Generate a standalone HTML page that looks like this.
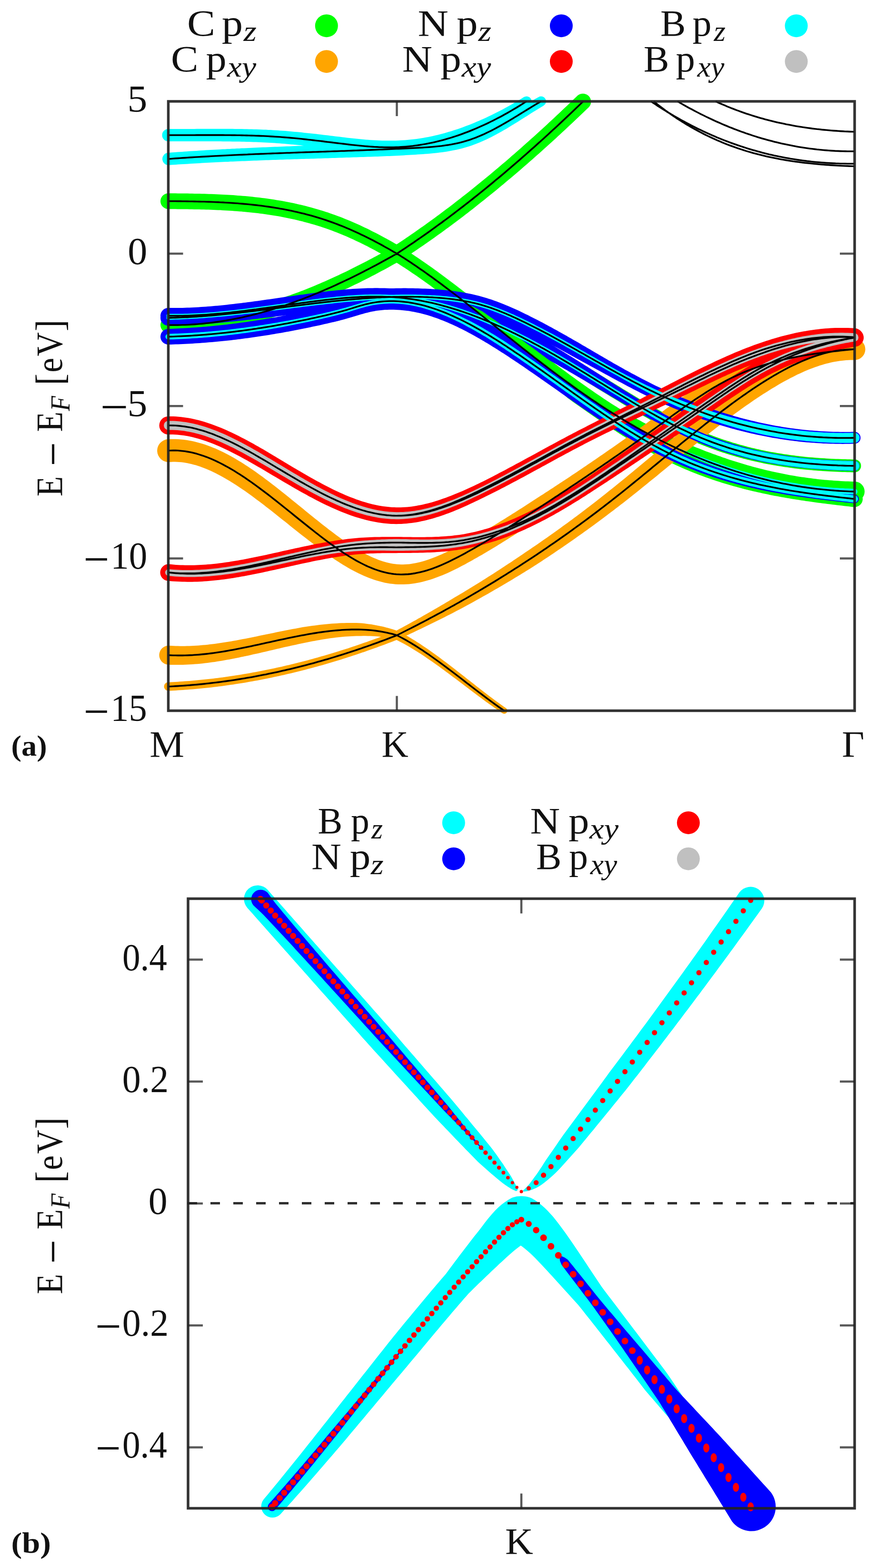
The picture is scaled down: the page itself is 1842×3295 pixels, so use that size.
<!DOCTYPE html>
<html lang="en"><head><meta charset="utf-8"><title>Projected band structure</title>
<style>html,body{margin:0;padding:0;background:#fff}svg{display:block}</style>
</head><body>
<svg width="1842" height="3295" viewBox="0 0 1842 3295" font-family="'Liberation Serif', serif" role="img" aria-label="Orbital-projected band structure">
<rect width="1842" height="3295" fill="#fff"/>
<circle cx="685.8" cy="54.2" r="24" fill="#00ff00"/>
<circle cx="1178.9" cy="54.2" r="24" fill="#0000ff"/>
<circle cx="1672.5" cy="54.2" r="24" fill="#00ffff"/>
<circle cx="685.8" cy="129.2" r="24" fill="#ffa500"/>
<circle cx="1178.9" cy="129.2" r="24" fill="#ff0000"/>
<circle cx="1672.5" cy="129.2" r="24" fill="#c0c0c0"/>
<circle cx="952.8" cy="1728.9" r="24" fill="#00ffff"/>
<circle cx="1445.8" cy="1728.9" r="24" fill="#ff0000"/>
<circle cx="952.8" cy="1804.7" r="24" fill="#0000ff"/>
<circle cx="1445.8" cy="1804.7" r="24" fill="#c0c0c0"/>
<path fill="#00ff00" d="M353.4 439.2L358.4 439.2L363.4 439.3L368.4 439.3L373.3 439.4L378.3 439.4L383.3 439.5L388.3 439.5L393.3 439.6L398.2 439.7L403.2 439.8L408.2 439.9L413.1 440L418.1 440.1L423.1 440.2L428 440.3L433 440.5L438 440.6L442.9 440.8L447.9 441L452.8 441.2L457.8 441.4L462.7 441.6L467.6 441.9L472.6 442.2L477.5 442.4L482.5 442.7L487.4 443.1L492.3 443.4L497.3 443.8L502.2 444.2L507.1 444.6L512 445L516.9 445.5L521.9 445.9L526.8 446.4L531.7 447L536.6 447.5L541.5 448.1L546.4 448.7L551.3 449.3L556.2 450L561.1 450.7L566 451.4L570.9 452.2L575.8 453L580.7 453.8L585.6 454.6L590.5 455.5L595.4 456.4L600.3 457.4L605.2 458.4L610 459.4L614.9 460.5L619.8 461.6L624.7 462.7L629.6 463.9L634.4 465.1L639.3 466.4L644.2 467.7L649.1 469L653.9 470.4L658.8 471.8L663.7 473.3L668.5 474.8L673.4 476.3L678.3 477.9L683.1 479.6L688 481.3L692.9 483L697.7 484.8L702.6 486.7L707.5 488.5L712.3 490.5L717.2 492.5L722.1 494.5L727 496.6L731.9 498.7L736.7 500.9L741.6 503.1L746.5 505.4L751.4 507.7L756.3 510L761.2 512.4L766.1 514.9L771 517.3L775.9 519.9L780.8 522.4L785.7 525L790.6 527.7L795.5 530.4L800.5 533.1L805.4 535.8L810.3 538.6L815.2 541.5L820.2 544.4L825.1 547.2L829.8 550.1L834.6 553.1L839.6 556.2L844.5 559.4L849.4 562.6L854.3 565.8L859.2 569.1L864.1 572.4L869 575.7L874 579.1L878.9 582.5L883.8 586L888.8 589.5L893.7 593L898.6 596.6L903.6 600.1L908.5 603.8L913.5 607.4L918.4 611.1L923.4 614.7L928.3 618.5L933.3 622.2L938.2 626L943.2 629.7L948.1 633.5L953.1 637.4L958.1 641.2L963 645.1L968 648.9L973 652.8L977.9 656.7L982.9 660.6L987.9 664.6L992.8 668.5L997.8 672.5L1002.8 676.4L1007.8 680.4L1012.8 684.4L1017.7 688.3L1022.7 692.3L1027.7 696.3L1032.7 700.3L1037.7 704.3L1042.7 708.3L1047.7 712.3L1052.7 716.3L1057.6 720.2L1062.6 724.2L1067.6 728.2L1072.6 732.2L1077.6 736.2L1082.6 740.1L1087.7 744.1L1092.7 748L1097.7 751.9L1102.7 755.9L1107.7 759.8L1112.7 763.7L1117.7 767.5L1122.7 771.4L1127.7 775.2L1132.7 779.1L1137.8 782.9L1142.8 786.7L1147.8 790.5L1152.8 794.2L1157.8 798L1162.9 801.7L1167.9 805.4L1172.9 809.1L1177.9 812.8L1182.9 816.5L1188 820.1L1193 823.7L1198 827.3L1203 830.9L1208.1 834.4L1213.1 837.9L1218.1 841.4L1223.2 844.9L1228.2 848.3L1233.2 851.8L1238.3 855.2L1243.3 858.5L1248.3 861.9L1253.4 865.2L1258.4 868.5L1263.4 871.8L1268.5 875L1273.5 878.2L1278.6 881.4L1283.6 884.6L1288.7 887.7L1293.7 890.8L1298.7 894L1303.7 897.1L1308.7 900.2L1313.7 903.2L1318.7 906.2L1323.7 909.2L1328.7 912.2L1333.7 915.1L1338.7 918L1343.7 920.9L1348.7 923.8L1353.7 926.6L1358.7 929.3L1363.7 932.1L1368.8 934.8L1373.8 937.5L1378.8 940.2L1383.8 942.8L1388.8 945.4L1393.8 948L1398.9 950.5L1403.9 953L1408.9 955.5L1413.9 957.9L1419 960.4L1424 962.8L1429 965.1L1434 967.4L1439.1 969.7L1444.1 972L1449.1 974.3L1454.2 976.5L1459.2 978.6L1464.2 980.8L1469.3 982.9L1474.3 985L1479.4 987.1L1484.4 989.1L1489.4 991.1L1494.5 993L1499.6 994.9L1504.6 996.8L1509.7 998.6L1514.7 1000.4L1519.8 1002.2L1524.9 1003.9L1530 1005.6L1535 1007.3L1540.1 1009L1545.2 1010.6L1550.2 1012.2L1555.3 1013.8L1560.4 1015.3L1565.5 1016.8L1570.5 1018.3L1575.6 1019.7L1580.7 1021.1L1585.8 1022.5L1590.8 1023.9L1595.9 1025.2L1601 1026.5L1606.1 1027.7L1611.2 1029L1616.2 1030.2L1621.3 1031.4L1626.4 1032.5L1631.5 1033.6L1636.6 1034.7L1641.6 1035.8L1646.7 1036.8L1651.8 1037.8L1656.9 1038.8L1662 1039.7L1667.1 1040.6L1672.2 1041.5L1677.3 1042.4L1682.3 1043.2L1687.4 1044L1692.5 1044.8L1697.6 1045.5L1702.7 1046.2L1707.8 1046.9L1712.9 1047.5L1718 1048.1L1723.1 1048.7L1728.2 1049.3L1733.3 1049.8L1738.4 1050.3L1743.4 1050.8L1748.5 1051.3L1753.6 1051.7L1758.7 1052.1L1763.8 1052.4L1768.9 1052.8L1774 1053.1L1779.1 1053.4L1784.2 1053.6L1789.3 1053.8L1794.4 1054A21 21 0 0 0 1795.6 1012L1790.7 1011.9L1785.9 1011.8L1781 1011.6L1776.1 1011.4L1771.3 1011.2L1766.4 1010.9L1761.5 1010.6L1756.6 1010.3L1751.8 1010L1746.9 1009.6L1742 1009.3L1737.2 1008.8L1732.3 1008.4L1727.4 1007.9L1722.6 1007.4L1717.7 1006.9L1712.8 1006.3L1707.9 1005.8L1703.1 1005.1L1698.2 1004.5L1693.3 1003.8L1688.5 1003.1L1683.6 1002.4L1678.7 1001.7L1673.8 1000.9L1669 1000.1L1664.1 999.2L1659.2 998.4L1654.3 997.5L1649.4 996.6L1644.6 995.6L1639.7 994.6L1634.8 993.6L1629.9 992.6L1625 991.5L1620.2 990.4L1615.3 989.3L1610.4 988.2L1605.5 987L1600.6 985.8L1595.7 984.6L1590.8 983.3L1586 982L1581.1 980.7L1576.2 979.3L1571.3 977.9L1566.4 976.5L1561.5 975.1L1556.6 973.6L1551.7 972.1L1546.8 970.6L1541.9 969.1L1537 967.5L1532.1 965.9L1527.2 964.2L1522.3 962.6L1517.4 960.9L1512.6 959.1L1507.7 957.4L1502.7 955.6L1497.8 953.9L1492.9 952.1L1488 950.2L1483 948.4L1478.1 946.5L1473.2 944.6L1468.3 942.6L1463.3 940.7L1458.4 938.7L1453.5 936.6L1448.5 934.6L1443.6 932.5L1438.7 930.3L1433.7 928.2L1428.8 926L1423.9 923.8L1418.9 921.5L1414 919.2L1409 916.9L1404.1 914.6L1399.1 912.2L1394.2 909.8L1389.2 907.4L1384.3 904.9L1379.3 902.5L1374.4 899.9L1369.4 897.4L1364.5 894.8L1359.5 892.2L1354.6 889.5L1349.6 886.9L1344.7 884.1L1339.7 881.4L1334.7 878.6L1329.8 875.8L1324.8 873L1319.8 870.1L1314.9 867.3L1309.9 864.3L1305 861.3L1300.1 858.3L1295.1 855.1L1290.2 852L1285.3 848.9L1280.4 845.7L1275.4 842.4L1270.5 839.2L1265.6 835.9L1260.7 832.6L1255.7 829.3L1250.8 825.9L1245.9 822.6L1240.9 819.1L1236 815.7L1231.1 812.3L1226.1 808.8L1221.2 805.3L1216.3 801.7L1211.3 798.2L1206.4 794.6L1201.4 791L1196.5 787.4L1191.6 783.8L1186.6 780.1L1181.7 776.4L1176.7 772.7L1171.8 769L1166.8 765.3L1161.9 761.5L1157 757.7L1152 753.9L1147.1 750.1L1142.1 746.3L1137.2 742.4L1132.2 738.6L1127.2 734.7L1122.3 730.8L1117.3 726.9L1112.4 723L1107.4 719.1L1102.5 715.1L1097.5 711.2L1092.5 707.2L1087.6 703.2L1082.6 699.3L1077.6 695.3L1072.7 691.3L1067.7 687.3L1062.7 683.3L1057.8 679.3L1052.8 675.3L1047.8 671.3L1042.8 667.2L1037.9 663.2L1032.9 659.2L1027.9 655.2L1022.9 651.2L1017.9 647.2L1012.9 643.3L1007.9 639.3L1002.9 635.3L998 631.3L993 627.4L988 623.5L983 619.5L978 615.6L973 611.7L968 607.8L963 604L957.9 600.1L952.9 596.3L947.9 592.5L942.9 588.7L937.9 584.9L932.9 581.2L927.9 577.5L922.8 573.8L917.8 570.1L912.8 566.5L907.8 562.8L902.7 559.3L897.7 555.7L892.7 552.2L887.6 548.7L882.6 545.2L877.5 541.8L872.5 538.4L867.4 535.1L862.4 531.8L857.3 528.5L852.3 525.2L847.2 522L841.9 518.8L836.8 515.8L831.8 512.9L826.7 510L821.6 507.1L816.5 504.3L811.5 501.4L806.4 498.7L801.3 495.9L796.2 493.2L791.1 490.6L786 487.9L780.9 485.4L775.8 482.8L770.7 480.3L765.6 477.9L760.5 475.5L755.4 473.1L750.3 470.8L745.1 468.5L740 466.3L734.9 464.1L729.8 462L724.7 459.9L719.5 457.8L714.4 455.8L709.3 453.9L704.1 452L699 450.2L693.9 448.4L688.7 446.6L683.6 445L678.5 443.3L673.3 441.7L668.2 440.2L663.1 438.7L657.9 437.2L652.8 435.8L647.7 434.4L642.6 433.1L637.4 431.8L632.3 430.6L627.2 429.4L622.1 428.3L617 427.1L611.8 426.1L606.7 425L601.6 424L596.5 423.1L591.4 422.1L586.3 421.3L581.2 420.4L576.1 419.6L571 418.8L565.9 418L560.8 417.3L555.7 416.6L550.6 416L545.5 415.3L540.4 414.7L535.3 414.2L530.2 413.6L525.1 413.1L520.1 412.6L515 412.1L509.9 411.7L504.8 411.3L499.7 410.9L494.7 410.5L489.6 410.1L484.5 409.8L479.5 409.5L474.4 409.2L469.4 408.9L464.3 408.7L459.2 408.4L454.2 408.2L449.1 408L444.1 407.8L439 407.7L434 407.5L429 407.3L423.9 407.2L418.9 407.1L413.9 407L408.8 406.9L403.8 406.8L398.8 406.7L393.7 406.6L388.7 406.6L383.7 406.5L378.7 406.4L373.7 406.4L368.6 406.3L363.6 406.3L358.6 406.3L353.6 406.2A16.5 16.5 0 0 0 353.4 439.2ZM353.2 699.5L358.3 699.6L363.4 699.6L368.6 699.6L373.7 699.6L378.9 699.5L384 699.3L389.1 699.2L394.3 699L399.4 698.7L404.5 698.4L409.7 698.1L414.8 697.7L419.9 697.2L425 696.8L430.2 696.3L435.3 695.7L440.4 695.2L445.5 694.5L450.7 693.9L455.8 693.2L460.9 692.4L466 691.7L471.2 690.8L476.3 690L481.4 689.1L486.5 688.2L491.6 687.2L496.7 686.2L501.8 685.2L506.9 684.1L512 683L517.2 681.9L522.3 680.7L527.4 679.5L532.5 678.2L537.6 676.9L542.7 675.6L547.8 674.3L552.9 672.9L558 671.5L563.1 670L568.2 668.5L573.2 667L578.3 665.5L583.4 663.9L588.5 662.3L593.6 660.7L598.7 659L603.8 657.3L608.9 655.5L614 653.8L619 652L624.1 650.2L629.2 648.3L634.3 646.4L639.4 644.5L644.4 642.6L649.5 640.6L654.6 638.6L659.7 636.6L664.7 634.5L669.8 632.4L674.9 630.3L679.9 628.2L685 626L690.1 623.9L695.1 621.6L700.2 619.4L705.3 617.1L710.3 614.9L715.4 612.5L720.5 610.2L725.5 607.8L730.6 605.5L735.6 603L740.7 600.6L745.7 598.1L750.8 595.7L755.9 593.2L760.9 590.6L766 588.1L771 585.5L776.1 582.9L781.1 580.3L786.2 577.7L791.2 575L796.3 572.3L801.3 569.6L806.4 566.9L811.4 564.2L816.4 561.4L821.5 558.6L826.5 555.8L831.6 553L836.6 550.2L842.1 547.1L847.5 543.6L852.5 540.3L857.5 537L862.5 533.7L867.5 530.3L872.5 526.9L877.5 523.5L882.5 520.1L887.5 516.7L892.5 513.2L897.5 509.7L902.5 506.2L907.5 502.7L912.5 499.2L917.5 495.6L922.5 492L927.5 488.4L932.5 484.7L937.5 481.1L942.5 477.4L947.5 473.7L952.5 470L957.5 466.2L962.5 462.5L967.5 458.7L972.5 454.9L977.5 451L982.5 447.2L987.5 443.3L992.5 439.4L997.5 435.5L1002.4 431.6L1007.4 427.6L1012.4 423.6L1017.4 419.7L1022.4 415.6L1027.4 411.6L1032.4 407.5L1037.4 403.5L1042.4 399.4L1047.4 395.3L1052.4 391.1L1057.4 387L1062.3 382.8L1067.3 378.6L1072.3 374.4L1077.3 370.2L1082.3 365.9L1087.3 361.7L1092.3 357.4L1097.3 353.1L1102.2 348.7L1107.2 344.4L1112.2 340L1117.2 335.7L1122.2 331.3L1127.2 326.8L1132.2 322.4L1137.2 318L1142.1 313.5L1147.1 309L1152.1 304.5L1157.1 300L1162.1 295.4L1167.1 290.9L1172 286.3L1177 281.7L1182 277.1L1187 272.4L1192 267.8L1197 263.1L1201.9 258.5L1206.9 253.8L1211.9 249L1216.9 244.3L1221.9 239.6L1226.9 234.8L1231.8 230L1236.8 225.2A17 17 0 0 0 1213.2 200.8L1208.3 205.5L1203.3 210.3L1198.4 215L1193.5 219.7L1188.5 224.4L1183.6 229.1L1178.7 233.8L1173.7 238.4L1168.8 243.1L1163.9 247.7L1159 252.3L1154 256.8L1149.1 261.4L1144.2 266L1139.3 270.5L1134.3 275L1129.4 279.5L1124.5 283.9L1119.5 288.4L1114.6 292.8L1109.7 297.3L1104.8 301.6L1099.8 306L1094.9 310.4L1090 314.7L1085.1 319.1L1080.1 323.4L1075.2 327.6L1070.3 331.9L1065.4 336.2L1060.5 340.4L1055.5 344.6L1050.6 348.8L1045.7 353L1040.8 357.1L1035.8 361.2L1030.9 365.4L1026 369.4L1021.1 373.5L1016.2 377.6L1011.2 381.6L1006.3 385.6L1001.4 389.6L996.5 393.6L991.6 397.5L986.6 401.5L981.7 405.4L976.8 409.3L971.9 413.1L967 417L962 420.8L957.1 424.6L952.2 428.4L947.3 432.2L942.4 435.9L937.5 439.6L932.5 443.3L927.6 447L922.7 450.7L917.8 454.3L912.9 457.9L908 461.5L903.1 465.1L898.2 468.6L893.2 472.2L888.3 475.7L883.4 479.1L878.5 482.6L873.6 486L868.7 489.5L863.8 492.8L858.9 496.2L854 499.6L849 502.9L844.1 506.2L839.2 509.5L834.3 512.7L829.4 516L824.9 518.9L820.4 521.4L815.4 524.2L810.5 527L805.5 529.7L800.6 532.5L795.6 535.2L790.6 537.9L785.7 540.5L780.7 543.2L775.8 545.8L770.8 548.4L765.9 551L760.9 553.6L756 556.1L751 558.6L746.1 561.1L741.1 563.6L736.2 566.1L731.3 568.5L726.3 570.9L721.4 573.3L716.4 575.6L711.5 578L706.5 580.3L701.6 582.6L696.7 584.8L691.7 587L686.8 589.3L681.9 591.4L676.9 593.6L672 595.7L667.1 597.8L662.1 599.9L657.2 601.9L652.3 604L647.3 606L642.4 607.9L637.5 609.9L632.6 611.8L627.6 613.7L622.7 615.5L617.8 617.3L612.9 619.1L608 620.9L603 622.6L598.1 624.3L593.2 626L588.3 627.7L583.4 629.3L578.5 630.9L573.6 632.4L568.7 633.9L563.8 635.4L558.8 636.9L553.9 638.3L549 639.7L544.1 641.1L539.2 642.4L534.3 643.7L529.4 645L524.5 646.2L519.6 647.4L514.7 648.6L509.8 649.7L505 650.8L500.1 651.8L495.2 652.9L490.3 653.9L485.4 654.8L480.5 655.7L475.6 656.6L470.7 657.5L465.8 658.3L461 659.1L456.1 659.8L451.2 660.5L446.3 661.2L441.5 661.8L436.6 662.4L431.7 662.9L426.8 663.5L422 663.9L417.1 664.4L412.2 664.8L407.3 665.1L402.5 665.5L397.6 665.7L392.7 666L387.9 666.2L383 666.4L378.1 666.5L373.3 666.6L368.4 666.6L363.6 666.6L358.7 666.6L353.8 666.5A16.5 16.5 0 0 0 353.2 699.5ZM1101.5 711.6L1106.1 715.1L1110.6 718.6L1115.1 722.1L1119.6 725.6L1124.1 729.2L1128.6 732.8L1133.1 736.4L1137.5 740L1142 743.6L1146.5 747.3L1150.9 751L1155.4 754.7L1159.9 758.4L1164.5 761.9L1169.4 764.8L1174.4 767.7L1179.4 770.6L1184.3 773.6L1189.3 776.5L1194.3 779.5L1199.2 782.5L1204.2 785.5L1209.2 788.5L1214.2 791.5L1219.2 794.5L1224.2 797.6L1229.1 800.6L1234.1 803.7L1239.1 806.7L1244.1 809.8L1249.1 812.8L1254.1 815.9L1259.1 819L1264.1 822L1269.1 825.1L1274.1 828.1L1279.1 831.2L1284.1 834.2L1289.2 837.3L1294.2 840.3L1299.2 843.3L1304.2 846.4L1309.2 849.4L1314.2 852.4L1319.3 855.3L1324.3 858.3L1329.3 861.3L1334.3 864.2L1339.4 867.1L1344.4 870L1349.4 872.9L1354.5 875.8L1359.5 878.6L1364.5 881.4L1369.6 884.2L1374.6 887L1379.7 889.7L1384.7 892.4L1389.8 895.1L1394.8 897.8L1399.9 900.4L1404.9 903L1410 905.6L1415 908.1L1420.1 910.6L1425.2 913L1430.3 915.5L1435.3 917.8L1440.4 920.2L1445.5 922.5L1450.5 924.8L1455.6 927L1460.7 929.2L1465.8 931.4L1470.8 933.5L1475.9 935.5L1481 937.5L1486.1 939.5L1491.2 941.4L1496.2 943.3L1501.3 945.1L1506.4 946.9L1511.5 948.7L1516.6 950.4L1521.6 952L1526.7 953.7L1531.8 955.3L1536.9 956.8L1541.9 958.3L1547 959.8L1552.1 961.2L1557.2 962.6L1562.2 963.9L1567.3 965.2L1572.4 966.5L1577.5 967.7L1582.5 968.9L1587.6 970.1L1592.7 971.2L1597.8 972.3L1602.8 973.4L1607.9 974.4L1613 975.4L1618 976.3L1623.1 977.2L1628.2 978.1L1633.2 979L1638.3 979.8L1643.4 980.6L1648.4 981.4L1653.5 982.1L1658.5 982.8L1663.6 983.5L1668.7 984.2L1673.7 984.8L1678.8 985.4L1683.8 985.9L1688.9 986.5L1693.9 987L1699 987.5L1704.1 987.9L1709.1 988.4L1714.2 988.8L1719.2 989.2L1724.2 989.5L1729.3 989.9L1734.3 990.2L1739.4 990.5L1744.4 990.8L1749.5 991L1754.5 991.3L1759.6 991.5L1764.6 991.7L1769.6 991.9L1774.7 992L1779.7 992.2L1784.7 992.3L1789.8 992.4L1794.8 992.5A13.5 13.5 0 0 0 1795.2 965.5L1790.2 965.4L1785.3 965.3L1780.4 965.2L1775.4 965.1L1770.5 965L1765.6 964.8L1760.6 964.6L1755.7 964.4L1750.7 964.2L1745.8 964L1740.9 963.7L1735.9 963.4L1731 963.1L1726.1 962.8L1721.2 962.5L1716.2 962.1L1711.3 961.7L1706.4 961.3L1701.5 960.9L1696.5 960.4L1691.6 959.9L1686.7 959.4L1681.8 958.9L1676.9 958.3L1671.9 957.7L1667 957.1L1662.1 956.5L1657.2 955.8L1652.3 955.1L1647.4 954.4L1642.5 953.6L1637.5 952.8L1632.6 952L1627.7 951.1L1622.8 950.3L1617.9 949.4L1613 948.4L1608.1 947.4L1603.2 946.4L1598.3 945.4L1593.4 944.3L1588.5 943.2L1583.6 942.1L1578.7 940.9L1573.8 939.7L1568.9 938.4L1564 937.1L1559.1 935.8L1554.2 934.5L1549.3 933.1L1544.4 931.6L1539.5 930.2L1534.6 928.6L1529.7 927.1L1524.8 925.5L1519.9 923.9L1515 922.2L1510.1 920.5L1505.2 918.7L1500.3 916.9L1495.4 915.1L1490.5 913.2L1485.6 911.3L1480.7 909.3L1475.8 907.3L1470.9 905.2L1466 903.1L1461.1 901L1456.2 898.8L1451.3 896.5L1446.4 894.2L1441.5 891.9L1436.6 889.5L1431.7 887.1L1426.8 884.6L1421.9 882.2L1416.9 879.6L1412 877.1L1407.1 874.5L1402.2 871.8L1397.2 869.2L1392.3 866.5L1387.4 863.8L1382.5 861L1377.5 858.2L1372.6 855.4L1367.6 852.6L1362.7 849.8L1357.8 846.9L1352.8 844L1347.9 841.1L1342.9 838.2L1338 835.2L1333 832.2L1328.1 829.3L1323.1 826.3L1318.2 823.3L1313.2 820.2L1308.2 817.2L1303.3 814.1L1298.3 811.1L1293.3 808L1288.4 805L1283.4 801.9L1278.4 798.8L1273.5 795.7L1268.5 792.6L1263.5 789.5L1258.5 786.4L1253.5 783.3L1248.6 780.2L1243.6 777.2L1238.6 774.1L1233.6 771L1228.6 767.9L1223.6 764.9L1218.6 761.8L1213.6 758.7L1208.6 755.7L1203.6 752.7L1198.6 749.7L1193.6 746.7L1188.6 743.7L1183.6 740.7L1178.6 737.7L1173.2 735.4L1167.7 733.4L1162.2 731.4L1156.6 729.4L1151.1 727.4L1145.6 725.5L1140.1 723.6L1134.6 721.7L1129.2 719.8L1123.7 718L1118.2 716.2L1112.7 714.4L1107.3 712.7L1101.8 711A0.3 0.3 0 0 0 1101.5 711.6ZM1121.5 767.6L1125.9 771.8L1130.3 776.1L1134.7 780.4L1139.2 784.8L1143.6 789.1L1148 793.4L1152.4 797.7L1156.9 802.1L1161.3 806.4L1165.7 810.7L1170.1 815.1L1174.6 819.4L1179 823.8L1183.4 828.1L1187.9 832.4L1192.5 836.6L1197.5 840.1L1202.4 843.7L1207.4 847.2L1212.4 850.8L1217.4 854.3L1222.4 857.8L1227.4 861.3L1232.4 864.8L1237.4 868.3L1242.4 871.8L1247.5 875.3L1252.5 878.7L1257.5 882.2L1262.5 885.6L1267.5 889L1272.5 892.3L1277.5 895.7L1282.6 899L1287.6 902.4L1292.6 905.6L1297.7 908.9L1302.7 912.2L1307.7 915.4L1312.8 918.6L1317.8 921.7L1322.8 924.8L1327.9 927.9L1332.9 931L1338 934L1343 937L1348.1 940L1353.2 942.9L1358.2 945.8L1363.3 948.6L1368.4 951.5L1373.4 954.2L1378.5 957L1383.6 959.6L1388.7 962.3L1393.8 964.9L1398.9 967.4L1403.9 969.9L1409 972.4L1414.1 974.8L1419.2 977.2L1424.3 979.5L1429.4 981.7L1434.5 984L1439.6 986.2L1444.7 988.3L1449.7 990.4L1454.8 992.5L1459.9 994.5L1465 996.5L1470.1 998.4L1475.2 1000.3L1480.3 1002.2L1485.3 1004L1490.4 1005.8L1495.5 1007.5L1500.6 1009.3L1505.7 1010.9L1510.8 1012.6L1515.8 1014.2L1520.9 1015.8L1526 1017.3L1531.1 1018.8L1536.1 1020.3L1541.2 1021.7L1546.3 1023.1L1551.4 1024.5L1556.4 1025.8L1561.5 1027.2L1566.6 1028.5L1571.6 1029.7L1576.7 1030.9L1581.8 1032.2L1586.8 1033.3L1591.9 1034.5L1597 1035.6L1602 1036.7L1607.1 1037.8L1612.1 1038.8L1617.2 1039.9L1622.3 1040.9L1627.3 1041.9L1632.4 1042.8L1637.4 1043.8L1642.5 1044.7L1647.5 1045.6L1652.6 1046.5L1657.6 1047.3L1662.6 1048.2L1667.7 1049L1672.7 1049.8L1677.8 1050.6L1682.8 1051.4L1687.8 1052.1L1692.9 1052.9L1697.9 1053.6L1702.9 1054.3L1707.9 1055L1713 1055.7L1718 1056.4L1723 1057L1728 1057.7L1733.1 1058.3L1738.1 1059L1743.1 1059.6L1748.1 1060.2L1753.1 1060.8L1758.1 1061.4L1763.1 1062L1768.1 1062.6L1773.1 1063.2L1778.2 1063.7L1783.2 1064.3L1788.2 1064.9L1793.1 1065.4A17 17 0 0 0 1796.9 1031.6L1791.9 1031.1L1786.9 1030.6L1781.9 1030L1776.9 1029.5L1772 1028.9L1767 1028.4L1762 1027.8L1757.1 1027.2L1752.1 1026.7L1747.1 1026.1L1742.2 1025.5L1737.2 1024.9L1732.3 1024.3L1727.3 1023.7L1722.4 1023L1717.4 1022.4L1712.5 1021.7L1707.5 1021.1L1702.6 1020.4L1697.6 1019.7L1692.7 1019L1687.7 1018.3L1682.8 1017.5L1677.9 1016.8L1672.9 1016L1668 1015.2L1663.1 1014.4L1658.1 1013.6L1653.2 1012.8L1648.3 1011.9L1643.3 1011.1L1638.4 1010.2L1633.5 1009.3L1628.6 1008.3L1623.6 1007.4L1618.7 1006.4L1613.8 1005.4L1608.9 1004.4L1604 1003.3L1599.1 1002.3L1594.2 1001.2L1589.2 1000.1L1584.3 998.9L1579.4 997.8L1574.5 996.6L1569.6 995.3L1564.7 994.1L1559.8 992.8L1554.9 991.5L1550 990.2L1545.1 988.8L1540.2 987.4L1535.3 986L1530.4 984.5L1525.5 983L1520.6 981.5L1515.7 980L1510.8 978.4L1505.9 976.7L1501 975.1L1496.1 973.4L1491.2 971.7L1486.4 969.9L1481.5 968.1L1476.6 966.3L1471.7 964.4L1466.8 962.5L1461.9 960.5L1457 958.5L1452.1 956.5L1447.2 954.4L1442.4 952.3L1437.5 950.1L1432.6 947.9L1427.7 945.7L1422.8 943.4L1417.9 941.1L1413 938.7L1408.1 936.3L1403.3 933.8L1398.4 931.3L1393.5 928.7L1388.6 926.1L1383.7 923.5L1378.8 920.8L1373.9 918.1L1368.9 915.3L1364 912.5L1359.1 909.6L1354.2 906.7L1349.3 903.8L1344.3 900.8L1339.4 897.9L1334.5 894.8L1329.5 891.8L1324.6 888.7L1319.7 885.5L1314.7 882.4L1309.8 879.2L1304.8 876L1299.9 872.8L1294.9 869.5L1290 866.2L1285 862.9L1280.1 859.6L1275.1 856.2L1270.1 852.9L1265.2 849.5L1260.2 846.1L1255.2 842.7L1250.3 839.2L1245.3 835.8L1240.3 832.3L1235.3 828.8L1230.4 825.3L1225.4 821.8L1220.4 818.3L1215.4 814.8L1210.4 811.3L1205 808.3L1199.5 805.5L1194 802.8L1188.4 800L1182.9 797.2L1177.3 794.5L1171.8 791.7L1166.2 788.9L1160.7 786.2L1155.1 783.4L1149.6 780.7L1144 777.9L1138.5 775.2L1132.9 772.5L1127.4 769.7L1121.8 767A0.3 0.3 0 0 0 1121.5 767.6Z"/>
<path fill="#ffa500" d="M354.9 971L359.5 970.7L363.7 970.5L367.9 970.5L372.2 970.7L376.4 970.9L380.7 971.3L385 971.8L389.4 972.5L393.7 973.3L398.1 974.2L402.5 975.2L407 976.4L411.4 977.6L415.9 979L420.5 980.6L425 982.2L429.6 983.9L434.1 985.8L438.7 987.8L443.4 989.8L448 992L452.7 994.3L457.4 996.7L462.1 999.2L466.8 1001.8L471.6 1004.4L476.3 1007.2L481.1 1010L485.9 1013L490.7 1016L495.5 1019.1L500.3 1022.2L505.1 1025.5L510 1028.8L514.9 1032.1L519.7 1035.6L524.6 1039.1L529.5 1042.6L534.4 1046.2L539.3 1049.9L544.2 1053.6L549.1 1057.3L554.1 1061.1L559 1064.9L564 1068.7L568.9 1072.6L573.9 1076.5L578.9 1080.4L583.8 1084.4L588.8 1088.4L593.8 1092.4L598.8 1096.3L603.8 1100.3L608.8 1104.4L613.8 1108.4L618.9 1112.4L623.9 1116.4L628.9 1120.4L634 1124.4L639 1128.3L644.1 1132.3L649.2 1136.2L654.2 1140.1L659.3 1144L664.4 1147.9L669.5 1151.7L674.6 1155.5L679.7 1159.2L684.9 1162.9L690 1166.6L695.2 1170.2L700.3 1173.7L705.5 1177.2L710.7 1180.6L716 1183.9L721.2 1187.2L726.4 1190.3L731.7 1193.4L737 1196.4L742.3 1199.3L747.6 1202.1L753 1204.8L758.4 1207.3L763.8 1209.8L769.2 1212.1L774.6 1214.3L780.1 1216.3L785.6 1218.3L791.1 1220L796.7 1221.6L802.3 1223.1L807.9 1224.4L813.5 1225.5L819.2 1226.4L824.9 1227.1L830.6 1227.7L836.4 1228L842.1 1228.1L847.8 1228.1L853.5 1227.8L859.1 1227.4L864.7 1226.7L870.3 1226L875.9 1225L881.4 1223.9L886.9 1222.7L892.4 1221.3L897.8 1219.8L903.2 1218.2L908.6 1216.5L914 1214.6L919.3 1212.6L924.6 1210.6L929.9 1208.4L935.2 1206.2L940.4 1203.9L945.6 1201.5L950.8 1199L956 1196.5L961.2 1193.9L966.3 1191.3L971.4 1188.6L976.5 1185.9L981.6 1183.1L986.7 1180.3L991.8 1177.5L996.8 1174.6L1001.9 1171.7L1006.9 1168.8L1012 1165.9L1017 1163L1022 1160L1027.1 1157L1032.1 1154L1037.1 1150.9L1042.2 1147.9L1047.2 1144.8L1052.2 1141.7L1057.2 1138.6L1062.2 1135.4L1067.3 1132.3L1072.3 1129.1L1077.3 1125.9L1082.3 1122.8L1087.3 1119.6L1092.3 1116.3L1097.3 1113.1L1102.3 1109.9L1107.3 1106.6L1112.3 1103.4L1117.3 1100.1L1122.3 1096.9L1127.2 1093.6L1132.2 1090.3L1137.2 1087L1142.2 1083.7L1147.2 1080.5L1152.2 1077.2L1157.1 1073.9L1162.1 1070.6L1167.1 1067.3L1172.1 1064L1177.1 1060.7L1182.1 1057.3L1187 1054L1192 1050.7L1197 1047.4L1202 1044L1207 1040.7L1212 1037.3L1217 1034L1222 1030.7L1227 1027.3L1232 1024L1237 1020.6L1242 1017.3L1247 1013.9L1252 1010.5L1257 1007.2L1262.1 1003.8L1267.1 1000.4L1272.1 996.9L1277.1 993.5L1282.1 990.1L1287.1 986.7L1292.1 983.2L1297.1 979.8L1302.1 976.3L1307.2 972.8L1312.2 969.3L1317.2 965.8L1322.2 962.3L1327.2 958.8L1332.2 955.3L1337.3 951.7L1342.3 948.2L1347.3 944.6L1352.3 941L1357.3 937.4L1362.3 933.8L1367.4 930.2L1372.4 926.6L1377.4 923L1382.4 919.3L1387.4 915.6L1392.4 912L1397.4 908.3L1402.4 904.7L1407.4 901L1412.4 897.3L1417.4 893.7L1422.3 890.1L1427.3 886.5L1432.3 882.9L1437.2 879.3L1442.2 875.8L1447.1 872.3L1452 868.8L1457 865.3L1461.9 861.9L1466.8 858.5L1471.7 855.2L1476.6 851.9L1481.5 848.7L1486.4 845.5L1491.3 842.3L1496.1 839.3L1501 836.2L1505.8 833.3L1510.7 830.4L1515.5 827.5L1520.3 824.8L1525.1 822.1L1529.9 819.5L1534.7 816.9L1539.5 814.5L1544.3 812.1L1549.1 809.8L1553.9 807.5L1558.6 805.3L1563.4 803.2L1568.2 801.2L1573 799.2L1577.8 797.3L1582.6 795.4L1587.4 793.6L1592.2 791.8L1597 790.2L1601.8 788.5L1606.6 787L1611.4 785.4L1616.2 784L1621 782.5L1625.8 781.2L1630.6 779.8L1635.4 778.5L1640.2 777.3L1645.1 776.1L1649.9 775L1654.7 773.9L1659.6 772.8L1664.4 771.8L1669.3 770.8L1674.1 769.8L1679 768.9L1683.8 768L1688.7 767.1L1693.6 766.3L1698.4 765.5L1703.3 764.7L1708.2 764L1713.1 763.3L1718 762.6L1722.9 761.9L1727.8 761.3L1732.7 760.6L1737.6 760L1742.5 759.4L1747.5 758.8L1752.4 758.3L1757.3 757.7L1762.3 757.2L1767.2 756.6L1772.2 756.1L1777.1 755.6L1782.1 755.1L1787.1 754.6L1792 754.1L1797 753.6A20 20 0 0 0 1793 713.8L1788 714.3L1783 714.8L1778 715.4L1773 715.9L1768 716.4L1762.9 717L1757.9 717.5L1752.9 718.1L1747.8 718.7L1742.8 719.3L1737.7 719.9L1732.7 720.5L1727.6 721.2L1722.6 721.8L1717.5 722.5L1712.4 723.2L1707.3 724L1702.2 724.7L1697.2 725.5L1692.1 726.4L1687 727.2L1681.8 728.1L1676.7 729L1671.6 730L1666.5 731L1661.4 732L1656.2 733.1L1651.1 734.2L1646 735.3L1640.8 736.5L1635.7 737.8L1630.5 739.1L1625.4 740.4L1620.2 741.8L1615.1 743.2L1609.9 744.7L1604.7 746.3L1599.6 747.9L1594.4 749.5L1589.2 751.3L1584 753L1578.9 754.9L1573.7 756.8L1568.5 758.7L1563.3 760.8L1558.1 762.9L1552.9 765.1L1547.7 767.3L1542.5 769.6L1537.3 772L1532.2 774.5L1527 777L1521.8 779.6L1516.6 782.3L1511.4 785.1L1506.2 787.9L1501 790.8L1495.9 793.8L1490.7 796.8L1485.6 799.9L1480.5 803.1L1475.4 806.3L1470.3 809.5L1465.2 812.8L1460.1 816.2L1455 819.6L1449.9 823L1444.8 826.5L1439.8 830L1434.7 833.5L1429.7 837.1L1424.6 840.6L1419.6 844.2L1414.6 847.9L1409.5 851.5L1404.5 855.2L1399.5 858.8L1394.5 862.5L1389.5 866.2L1384.5 869.8L1379.5 873.5L1374.6 877.2L1369.6 880.9L1364.6 884.5L1359.6 888.2L1354.7 891.8L1349.7 895.4L1344.8 899L1339.8 902.6L1334.9 906.2L1329.9 909.8L1324.9 913.3L1320 916.9L1315 920.4L1310.1 923.9L1305.1 927.4L1300.1 930.9L1295.2 934.4L1290.2 937.9L1285.3 941.4L1280.3 944.8L1275.3 948.3L1270.4 951.7L1265.4 955.2L1260.4 958.6L1255.5 962L1250.5 965.4L1245.6 968.8L1240.6 972.2L1235.6 975.6L1230.7 979L1225.7 982.3L1220.7 985.7L1215.8 989L1210.8 992.4L1205.8 995.7L1200.8 999.1L1195.9 1002.4L1190.9 1005.7L1185.9 1009L1180.9 1012.3L1175.9 1015.6L1171 1018.8L1166 1022.1L1161 1025.4L1156 1028.6L1151 1031.9L1146 1035.1L1141 1038.4L1136 1041.6L1131 1044.8L1126 1048.1L1121 1051.3L1116 1054.5L1111 1057.8L1106 1061L1101.1 1064.2L1096.1 1067.4L1091.1 1070.6L1086.1 1073.7L1081.1 1076.9L1076.1 1080.1L1071.2 1083.2L1066.2 1086.3L1061.2 1089.5L1056.3 1092.6L1051.3 1095.6L1046.3 1098.7L1041.4 1101.8L1036.4 1104.8L1031.5 1107.8L1026.5 1110.8L1021.5 1113.8L1016.6 1116.7L1011.6 1119.7L1006.7 1122.6L1001.8 1125.4L996.8 1128.3L991.9 1131.1L987 1133.9L982 1136.7L977.1 1139.5L972.2 1142.2L967.3 1144.9L962.4 1147.5L957.5 1150.1L952.6 1152.6L947.8 1155.1L942.9 1157.5L938.1 1159.9L933.3 1162.2L928.5 1164.4L923.8 1166.5L919 1168.5L914.3 1170.5L909.6 1172.3L905 1174.1L900.3 1175.7L895.7 1177.3L891.1 1178.7L886.6 1180L882 1181.2L877.5 1182.3L873 1183.3L868.6 1184.1L864.2 1184.8L859.8 1185.4L855.4 1185.8L851.1 1186.1L846.8 1186.2L842.5 1186.2L838.3 1186.1L834 1185.8L829.8 1185.3L825.5 1184.7L821.2 1184L816.9 1183.1L812.5 1182L808.1 1180.8L803.7 1179.5L799.3 1178L794.8 1176.4L790.3 1174.6L785.8 1172.8L781.2 1170.7L776.6 1168.6L772 1166.3L767.4 1164L762.8 1161.5L758.1 1158.8L753.4 1156.1L748.7 1153.3L744 1150.4L739.2 1147.4L734.5 1144.3L729.7 1141.1L724.9 1137.8L720.1 1134.4L715.3 1131L710.5 1127.5L705.6 1123.9L700.8 1120.3L695.9 1116.6L691 1112.9L686.1 1109.1L681.2 1105.3L676.3 1101.4L671.4 1097.6L666.5 1093.6L661.6 1089.7L656.7 1085.7L651.7 1081.7L646.8 1077.7L641.8 1073.7L636.9 1069.6L631.9 1065.6L626.9 1061.5L622 1057.5L617 1053.4L612 1049.4L607 1045.3L602 1041.3L597 1037.2L591.9 1033.2L586.9 1029.2L581.9 1025.3L576.8 1021.3L571.8 1017.4L566.7 1013.5L561.7 1009.7L556.6 1005.9L551.5 1002.1L546.4 998.4L541.3 994.7L536.2 991.1L531.1 987.5L525.9 984L520.8 980.6L515.6 977.2L510.4 973.8L505.2 970.6L500 967.4L494.8 964.3L489.6 961.3L484.3 958.3L479.1 955.5L473.8 952.7L468.5 950L463.1 947.5L457.8 945L452.4 942.6L447 940.4L441.6 938.2L436.2 936.2L430.7 934.3L425.2 932.5L419.7 930.9L414.2 929.4L408.6 928L403 926.8L397.4 925.7L391.8 924.8L386.1 924L380.4 923.4L374.7 923L369 922.7L363.2 922.7L357.5 922.8L352.1 923.1A24 24 0 0 0 354.9 971ZM837.5 1343L842.6 1340.7L847.6 1338.4L852.7 1336L857.8 1333.7L862.9 1331.3L868 1328.9L873 1326.5L878.1 1324.1L883.2 1321.7L888.3 1319.2L893.4 1316.8L898.5 1314.3L903.5 1311.8L908.6 1309.3L913.7 1306.8L918.8 1304.3L923.9 1301.8L929 1299.2L934.1 1296.7L939.2 1294.1L944.3 1291.5L949.3 1288.9L954.4 1286.3L959.5 1283.6L964.6 1281L969.7 1278.3L974.8 1275.5L979.8 1272.8L984.9 1270L990 1267.2L995 1264.5L1000.1 1261.6L1005.2 1258.8L1010.2 1256L1015.3 1253.1L1020.4 1250.3L1025.4 1247.4L1030.5 1244.5L1035.6 1241.6L1040.7 1238.6L1045.7 1235.7L1050.8 1232.7L1055.9 1229.7L1060.9 1226.7L1066 1223.7L1071.1 1220.7L1076.2 1217.7L1081.2 1214.6L1086.3 1211.5L1091.4 1208.4L1096.5 1205.3L1101.5 1202.2L1106.6 1199.1L1111.7 1195.9L1116.8 1192.7L1121.8 1189.5L1126.9 1186.2L1131.9 1183L1137 1179.7L1142 1176.3L1147.1 1173L1152.1 1169.7L1157.2 1166.3L1162.2 1162.9L1167.2 1159.5L1172.3 1156.1L1177.3 1152.7L1182.4 1149.2L1187.4 1145.7L1192.5 1142.2L1197.5 1138.7L1202.6 1135.2L1207.6 1131.7L1212.7 1128.1L1217.7 1124.5L1222.8 1120.9L1227.8 1117.3L1232.9 1113.7L1237.9 1110L1242.9 1106.4L1248 1102.7L1253 1099L1258.1 1095.2L1263.1 1091.5L1268.2 1087.7L1273.2 1083.9L1278.3 1080.1L1283.3 1076.3L1288.4 1072.5L1293.4 1068.6L1298.5 1064.7L1303.5 1060.8L1308.6 1056.9L1313.6 1053L1318.7 1049L1323.7 1045L1328.7 1041L1333.8 1037L1338.8 1032.9L1343.8 1028.9L1348.9 1024.8L1353.9 1020.8L1358.9 1016.7L1363.9 1012.6L1368.9 1008.5L1374 1004.4L1379 1000.4L1384 996.2L1389 992.1L1394 988L1399 983.9L1404 979.8L1409 975.7L1414 971.6L1419 967.5L1424 963.4L1429 959.3L1434 955.3L1439 951.2L1444 947.1L1449 943.1L1454 939.1L1458.9 935L1463.9 931L1468.9 927L1473.9 923L1478.8 919.1L1483.8 915.1L1488.8 911.2L1493.8 907.3L1498.7 903.4L1503.7 899.5L1508.6 895.7L1513.6 891.9L1518.5 888.1L1523.5 884.3L1528.4 880.6L1533.4 876.9L1538.3 873.2L1543.3 869.6L1548.2 865.9L1553.1 862.4L1558.1 858.8L1563 855.3L1567.9 851.8L1572.9 848.4L1577.8 845L1582.7 841.6L1587.6 838.3L1592.5 835L1597.4 831.8L1602.3 828.6L1607.2 825.5L1612.1 822.4L1617 819.3L1621.8 816.3L1626.7 813.4L1631.6 810.5L1636.4 807.6L1641.3 804.8L1646.1 802.1L1650.9 799.5L1655.7 796.9L1660.6 794.3L1665.4 791.9L1670.1 789.5L1674.9 787.1L1679.7 784.9L1684.5 782.7L1689.2 780.6L1693.9 778.6L1698.7 776.6L1703.4 774.8L1708.1 773L1712.8 771.3L1717.5 769.7L1722.1 768.1L1726.8 766.7L1731.4 765.3L1736 764.1L1740.6 762.9L1745.2 761.8L1749.8 760.8L1754.3 759.9L1758.9 759.2L1763.4 758.5L1767.9 757.9L1772.5 757.4L1776.9 757L1781.4 756.7L1785.9 756.5L1790.3 756.4L1795.1 756.4A22.5 22.5 0 0 0 1794.9 711.4L1789.7 711.5L1784.2 711.7L1778.7 712L1773.2 712.4L1767.7 713L1762.3 713.7L1756.8 714.4L1751.4 715.4L1746 716.4L1740.6 717.5L1735.2 718.7L1729.8 720.1L1724.5 721.5L1719.1 723.1L1713.8 724.7L1708.5 726.4L1703.2 728.2L1697.9 730.2L1692.6 732.2L1687.3 734.2L1682.1 736.4L1676.8 738.6L1671.6 740.9L1666.4 743.3L1661.2 745.8L1656 748.3L1650.8 750.9L1645.7 753.6L1640.5 756.3L1635.3 759.1L1630.2 762L1625.1 764.9L1619.9 767.9L1614.8 770.9L1609.7 774L1604.6 777.1L1599.5 780.3L1594.4 783.5L1589.3 786.7L1584.3 790L1579.2 793.4L1574.1 796.8L1569.1 800.2L1564 803.7L1559 807.2L1553.9 810.7L1548.9 814.3L1543.8 817.9L1538.8 821.6L1533.7 825.2L1528.7 828.9L1523.7 832.7L1518.6 836.4L1513.6 840.2L1508.6 844.1L1503.6 847.9L1498.6 851.8L1493.6 855.7L1488.5 859.6L1483.5 863.6L1478.5 867.5L1473.5 871.5L1468.5 875.5L1463.5 879.5L1458.5 883.6L1453.5 887.6L1448.6 891.7L1443.6 895.8L1438.6 899.9L1433.6 904L1428.6 908.1L1423.6 912.2L1418.7 916.4L1413.7 920.5L1408.7 924.6L1403.7 928.8L1398.8 932.9L1393.8 937.1L1388.8 941.3L1383.9 945.4L1378.9 949.6L1374 953.7L1369 957.9L1364.1 962.1L1359.1 966.2L1354.2 970.3L1349.2 974.5L1344.3 978.6L1339.3 982.7L1334.4 986.8L1329.4 990.9L1324.5 995L1319.5 999.1L1314.6 1003.2L1309.7 1007.2L1304.7 1011.2L1299.8 1015.2L1294.9 1019.2L1290 1023.2L1285 1027.2L1280.1 1031.1L1275.2 1035L1270.3 1038.9L1265.4 1042.8L1260.5 1046.7L1255.6 1050.5L1250.6 1054.4L1245.7 1058.2L1240.8 1062L1235.9 1065.8L1231 1069.5L1226.1 1073.3L1221.2 1077L1216.2 1080.7L1211.3 1084.4L1206.4 1088.1L1201.5 1091.7L1196.6 1095.3L1191.7 1098.9L1186.7 1102.5L1181.8 1106.1L1176.9 1109.7L1172 1113.2L1167.1 1116.8L1162.2 1120.3L1157.2 1123.8L1152.3 1127.2L1147.4 1130.7L1142.5 1134.1L1137.6 1137.6L1132.6 1141L1127.7 1144.4L1122.8 1147.7L1117.9 1151.1L1113 1154.4L1108 1157.7L1103.1 1161.1L1098.2 1164.4L1093.3 1167.7L1088.5 1171L1083.6 1174.3L1078.7 1177.6L1073.8 1180.9L1068.9 1184.1L1064 1187.3L1059.1 1190.5L1054.2 1193.8L1049.3 1196.9L1044.5 1200.1L1039.6 1203.3L1034.7 1206.4L1029.8 1209.5L1024.9 1212.6L1020 1215.7L1015.1 1218.8L1010.2 1221.9L1005.3 1224.9L1000.4 1228L995.5 1231L990.6 1234L985.7 1237L980.8 1240L975.9 1242.9L971.1 1245.9L966.2 1248.8L961.3 1251.7L956.4 1254.6L951.5 1257.6L946.6 1260.5L941.7 1263.4L936.9 1266.3L932 1269.2L927.1 1272.1L922.2 1274.9L917.4 1277.8L912.5 1280.6L907.6 1283.5L902.7 1286.3L897.9 1289.1L893 1291.8L888.1 1294.6L883.2 1297.4L878.3 1300.1L873.5 1302.9L868.6 1305.6L863.7 1308.3L858.8 1311L853.9 1313.7L849.1 1316.3L844.2 1319L839.3 1321.6L834.4 1324.3L829.5 1326.9A9 9 0 0 0 837.5 1343ZM352.4 1396.6L357.5 1396.9L362.8 1397L368.1 1397.1L373.3 1397.1L378.5 1397.1L383.8 1397L389 1396.8L394.2 1396.6L399.4 1396.3L404.6 1396L409.8 1395.6L415 1395.2L420.2 1394.7L425.3 1394.2L430.5 1393.6L435.6 1393L440.8 1392.3L445.9 1391.6L451 1390.9L456.2 1390.1L461.3 1389.3L466.4 1388.4L471.5 1387.5L476.6 1386.6L481.7 1385.7L486.8 1384.7L491.8 1383.7L496.9 1382.7L502 1381.7L507 1380.6L512.1 1379.6L517.1 1378.5L522.2 1377.4L527.2 1376.3L532.2 1375.1L537.2 1374L542.3 1372.9L547.3 1371.7L552.3 1370.5L557.3 1369.4L562.3 1368.2L567.3 1367L572.2 1365.9L577.2 1364.7L582.2 1363.6L587.2 1362.4L592.1 1361.3L597.1 1360.1L602 1359L607 1357.9L611.9 1356.8L616.9 1355.7L621.8 1354.7L626.7 1353.6L631.7 1352.6L636.6 1351.6L641.5 1350.6L646.4 1349.6L651.3 1348.6L656.2 1347.6L661.1 1346.7L666 1345.8L670.8 1344.9L675.7 1344.1L680.6 1343.3L685.5 1342.5L690.3 1341.8L695.2 1341.1L700 1340.4L704.9 1339.8L709.8 1339.2L714.6 1338.7L719.4 1338.3L724.3 1337.8L729.1 1337.5L734 1337.2L738.8 1336.9L743.6 1336.7L748.4 1336.6L753.2 1336.5L758.1 1336.4L762.9 1336.3L767.7 1336.3L772.5 1336.4L777.4 1336.5L782.2 1336.7L787 1337L791.9 1337.3L796.7 1337.8L801.6 1338.3L806.4 1338.9L811.3 1339.7L816.2 1340.5L821.1 1341.4L825.9 1342.4L830.1 1343.3L834.3 1345.4L839.1 1347.9L844 1350.4L848.8 1353.1L853.6 1355.8L858.5 1358.6L863.3 1361.4L868.2 1364.4L873.1 1367.4L877.9 1370.5L882.8 1373.6L887.7 1376.8L892.6 1380.1L897.5 1383.4L902.3 1386.7L907.2 1390.1L912.1 1393.6L917 1397.1L922 1400.6L926.9 1404.2L931.8 1407.7L936.7 1411.4L941.6 1415L946.5 1418.7L951.5 1422.4L956.4 1426.1L961.3 1429.8L966.2 1433.5L971.2 1437.3L976.1 1441L981 1444.8L986 1448.5L990.9 1452.3L995.9 1456L1000.8 1459.7L1005.8 1463.4L1010.7 1467.1L1015.6 1470.7L1020.6 1474.4L1025.6 1478L1030.5 1481.6L1035.5 1485.1L1040.4 1488.6L1045.4 1492.1L1050.4 1495.5L1055.3 1498.8A6.5 6.5 0 0 0 1062.7 1488.1L1057.8 1484.7L1053 1481.3L1048.2 1477.8L1043.3 1474.2L1038.5 1470.7L1033.6 1467L1028.8 1463.4L1023.9 1459.7L1019.1 1456L1014.2 1452.3L1009.3 1448.5L1004.5 1444.7L999.6 1440.9L994.8 1437.1L989.9 1433.3L985 1429.5L980.1 1425.7L975.3 1421.8L970.4 1418L965.5 1414.2L960.6 1410.4L955.8 1406.6L950.9 1402.8L946 1399L941.1 1395.3L936.2 1391.6L931.3 1387.9L926.4 1384.2L921.5 1380.6L916.6 1377L911.7 1373.4L906.8 1369.9L901.9 1366.5L897 1363L892 1359.7L887.1 1356.4L882.2 1353.1L877.2 1349.9L872.3 1346.8L867.3 1343.7L862.4 1340.7L857.4 1337.8L852.5 1335L847.5 1332.2L842.5 1329.5L836.9 1326.7L831.1 1324.5L825.9 1322.8L820.8 1321.3L815.7 1319.8L810.6 1318.4L805.4 1317.1L800.3 1315.9L795.1 1314.9L790 1313.9L784.8 1312.9L779.6 1312.1L774.5 1311.4L769.3 1310.7L764.1 1310.1L758.9 1309.6L753.8 1309.3L748.6 1309.1L743.4 1309L738.2 1309L733 1309L727.9 1309L722.7 1309.2L717.6 1309.3L712.4 1309.6L707.2 1309.9L702.1 1310.2L697 1310.6L691.8 1311L686.7 1311.5L681.5 1312L676.4 1312.5L671.3 1313.1L666.2 1313.7L661 1314.4L655.9 1315.1L650.8 1315.8L645.7 1316.5L640.6 1317.3L635.5 1318.1L630.4 1319L625.3 1319.9L620.3 1320.9L615.2 1321.8L610.1 1322.8L605.1 1323.7L600 1324.7L595 1325.8L589.9 1326.8L584.9 1327.8L579.8 1328.8L574.8 1329.9L569.8 1330.9L564.8 1332L559.7 1333L554.7 1334L549.7 1335.1L544.7 1336.1L539.7 1337.2L534.7 1338.2L529.8 1339.2L524.8 1340.2L519.8 1341.2L514.8 1342.2L509.9 1343.1L504.9 1344.1L500 1345L495 1345.9L490.1 1346.8L485.2 1347.7L480.2 1348.5L475.3 1349.3L470.4 1350.1L465.5 1350.8L460.6 1351.6L455.7 1352.3L450.8 1352.9L446 1353.5L441.1 1354.1L436.2 1354.7L431.4 1355.2L426.5 1355.6L421.7 1356.1L416.8 1356.4L412 1356.8L407.2 1357.1L402.4 1357.3L397.6 1357.5L392.8 1357.6L388 1357.7L383.2 1357.7L378.5 1357.7L373.7 1357.6L368.9 1357.5L364.2 1357.3L359.5 1357L354.6 1356.7A20 20 0 0 0 352.4 1396.6ZM353.9 1451.7L358.9 1451.5L364 1451.2L369 1450.9L374.1 1450.6L379.1 1450.3L384.1 1450L389.2 1449.6L394.2 1449.2L399.2 1448.8L404.3 1448.4L409.3 1448L414.3 1447.5L419.4 1447L424.4 1446.5L429.4 1446L434.5 1445.5L439.5 1444.9L444.5 1444.4L449.6 1443.8L454.6 1443.2L459.6 1442.5L464.7 1441.9L469.7 1441.2L474.7 1440.5L479.8 1439.8L484.8 1439.1L489.8 1438.4L494.9 1437.6L499.9 1436.8L504.9 1436L510 1435.2L515 1434.4L520 1433.5L525.1 1432.6L530.1 1431.7L535.1 1430.8L540.2 1429.9L545.2 1428.9L550.2 1428L555.2 1427L560.3 1426L565.3 1424.9L570.3 1423.9L575.4 1422.8L580.4 1421.8L585.4 1420.7L590.5 1419.6L595.5 1418.4L600.5 1417.3L605.6 1416.1L610.6 1414.9L615.6 1413.7L620.6 1412.5L625.7 1411.2L630.7 1410L635.7 1408.7L640.8 1407.4L645.8 1406.1L650.8 1404.8L655.8 1403.4L660.9 1402.1L665.9 1400.7L670.9 1399.3L676 1397.9L681 1396.4L686 1395L691 1393.5L696.1 1392L701.1 1390.5L706.1 1389L711.2 1387.4L716.2 1385.9L721.2 1384.3L726.2 1382.7L731.3 1381.1L736.3 1379.5L741.3 1377.8L746.3 1376.2L751.4 1374.5L756.4 1372.8L761.4 1371.1L766.4 1369.4L771.5 1367.6L776.5 1365.8L781.5 1364.1L786.5 1362.3L791.6 1360.5L796.6 1358.6L801.6 1356.8L806.6 1354.9L811.7 1353L816.7 1351.1L821.7 1349.2L826.7 1347.3L831.8 1345.3L836.8 1343.4A9 9 0 0 0 830.2 1326.6L825.2 1328.6L820.3 1330.5L815.3 1332.4L810.3 1334.3L805.3 1336.2L800.4 1338L795.4 1339.9L790.4 1341.7L785.4 1343.5L780.5 1345.3L775.5 1347.1L770.5 1348.9L765.5 1350.6L760.6 1352.3L755.6 1354.1L750.6 1355.7L745.6 1357.4L740.7 1359.1L735.7 1360.7L730.7 1362.4L725.7 1364L720.8 1365.6L715.8 1367.1L710.8 1368.7L705.8 1370.2L700.9 1371.8L695.9 1373.3L690.9 1374.8L686 1376.2L681 1377.7L676 1379.1L671 1380.5L666.1 1381.9L661.1 1383.3L656.1 1384.7L651.2 1386L646.2 1387.4L641.2 1388.7L636.2 1390L631.3 1391.3L626.3 1392.5L621.3 1393.8L616.4 1395L611.4 1396.2L606.4 1397.4L601.4 1398.6L596.5 1399.7L591.5 1400.9L586.5 1402L581.6 1403.1L576.6 1404.2L571.6 1405.2L566.7 1406.3L561.7 1407.3L556.7 1408.3L551.8 1409.3L546.8 1410.3L541.8 1411.3L536.8 1412.2L531.9 1413.1L526.9 1414L521.9 1414.9L517 1415.8L512 1416.6L507 1417.4L502.1 1418.2L497.1 1419L492.1 1419.8L487.2 1420.6L482.2 1421.3L477.2 1422L472.3 1422.7L467.3 1423.4L462.3 1424L457.4 1424.7L452.4 1425.3L447.4 1425.9L442.5 1426.5L437.5 1427.1L432.5 1427.6L427.6 1428.1L422.6 1428.6L417.6 1429.1L412.7 1429.6L407.7 1430L402.7 1430.5L397.8 1430.9L392.8 1431.3L387.8 1431.6L382.9 1432L377.9 1432.3L372.9 1432.7L368 1432.9L363 1433.2L358.1 1433.5L353.1 1433.7A9 9 0 0 0 353.9 1451.7Z"/>
<path fill="#0000ff" d="M353.8 684.5L358.9 684.4L363.9 684.3L369 684.1L374.1 684L379.1 683.8L384.2 683.6L389.2 683.4L394.3 683.2L399.3 682.9L404.4 682.6L409.4 682.3L414.5 682L419.5 681.7L424.5 681.3L429.6 681L434.6 680.6L439.7 680.2L444.7 679.8L449.7 679.4L454.8 679L459.8 678.5L464.8 678.1L469.9 677.6L474.9 677.1L479.9 676.6L484.9 676.1L490 675.6L495 675.1L500 674.5L505 674L510.1 673.4L515.1 672.9L520.1 672.3L525.1 671.7L530.1 671.1L535.1 670.5L540.1 669.9L545.1 669.3L550.1 668.7L555.1 668.1L560.1 667.5L565.1 666.9L570.1 666.3L575.1 665.7L580.1 665.1L585.1 664.4L590.1 663.8L595.1 663.2L600.1 662.6L605.1 661.9L610.1 661.3L615.1 660.7L620 660.1L625 659.5L630 658.8L635 658.2L640 657.6L644.9 657L649.9 656.4L654.9 655.8L659.9 655.2L664.8 654.7L669.8 654.1L674.8 653.5L679.7 653L684.7 652.4L689.6 651.9L694.6 651.3L699.6 650.8L704.5 650.3L709.5 649.8L714.4 649.3L719.4 648.8L724.3 648.3L729.3 647.9L734.2 647.4L739.2 647L744.1 646.6L749 646.2L754 645.8L758.9 645.4L763.8 645L768.8 644.7L773.7 644.3L778.6 644L783.6 643.7L788.5 643.4L793.4 643.2L798.3 642.9L803.3 642.7L808.2 642.5L813.1 642.3L818 642.2L822.9 642L827.8 641.9L832.7 641.8L837.6 641.7L842.5 641.6L847.4 641.5L852.3 641.4L857.2 641.4L862.1 641.4L867 641.4L871.9 641.5L876.8 641.5L881.7 641.6L886.6 641.7L891.5 641.9L896.4 642.1L901.3 642.3L906.2 642.5L911.1 642.7L915.9 643L920.8 643.4L925.6 643.7L930.5 644.1L935.3 644.6L940.2 645L945 645.6L949.8 646.1L954.6 646.8L959.4 647.4L964.2 648.1L969 648.9L973.8 649.8L978.6 650.7L983.4 651.6L988.2 652.6L993 653.7L997.7 654.9L1002.5 656.1L1007.2 657.4L1012 658.7L1016.8 660.2L1021.5 661.7L1026.3 663.3L1031.1 665L1035.9 666.7L1040.7 668.5L1045.6 670.4L1050.4 672.3L1055.3 674.3L1060.1 676.4L1065 678.5L1069.9 680.6L1074.8 682.8L1079.7 685.1L1084.6 687.3L1089.6 689.7L1094.5 692L1099.4 694.4L1104.4 696.7L1109.3 699.2L1114.3 701.6L1119.2 704.1L1124.2 706.6L1129.1 709.1L1134.1 711.7L1139 714.2L1144 716.8L1149 719.4L1154 722.1L1158.9 724.7L1163.9 727.4L1168.9 730.1L1173.9 732.8L1178.9 735.5L1183.9 738.2L1188.9 741L1193.9 743.7L1198.9 746.4L1203.9 749.2L1208.9 751.9L1213.9 754.7L1218.9 757.5L1223.9 760.2L1229 763L1234 765.8L1239 768.5L1244.1 771.3L1249.1 774.1L1254.1 776.8L1259.2 779.6L1264.2 782.3L1269.2 785.1L1274.3 787.8L1279.3 790.5L1284.4 793.3L1289.4 796L1294.5 798.7L1299.5 801.4L1304.5 804.1L1309.5 806.8L1314.6 809.5L1319.6 812.2L1324.7 814.8L1329.7 817.4L1334.7 820L1339.8 822.6L1344.8 825.2L1349.9 827.7L1354.9 830.2L1360 832.7L1365 835.1L1370.1 837.5L1375.1 839.9L1380.2 842.3L1385.2 844.6L1390.3 846.9L1395.4 849.2L1400.4 851.4L1405.5 853.6L1410.5 855.8L1415.6 857.9L1420.6 860.1L1425.7 862.1L1430.8 864.2L1435.8 866.2L1440.9 868.2L1445.9 870.2L1451 872.1L1456.1 874L1461.1 875.9L1466.2 877.8L1471.2 879.6L1476.3 881.4L1481.4 883.1L1486.4 884.8L1491.5 886.5L1496.5 888.2L1501.6 889.8L1506.7 891.4L1511.7 893L1516.8 894.5L1521.9 896.1L1526.9 897.5L1532 899L1537 900.4L1542.1 901.8L1547.2 903.2L1552.2 904.5L1557.3 905.8L1562.4 907.1L1567.4 908.3L1572.5 909.5L1577.5 910.7L1582.6 911.8L1587.7 913L1592.7 914L1597.8 915.1L1602.9 916.1L1607.9 917.1L1613 918.1L1618.1 919L1623.1 919.9L1628.2 920.8L1633.3 921.6L1638.3 922.5L1643.4 923.2L1648.5 924L1653.5 924.7L1658.6 925.4L1663.7 926.1L1668.7 926.7L1673.8 927.3L1678.8 927.9L1683.9 928.4L1689 928.9L1694 929.4L1699.1 929.8L1704.2 930.2L1709.2 930.6L1714.3 931L1719.4 931.3L1724.4 931.6L1729.5 931.9L1734.6 932.1L1739.6 932.3L1744.7 932.5L1749.8 932.6L1754.8 932.7L1759.9 932.8L1765 932.8L1770 932.9L1775.1 932.8L1780.1 932.8L1785.2 932.7L1790.3 932.6L1795.3 932.5A12.5 12.5 0 0 0 1794.7 907.5L1789.7 907.6L1784.8 907.7L1779.9 907.7L1775 907.7L1770.1 907.7L1765.2 907.7L1760.3 907.6L1755.4 907.5L1750.5 907.4L1745.5 907.2L1740.6 907L1735.7 906.8L1730.8 906.5L1725.9 906.2L1721 905.9L1716.1 905.6L1711.2 905.2L1706.3 904.8L1701.3 904.4L1696.4 903.9L1691.5 903.4L1686.6 902.9L1681.7 902.4L1676.8 901.8L1671.9 901.2L1667 900.5L1662.1 899.9L1657.2 899.2L1652.2 898.4L1647.3 897.7L1642.4 896.9L1637.5 896.1L1632.6 895.2L1627.7 894.4L1622.8 893.4L1617.9 892.5L1613 891.5L1608.1 890.6L1603.1 889.5L1598.2 888.5L1593.3 887.4L1588.4 886.3L1583.5 885.1L1578.6 884L1573.7 882.8L1568.8 881.5L1563.8 880.3L1558.9 879L1554 877.7L1549.1 876.3L1544.2 874.9L1539.3 873.5L1534.4 872.1L1529.5 870.6L1524.5 869.1L1519.6 867.6L1514.7 866L1509.8 864.4L1504.9 862.8L1500 861.2L1495.1 859.5L1490.1 857.8L1485.2 856.1L1480.3 854.3L1475.4 852.5L1470.5 850.7L1465.6 848.8L1460.6 846.9L1455.7 845L1450.8 843.1L1445.9 841.1L1441 839.1L1436.1 837.1L1431.1 835L1426.2 832.9L1421.3 830.8L1416.4 828.6L1411.5 826.5L1406.6 824.2L1401.6 822L1396.7 819.7L1391.8 817.4L1386.9 815.1L1382 812.7L1377 810.4L1372.1 807.9L1367.2 805.5L1362.3 803L1357.3 800.5L1352.4 798L1347.5 795.4L1342.5 792.8L1337.6 790.2L1332.7 787.6L1327.7 784.9L1322.8 782.3L1317.8 779.6L1312.9 776.9L1307.9 774.1L1303 771.3L1298.1 768.5L1293.1 765.7L1288.2 762.9L1283.3 760L1278.3 757.2L1273.4 754.3L1268.5 751.4L1263.5 748.6L1258.6 745.7L1253.6 742.8L1248.7 739.9L1243.7 737L1238.8 734.1L1233.8 731.2L1228.9 728.3L1223.9 725.4L1219 722.5L1214 719.6L1209 716.7L1204.1 713.9L1199.1 711L1194.1 708.2L1189.1 705.3L1184.1 702.5L1179.1 699.7L1174.1 696.9L1169.1 694.1L1164.1 691.4L1159.1 688.6L1154.1 685.9L1149.1 683.2L1144.1 680.5L1139.1 677.8L1134 675.2L1129 672.6L1124 670L1119 667.4L1113.9 664.9L1108.9 662.3L1103.8 659.9L1098.8 657.4L1093.7 655L1088.7 652.6L1083.6 650.3L1078.5 648L1073.4 645.7L1068.3 643.5L1063.2 641.4L1058 639.2L1052.9 637.2L1047.7 635.2L1042.6 633.3L1037.4 631.4L1032.2 629.6L1027 627.9L1021.8 626.2L1016.6 624.7L1011.3 623.2L1006.1 621.8L1000.9 620.5L995.7 619.2L990.5 618.1L985.3 617L980.1 616L975 615L969.8 614.1L964.6 613.3L959.4 612.5L954.3 611.8L949.1 611.1L944 610.5L938.8 609.9L933.7 609.4L928.6 608.9L923.5 608.5L918.3 608.1L913.2 607.7L908.1 607.4L903 607.1L898 606.8L892.9 606.6L887.8 606.4L882.7 606.2L877.6 606L872.5 605.9L867.5 605.8L862.4 605.7L857.3 605.7L852.2 605.6L847.2 605.6L842.1 605.7L837 605.7L831.9 605.8L826.9 605.9L821.8 606.1L816.7 606.3L811.7 606.5L806.6 606.7L801.6 606.9L796.5 607.2L791.5 607.5L786.4 607.8L781.4 608.1L776.3 608.5L771.3 608.8L766.2 609.2L761.2 609.6L756.1 610L751.1 610.4L746.1 610.8L741 611.3L736 611.7L731 612.2L725.9 612.7L720.9 613.2L715.9 613.7L710.8 614.2L705.8 614.8L700.8 615.3L695.8 615.9L690.8 616.4L685.7 617L680.7 617.6L675.7 618.2L670.7 618.8L665.7 619.4L660.7 620L655.7 620.6L650.7 621.2L645.7 621.8L640.7 622.5L635.7 623.1L630.7 623.8L625.7 624.4L620.7 625L615.7 625.7L610.7 626.3L605.7 627L600.7 627.7L595.7 628.3L590.7 629L585.7 629.6L580.8 630.3L575.8 630.9L570.8 631.6L565.8 632.2L560.8 632.9L555.9 633.5L550.9 634.2L545.9 634.8L540.9 635.4L536 636L531 636.7L526 637.3L521.1 637.9L516.1 638.5L511.2 639.1L506.2 639.7L501.2 640.2L496.3 640.8L491.3 641.4L486.4 641.9L481.4 642.5L476.5 643L471.5 643.5L466.6 644L461.6 644.5L456.7 645L451.7 645.5L446.8 645.9L441.9 646.4L436.9 646.8L432 647.2L427 647.6L422.1 648L417.2 648.4L412.2 648.7L407.3 649.1L402.4 649.4L397.5 649.7L392.5 650L387.6 650.2L382.7 650.5L377.8 650.7L372.9 650.9L367.9 651.1L363 651.2L358.1 651.4L353.2 651.5A16.5 16.5 0 0 0 353.8 684.5ZM353.2 680L358.3 680.1L363.4 680.1L368.5 680.2L373.6 680.2L378.7 680.1L383.7 680.1L388.8 680L393.9 679.8L399 679.7L404.1 679.5L409.1 679.3L414.2 679.1L419.3 678.8L424.4 678.5L429.4 678.2L434.5 677.9L439.5 677.5L444.6 677.2L449.7 676.8L454.7 676.3L459.8 675.9L464.8 675.4L469.9 675L474.9 674.5L480 674L485 673.5L490 672.9L495.1 672.4L500.1 671.8L505.1 671.2L510.2 670.6L515.2 670L520.2 669.4L525.2 668.8L530.3 668.2L535.3 667.5L540.3 666.9L545.3 666.2L550.3 665.6L555.3 664.9L560.3 664.2L565.3 663.6L570.4 662.9L575.4 662.2L580.3 661.5L585.3 660.8L590.3 660.1L595.3 659.4L600.3 658.8L605.3 658.1L610.3 657.4L615.3 656.7L620.2 656L625.2 655.3L630.2 654.7L635.2 654L640.1 653.4L645.1 652.7L650.1 652.1L655 651.4L660 650.8L664.9 650.2L669.9 649.6L674.8 649L679.8 648.4L684.7 647.8L689.7 647.3L694.6 646.7L699.5 646.2L704.5 645.7L709.4 645.2L714.3 644.7L719.2 644.3L724.1 643.9L729 643.5L733.9 643.1L738.8 642.8L743.7 642.5L748.6 642.2L753.5 641.9L758.3 641.7L763.2 641.5L768.1 641.3L772.9 641.2L777.8 641.1L782.6 641.1L787.5 641L792.3 641.1L797.2 641.1L802 641.2L806.8 641.4L811.6 641.6L816.5 641.8L821.3 642.1L826.1 642.4L830.9 642.8L835.7 643.2L840.5 643.7L845.3 644.1L850.1 644.7L854.9 645.3L859.7 645.9L864.6 646.6L869.4 647.3L874.2 648.1L879 648.9L883.9 649.8L888.7 650.7L893.5 651.7L898.4 652.7L903.2 653.8L908.1 654.9L912.9 656L917.8 657.2L922.6 658.4L927.5 659.7L932.4 661L937.2 662.4L942.1 663.8L947 665.2L951.8 666.7L956.7 668.3L961.6 669.8L966.5 671.4L971.3 673.1L976.2 674.8L981.1 676.5L986 678.3L990.9 680.1L995.8 681.9L1000.7 683.8L1005.6 685.7L1010.5 687.7L1015.4 689.6L1020.3 691.7L1025.2 693.7L1030.1 695.8L1035 697.9L1039.9 700.1L1044.9 702.3L1049.8 704.5L1054.7 706.8L1059.6 709.1L1064.5 711.4L1069.5 713.7L1074.4 716.1L1079.3 718.5L1084.3 721L1089.2 723.5L1094.1 725.9L1099.1 728.4L1104.1 730.9L1109.1 733.4L1114 736L1119 738.5L1124 741.1L1129 743.8L1134 746.4L1138.9 749.1L1143.9 751.8L1148.9 754.5L1153.9 757.3L1158.9 760L1163.9 762.8L1168.9 765.6L1173.9 768.5L1178.9 771.3L1183.9 774.2L1189 777.1L1194 780L1199 782.9L1204 785.8L1209 788.8L1214.1 791.7L1219.1 794.7L1224.1 797.6L1229.1 800.6L1234.2 803.6L1239.2 806.6L1244.2 809.6L1249.3 812.6L1254.3 815.6L1259.4 818.5L1264.4 821.5L1269.5 824.5L1274.5 827.5L1279.6 830.5L1284.6 833.5L1289.7 836.4L1294.7 839.4L1299.7 842.4L1304.8 845.4L1309.8 848.3L1314.9 851.3L1319.9 854.2L1325 857.2L1330 860.1L1335.1 863L1340.1 865.8L1345.2 868.7L1350.2 871.5L1355.3 874.3L1360.3 877.1L1365.4 879.9L1370.4 882.7L1375.5 885.4L1380.6 888.1L1385.6 890.7L1390.7 893.4L1395.8 896L1400.8 898.6L1405.9 901.1L1411 903.6L1416 906.1L1421.1 908.6L1426.2 911L1431.3 913.3L1436.3 915.7L1441.4 918L1446.5 920.2L1451.6 922.5L1456.6 924.7L1461.7 926.9L1466.7 929L1471.8 931.1L1476.9 933.2L1481.9 935.2L1487 937.1L1492.1 939L1497.1 940.9L1502.2 942.7L1507.2 944.5L1512.3 946.2L1517.4 947.9L1522.4 949.6L1527.5 951.2L1532.6 952.7L1537.6 954.3L1542.7 955.8L1547.7 957.2L1552.8 958.6L1557.9 960L1562.9 961.3L1568 962.6L1573 963.9L1578.1 965.1L1583.1 966.3L1588.2 967.4L1593.3 968.6L1598.3 969.6L1603.4 970.7L1608.4 971.7L1613.5 972.7L1618.5 973.6L1623.6 974.5L1628.6 975.4L1633.7 976.3L1638.7 977.1L1643.8 977.9L1648.8 978.6L1653.9 979.3L1658.9 980L1664 980.7L1669 981.4L1674.1 982L1679.1 982.6L1684.1 983.1L1689.2 983.6L1694.2 984.1L1699.3 984.6L1704.3 985.1L1709.3 985.5L1714.4 985.9L1719.4 986.3L1724.4 986.7L1729.5 987L1734.5 987.3L1739.5 987.6L1744.6 987.9L1749.6 988.1L1754.6 988.3L1759.7 988.5L1764.7 988.7L1769.7 988.9L1774.8 989.1L1779.8 989.2L1784.8 989.3L1789.8 989.4L1794.8 989.5A10.5 10.5 0 0 0 1795.2 968.5L1790.2 968.4L1785.2 968.3L1780.3 968.2L1775.3 968.1L1770.4 967.9L1765.4 967.7L1760.5 967.6L1755.6 967.4L1750.6 967.1L1745.7 966.9L1740.7 966.6L1735.8 966.3L1730.8 966L1725.9 965.7L1721 965.4L1716 965L1711.1 964.6L1706.1 964.2L1701.2 963.7L1696.3 963.2L1691.3 962.7L1686.4 962.2L1681.5 961.7L1676.5 961.1L1671.6 960.5L1666.7 959.9L1661.7 959.2L1656.8 958.6L1651.9 957.8L1647 957.1L1642 956.3L1637.1 955.5L1632.2 954.7L1627.2 953.9L1622.3 953L1617.4 952L1612.5 951.1L1607.6 950.1L1602.6 949.1L1597.7 948L1592.8 946.9L1587.9 945.8L1583 944.7L1578 943.5L1573.1 942.3L1568.2 941L1563.3 939.7L1558.4 938.4L1553.4 937L1548.5 935.6L1543.6 934.1L1538.7 932.7L1533.8 931.1L1528.9 929.6L1524 928L1519 926.3L1514.1 924.6L1509.2 922.9L1504.3 921.1L1499.4 919.3L1494.5 917.5L1489.6 915.6L1484.7 913.7L1479.7 911.7L1474.8 909.6L1469.9 907.6L1465 905.5L1460.1 903.3L1455.2 901.1L1450.3 898.8L1445.4 896.4L1440.5 894L1435.6 891.6L1430.7 889.1L1425.8 886.6L1420.9 884.1L1416 881.5L1411.1 878.9L1406.2 876.3L1401.2 873.6L1396.3 870.9L1391.4 868.1L1386.5 865.4L1381.6 862.6L1376.7 859.8L1371.8 856.9L1366.8 854L1361.9 851.1L1357 848.2L1352.1 845.3L1347.1 842.3L1342.2 839.4L1337.3 836.4L1332.4 833.4L1327.4 830.3L1322.5 827.3L1317.6 824.2L1312.6 821.2L1307.7 818.1L1302.8 815L1297.8 811.9L1292.9 808.7L1288 805.6L1283.1 802.4L1278.1 799.3L1273.2 796.1L1268.3 793L1263.3 789.8L1258.4 786.6L1253.5 783.5L1248.5 780.3L1243.6 777.2L1238.6 774L1233.7 770.8L1228.7 767.7L1223.8 764.6L1218.8 761.4L1213.9 758.3L1208.9 755.2L1204 752.1L1199 749L1194 745.9L1189.1 742.9L1184.1 739.8L1179.1 736.8L1174.1 733.8L1169.2 730.8L1164.2 727.8L1159.2 724.9L1154.2 721.9L1149.2 719L1144.2 716.2L1139.2 713.3L1134.2 710.5L1129.2 707.6L1124.2 704.9L1119.2 702.1L1114.2 699.4L1109.2 696.7L1104.2 694L1099.2 691.4L1094.1 688.9L1089.1 686.3L1084 683.8L1079 681.4L1073.9 678.9L1068.9 676.5L1063.8 674.1L1058.8 671.8L1053.7 669.5L1048.6 667.2L1043.6 664.9L1038.5 662.7L1033.4 660.5L1028.4 658.4L1023.3 656.2L1018.2 654.2L1013.1 652.1L1008.1 650.1L1003 648.1L997.9 646.2L992.8 644.3L987.7 642.4L982.6 640.6L977.5 638.8L972.4 637.1L967.3 635.4L962.2 633.7L957.1 632.1L952 630.5L946.9 629L941.8 627.5L936.7 626.1L931.6 624.6L926.5 623.3L921.3 622L916.2 620.7L911.1 619.5L905.9 618.3L900.8 617.2L895.7 616.1L890.5 615L885.4 614L880.2 613.1L875.1 612.2L869.9 611.4L864.8 610.6L859.6 609.8L854.5 609.2L849.3 608.5L844.1 607.9L839 607.4L833.8 606.9L828.6 606.6L823.5 606.2L818.3 606L813.1 605.7L808 605.6L802.8 605.4L797.7 605.4L792.5 605.3L787.4 605.3L782.3 605.4L777.2 605.5L772 605.6L766.9 605.8L761.8 606L756.7 606.2L751.6 606.5L746.5 606.8L741.4 607.1L736.3 607.5L731.2 607.8L726.2 608.3L721.1 608.7L716 609.2L710.9 609.7L705.9 610.2L700.8 610.7L695.8 611.3L690.7 611.8L685.7 612.4L680.7 613L675.6 613.6L670.6 614.2L665.6 614.9L660.6 615.5L655.5 616.2L650.5 616.8L645.5 617.5L640.5 618.2L635.5 618.9L630.5 619.6L625.5 620.3L620.5 621L615.5 621.7L610.5 622.4L605.5 623.1L600.5 623.8L595.5 624.6L590.5 625.3L585.5 626L580.5 626.7L575.6 627.4L570.6 628.2L565.6 628.9L560.6 629.6L555.7 630.3L550.7 631L545.7 631.7L540.8 632.4L535.8 633L530.8 633.7L525.9 634.4L520.9 635L516 635.7L511 636.3L506.1 636.9L501.1 637.5L496.2 638.1L491.2 638.7L486.3 639.3L481.4 639.8L476.4 640.4L471.5 640.9L466.6 641.4L461.6 641.9L456.7 642.4L451.8 642.8L446.9 643.3L442 643.7L437 644.1L432.1 644.5L427.2 644.8L422.3 645.1L417.4 645.4L412.5 645.7L407.6 646L402.7 646.2L397.8 646.4L392.9 646.6L388 646.8L383.1 646.9L378.2 647L373.3 647L368.4 647.1L363.6 647.1L358.7 647L353.8 647A16.5 16.5 0 0 0 353.2 680ZM354 724L359 723.9L364 723.7L369.1 723.6L374.1 723.4L379.2 723.2L384.2 722.9L389.3 722.7L394.3 722.5L399.4 722.2L404.4 721.9L409.5 721.6L414.5 721.2L419.6 720.9L424.6 720.5L429.7 720.2L434.7 719.8L439.7 719.3L444.8 718.9L449.8 718.5L454.9 718L459.9 717.5L465 717L470 716.5L475.1 716L480.1 715.4L485.1 714.9L490.2 714.3L495.2 713.7L500.3 713.1L505.3 712.4L510.4 711.8L515.4 711.1L520.4 710.4L525.5 709.8L530.5 709L535.6 708.3L540.6 707.6L545.6 706.8L550.7 706.1L555.7 705.3L560.8 704.5L565.8 703.7L570.8 702.8L575.9 702L580.9 701.1L586 700.3L591 699.4L596 698.5L601.1 697.6L606.1 696.7L611.1 695.7L616.2 694.8L621.2 693.8L626.2 692.8L631.3 691.8L636.3 690.8L641.3 689.8L646.4 688.7L651.4 687.7L656.4 686.6L661.5 685.6L666.5 684.5L671.5 683.4L676.6 682.3L681.6 681.1L686.7 680L691.7 678.8L696.8 677.6L701.9 676.4L706.9 675.2L712 673.9L717.2 672.6L722.3 671.2L727.4 669.8L732.5 668.3L737.7 666.8L742.7 665.3L747.8 663.8L752.7 662.3L757.6 660.8L762.4 659.4L767.2 658.1L771.9 656.9L776.5 655.7L781.1 654.8L785.7 653.9L790.3 653.1L794.8 652.4L799.4 651.9L804 651.5L808.6 651.1L813.2 650.9L817.8 650.7L822.3 650.7L826.9 650.8L831.6 651L836.2 651.2L840.8 651.5L845.4 651.9L850.1 652.4L854.7 652.9L859.4 653.6L864.1 654.4L868.8 655.2L873.5 656.2L878.2 657.2L882.9 658.3L887.6 659.5L892.4 660.8L897.1 662.1L901.9 663.6L906.6 665.1L911.4 666.7L916.2 668.3L921 670.1L925.8 671.9L930.6 673.8L935.4 675.8L940.3 677.8L945.1 679.9L950 682.1L954.8 684.3L959.7 686.6L964.5 688.9L969.4 691.3L974.3 693.8L979.2 696.3L984.1 698.9L989 701.5L993.9 704.2L998.8 707L1003.7 709.8L1008.6 712.6L1013.5 715.5L1018.5 718.4L1023.4 721.3L1028.3 724.3L1033.3 727.4L1038.2 730.4L1043.2 733.6L1048.1 736.7L1053.1 739.9L1058.1 743.1L1063 746.3L1068 749.6L1073 752.9L1078 756.2L1082.9 759.5L1087.9 762.8L1092.9 766.2L1097.9 769.6L1102.9 773L1107.9 776.4L1112.8 779.9L1117.8 783.3L1122.8 786.8L1127.8 790.3L1132.8 793.7L1137.8 797.2L1142.8 800.7L1147.8 804.2L1152.8 807.8L1157.8 811.3L1162.8 814.8L1167.8 818.3L1172.8 821.8L1177.9 825.4L1182.9 828.9L1187.9 832.4L1192.9 835.9L1197.9 839.5L1202.9 843L1208 846.5L1213 850L1218 853.5L1223 856.9L1228.1 860.4L1233.1 863.9L1238.1 867.3L1243.2 870.8L1248.2 874.2L1253.2 877.6L1258.3 881L1263.3 884.4L1268.4 887.7L1273.4 891L1278.4 894.4L1283.5 897.7L1288.5 900.9L1293.6 904.2L1298.7 907.3L1303.8 910.5L1308.9 913.6L1313.9 916.7L1319 919.7L1324.1 922.7L1329.2 925.7L1334.3 928.7L1339.4 931.6L1344.5 934.5L1349.6 937.4L1354.7 940.2L1359.8 943L1364.9 945.7L1370 948.4L1375.1 951.1L1380.2 953.7L1385.4 956.3L1390.5 958.8L1395.6 961.3L1400.7 963.7L1405.8 966.1L1410.9 968.4L1416 970.7L1421.1 973L1426.2 975.2L1431.3 977.3L1436.4 979.5L1441.5 981.5L1446.6 983.6L1451.7 985.6L1456.8 987.6L1461.8 989.6L1466.9 991.5L1472 993.4L1477 995.3L1482.1 997.1L1487.2 998.8L1492.2 1000.6L1497.3 1002.3L1502.3 1003.9L1507.4 1005.6L1512.5 1007.2L1517.5 1008.7L1522.6 1010.2L1527.6 1011.7L1532.7 1013.2L1537.8 1014.6L1542.8 1016L1547.9 1017.4L1552.9 1018.7L1558 1020L1563 1021.3L1568.1 1022.5L1573.1 1023.7L1578.1 1024.9L1583.2 1026.1L1588.2 1027.2L1593.3 1028.3L1598.3 1029.4L1603.4 1030.4L1608.4 1031.5L1613.4 1032.5L1618.5 1033.4L1623.5 1034.4L1628.5 1035.3L1633.6 1036.3L1638.6 1037.1L1643.6 1038L1648.7 1038.9L1653.7 1039.7L1658.7 1040.5L1663.7 1041.3L1668.8 1042.1L1673.8 1042.9L1678.8 1043.6L1683.8 1044.3L1688.9 1045.1L1693.9 1045.8L1698.9 1046.4L1703.9 1047.1L1708.9 1047.8L1713.9 1048.4L1719 1049.1L1724 1049.7L1729 1050.3L1734 1050.9L1739 1051.5L1744 1052.1L1749 1052.6L1754 1053.2L1759 1053.8L1764 1054.3L1769 1054.8L1774 1055.4L1779 1055.9L1784 1056.4L1789 1057L1794 1057.5A9 9 0 0 0 1796 1039.6L1791 1039L1786 1038.4L1781 1037.9L1776.1 1037.3L1771.1 1036.7L1766.1 1036.1L1761.1 1035.5L1756.2 1034.9L1751.2 1034.2L1746.2 1033.6L1741.3 1033L1736.3 1032.3L1731.3 1031.7L1726.4 1031L1721.4 1030.3L1716.4 1029.7L1711.5 1029L1706.5 1028.3L1701.6 1027.5L1696.6 1026.8L1691.6 1026L1686.7 1025.3L1681.7 1024.5L1676.8 1023.7L1671.8 1022.9L1666.9 1022.1L1661.9 1021.2L1657 1020.4L1652 1019.5L1647.1 1018.6L1642.1 1017.7L1637.2 1016.7L1632.3 1015.8L1627.3 1014.8L1622.4 1013.8L1617.4 1012.8L1612.5 1011.7L1607.6 1010.7L1602.6 1009.6L1597.7 1008.5L1592.8 1007.3L1587.8 1006.2L1582.9 1005L1578 1003.8L1573 1002.5L1568.1 1001.2L1563.2 999.9L1558.3 998.6L1553.3 997.3L1548.4 995.9L1543.5 994.5L1538.6 993L1533.6 991.5L1528.7 990L1523.8 988.5L1518.9 986.9L1514 985.3L1509.1 983.7L1504.1 982L1499.2 980.3L1494.3 978.5L1489.4 976.8L1484.5 974.9L1479.6 973.1L1474.7 971.2L1469.8 969.3L1464.9 967.3L1460 965.3L1455 963.3L1450.2 961.1L1445.3 958.9L1440.4 956.7L1435.5 954.4L1430.7 952.1L1425.8 949.7L1420.9 947.3L1416.1 944.9L1411.2 942.4L1406.3 939.9L1401.5 937.3L1396.6 934.7L1391.7 932L1386.9 929.3L1382 926.5L1377.1 923.7L1372.3 920.9L1367.4 918L1362.5 915.1L1357.6 912.1L1352.8 909.1L1347.9 906.1L1343 903L1338.1 899.9L1333.2 896.8L1328.4 893.7L1323.5 890.5L1318.6 887.2L1313.7 884L1308.8 880.7L1303.9 877.4L1299 874.2L1294 870.9L1289.1 867.5L1284.2 864.2L1279.2 860.8L1274.3 857.4L1269.4 854L1264.4 850.6L1259.5 847.1L1254.5 843.7L1249.6 840.2L1244.6 836.7L1239.7 833.2L1234.8 829.7L1229.8 826.1L1224.8 822.6L1219.9 819L1214.9 815.5L1210 811.9L1205 808.3L1200.1 804.8L1195.1 801.2L1190.1 797.6L1185.2 794L1180.2 790.4L1175.2 786.8L1170.3 783.2L1165.3 779.7L1160.3 776.1L1155.3 772.5L1150.4 768.9L1145.4 765.4L1140.4 761.8L1135.4 758.3L1130.4 754.7L1125.4 751.2L1120.4 747.7L1115.5 744.2L1110.5 740.7L1105.5 737.2L1100.5 733.7L1095.5 730.3L1090.5 726.9L1085.5 723.4L1080.5 720.1L1075.5 716.7L1070.5 713.3L1065.4 710L1060.4 706.7L1055.4 703.4L1050.4 700.2L1045.3 697L1040.3 693.8L1035.3 690.7L1030.2 687.6L1025.2 684.5L1020.1 681.5L1015.1 678.6L1010 675.6L1004.9 672.7L999.8 669.9L994.8 667.1L989.7 664.4L984.6 661.7L979.5 659L974.4 656.5L969.2 654L964.1 651.5L959 649.1L953.8 646.8L948.7 644.5L943.5 642.3L938.4 640.2L933.2 638.1L928 636.1L922.8 634.2L917.6 632.4L912.4 630.6L907.2 628.9L902 627.3L896.8 625.8L891.5 624.4L886.3 623L881 621.8L875.7 620.6L870.4 619.6L865.1 618.6L859.8 617.7L854.5 617L849.2 616.3L843.8 615.8L838.5 615.3L833.1 615L827.8 614.8L822.4 614.8L817 614.9L811.6 615L806.2 615.4L800.8 615.8L795.4 616.3L790 617L784.6 617.8L779.2 618.8L773.8 619.8L768.5 621L763.1 622.4L757.8 623.8L752.6 625.3L747.5 626.8L742.4 628.4L737.4 629.9L732.4 631.4L727.5 632.9L722.7 634.4L717.8 635.8L713 637.2L708.1 638.5L703.2 639.8L698.4 641L693.5 642.3L688.6 643.5L683.7 644.7L678.7 645.8L673.8 647L668.9 648.1L663.9 649.2L659 650.4L654 651.5L649.1 652.5L644.2 653.6L639.2 654.7L634.3 655.7L629.3 656.8L624.4 657.8L619.5 658.8L614.5 659.8L609.6 660.8L604.6 661.7L599.7 662.7L594.8 663.6L589.8 664.6L584.9 665.5L579.9 666.4L575 667.3L570.1 668.1L565.1 669L560.2 669.8L555.2 670.7L550.3 671.5L545.4 672.3L540.4 673L535.5 673.8L530.6 674.6L525.6 675.3L520.7 676L515.8 676.7L510.8 677.4L505.9 678.1L501 678.8L496 679.4L491.1 680.1L486.2 680.7L481.2 681.3L476.3 681.9L471.4 682.4L466.4 683L461.5 683.5L456.6 684L451.6 684.5L446.7 685L441.8 685.5L436.8 685.9L431.9 686.4L427 686.8L422.1 687.2L417.1 687.6L412.2 688L407.3 688.3L402.3 688.6L397.4 689L392.5 689.3L387.5 689.5L382.6 689.8L377.7 690L372.8 690.3L367.8 690.5L362.9 690.7L358 690.9L353 691A16.5 16.5 0 0 0 354 724Z"/>
<path fill="#00ff00" d="M989.4 644.5L993.8 648.9L998.2 653.4L1002.6 657.8L1007 662.3L1011.9 666.1L1016.9 669.9L1021.8 673.7L1026.7 677.6L1031.6 681.4L1036.5 685.2L1041.4 689L1046.3 692.9L1051.2 696.7L1056.1 700.5L1061.1 704.2L1066.1 708L1071.1 711.7L1076.1 715.4L1081.1 719.2L1086.1 722.9L1091.1 726.6L1096.1 730.3L1101.1 734.1L1106.1 737.8L1111.1 741.5L1116.1 745.3L1121.1 749L1126.1 752.7L1131.1 756.5L1136.1 760.2L1141.1 763.9L1146.1 767.6L1151.1 771.3L1156.1 775L1161.1 778.7L1166.1 782.5L1171.1 786.2L1176.1 789.8L1181.1 793.5L1186.1 797.2L1191.2 800.9L1196.2 804.6L1201.2 808.2L1206.2 811.9L1211.2 815.5L1216.2 819.2L1221.2 822.8L1226.2 826.4L1231.2 830.1L1236.2 833.7L1241.2 837.3L1246.2 840.9L1251.3 844.4L1256.3 847.9L1261.3 851.4L1266.4 854.9L1271.4 858.4L1276.4 861.9L1281.5 865.4L1286.5 868.9L1291.5 872.3L1296.6 875.7L1302 878.6L1307.5 881.4L1312.9 884.2L1318.3 887L1323.7 889.8L1329.2 892.5L1334.6 895.3A0.8 0.8 0 0 0 1335.4 894L1330.8 890.1L1326.3 886.1L1321.7 882L1317.1 878L1312.5 874L1308 869.9L1303.4 865.9L1298.5 862.4L1293.5 858.8L1288.5 855.3L1283.6 851.8L1278.6 848.2L1273.6 844.7L1268.7 841.1L1263.7 837.5L1258.7 833.9L1253.8 830.3L1248.8 826.7L1243.8 823.1L1238.8 819.5L1233.8 815.9L1228.8 812.3L1223.8 808.7L1218.8 805L1213.8 801.4L1208.8 797.7L1203.8 794.1L1198.8 790.4L1193.9 786.7L1188.9 783.1L1183.9 779.4L1178.9 775.7L1173.9 772L1168.9 768.3L1163.9 764.6L1158.9 760.9L1153.9 757.2L1148.9 753.5L1143.9 749.7L1138.9 746L1133.9 742.3L1128.9 738.6L1123.9 734.8L1118.9 731.1L1113.9 727.4L1108.9 723.7L1103.9 719.9L1098.9 716.2L1093.9 712.5L1088.9 708.7L1083.9 705L1078.9 701.3L1073.9 697.5L1068.9 693.8L1063.9 690.1L1058.8 686.5L1053.7 682.9L1048.6 679.3L1043.5 675.7L1038.4 672.1L1033.3 668.5L1028.2 665L1023.1 661.4L1018.1 657.8L1013 654.3L1007.4 651.4L1001.8 648.5L996.2 645.7L990.6 642.8A1 1 0 0 0 989.4 644.5Z"/>
<path fill="#ff0000" d="M353.7 913L358.4 912.9L362.9 913L367.4 913.2L371.9 913.5L376.5 913.9L381 914.4L385.6 915L390.2 915.8L394.8 916.6L399.4 917.6L404 918.6L408.6 919.7L413.3 921L418 922.3L422.7 923.7L427.4 925.2L432.1 926.8L436.8 928.5L441.6 930.3L446.3 932.1L451.1 934L455.9 936L460.7 938.1L465.5 940.3L470.3 942.5L475.1 944.7L480 947.1L484.8 949.5L489.7 951.9L494.6 954.4L499.4 957L504.3 959.6L509.2 962.2L514.1 964.9L519 967.6L524 970.4L528.9 973.2L533.8 976L538.8 978.9L543.7 981.7L548.7 984.6L553.6 987.6L558.6 990.5L563.6 993.4L568.6 996.4L573.6 999.4L578.6 1002.3L583.6 1005.3L588.6 1008.3L593.6 1011.2L598.6 1014.2L603.6 1017.1L608.7 1020.1L613.7 1023L618.8 1025.9L623.8 1028.8L628.9 1031.7L633.9 1034.5L639 1037.3L644.1 1040.1L649.1 1042.9L654.2 1045.6L659.3 1048.3L664.4 1051L669.5 1053.6L674.6 1056.2L679.7 1058.7L684.9 1061.2L690 1063.6L695.2 1066L700.3 1068.3L705.5 1070.6L710.6 1072.8L715.8 1075L721 1077L726.2 1079.1L731.4 1081L736.6 1082.9L741.8 1084.7L747 1086.4L752.3 1088.1L757.5 1089.6L762.8 1091.1L768.1 1092.5L773.4 1093.8L778.7 1095L784 1096.1L789.3 1097.1L794.6 1098L799.9 1098.8L805.3 1099.5L810.6 1100.1L816 1100.5L821.4 1100.9L826.8 1101.1L832.2 1101.2L837.6 1101.1L842.9 1100.9L848.3 1100.6L853.7 1100.2L859 1099.6L864.3 1099L869.7 1098.2L875 1097.4L880.3 1096.4L885.5 1095.3L890.8 1094.2L896 1092.9L901.3 1091.6L906.5 1090.2L911.7 1088.7L916.9 1087.1L922.1 1085.4L927.2 1083.7L932.4 1081.9L937.5 1080.1L942.7 1078.2L947.8 1076.2L952.9 1074.2L958 1072.1L963.1 1069.9L968.2 1067.8L973.3 1065.5L978.4 1063.3L983.4 1061L988.5 1058.6L993.5 1056.3L998.6 1053.8L1003.6 1051.4L1008.6 1049L1013.7 1046.5L1018.7 1044.1L1023.7 1041.6L1028.8 1039.1L1033.8 1036.6L1038.9 1034.1L1043.9 1031.5L1048.9 1028.9L1053.9 1026.3L1059 1023.7L1064 1021.1L1069 1018.5L1074 1015.8L1079 1013.1L1084.1 1010.5L1089.1 1007.8L1094.1 1005.1L1099.1 1002.4L1104.1 999.7L1109.1 997L1114.1 994.3L1119.1 991.5L1124.1 988.8L1129.1 986.1L1134.1 983.4L1139 980.6L1144 977.9L1149 975.2L1154 972.5L1159 969.7L1164 967L1168.9 964.3L1173.9 961.6L1178.9 958.9L1183.9 956.2L1188.8 953.6L1193.8 950.9L1198.8 948.3L1203.7 945.6L1208.7 943L1213.6 940.4L1218.6 937.8L1223.6 935.2L1228.5 932.6L1233.5 930.1L1238.4 927.5L1243.4 925L1248.4 922.5L1253.3 919.9L1258.3 917.4L1263.3 915L1268.3 912.5L1273.3 910.1L1278.3 907.7L1283.3 905.2L1288.3 902.8L1293.3 900.4L1298.3 898L1303.3 895.6L1308.3 893.2L1313.3 890.8L1318.4 888.4L1323.4 886L1328.4 883.6L1333.4 881.2L1338.4 878.8L1343.4 876.4L1348.4 874L1353.5 871.6L1358.5 869.2L1363.5 866.9L1368.5 864.5L1373.5 862.1L1378.6 859.6L1383.6 857.2L1388.6 854.8L1393.6 852.4L1398.7 850L1403.7 847.5L1408.7 845.1L1413.7 842.7L1418.8 840.2L1423.8 837.8L1428.8 835.3L1433.8 832.9L1438.8 830.4L1443.9 828L1448.9 825.5L1453.9 823.1L1458.9 820.7L1463.8 818.2L1468.8 815.8L1473.8 813.3L1478.7 810.9L1483.7 808.5L1488.7 806.1L1493.6 803.7L1498.6 801.4L1503.5 799L1508.4 796.7L1513.4 794.4L1518.3 792.1L1523.3 789.9L1528.2 787.6L1533.1 785.4L1538 783.3L1542.9 781.1L1547.8 779L1552.8 776.9L1557.7 774.9L1562.5 772.8L1567.4 770.9L1572.3 768.9L1577.2 767L1582.1 765.1L1587 763.3L1591.9 761.5L1596.7 759.7L1601.6 758L1606.5 756.3L1611.4 754.7L1616.2 753.1L1621.1 751.5L1625.9 750L1630.8 748.5L1635.6 747L1640.5 745.7L1645.3 744.3L1650.2 743L1655 741.7L1659.8 740.5L1664.7 739.4L1669.5 738.2L1674.3 737.2L1679.1 736.1L1683.9 735.2L1688.8 734.2L1693.6 733.4L1698.4 732.6L1703.2 731.8L1708 731.1L1712.7 730.4L1717.5 729.8L1722.3 729.2L1727.1 728.7L1731.9 728.3L1736.6 727.9L1741.4 727.5L1746.2 727.3L1750.9 727L1755.7 726.9L1760.5 726.8L1765.2 726.7L1770 726.7L1774.7 726.8L1779.4 726.9L1784.2 727.1L1788.9 727.4L1793.8 727.7A19 19 0 0 0 1796.2 689.8L1791.1 689.5L1785.9 689.2L1780.6 689L1775.4 688.9L1770.2 688.9L1764.9 688.9L1759.7 689L1754.5 689.1L1749.3 689.3L1744.1 689.6L1738.9 689.9L1733.6 690.3L1728.4 690.8L1723.2 691.3L1718 691.9L1712.9 692.5L1707.7 693.2L1702.5 694L1697.3 694.8L1692.1 695.7L1686.9 696.6L1681.8 697.5L1676.6 698.6L1671.5 699.6L1666.3 700.8L1661.1 701.9L1656 703.2L1650.8 704.4L1645.7 705.8L1640.6 707.1L1635.4 708.6L1630.3 710L1625.2 711.5L1620 713.1L1614.9 714.7L1609.8 716.3L1604.7 718L1599.6 719.7L1594.5 721.5L1589.3 723.3L1584.2 725.1L1579.1 727L1574 728.9L1569 730.8L1563.9 732.8L1558.8 734.8L1553.7 736.9L1548.6 739L1543.5 741.1L1538.5 743.3L1533.4 745.5L1528.3 747.7L1523.3 749.9L1518.2 752.2L1513.2 754.5L1508.1 756.8L1503.1 759.1L1498 761.5L1493 763.9L1487.9 766.3L1482.9 768.7L1477.9 771.1L1472.9 773.6L1467.8 776L1462.8 778.5L1457.8 781L1452.8 783.5L1447.8 786L1442.8 788.5L1437.8 791L1432.9 793.6L1427.9 796.1L1422.9 798.7L1418 801.2L1413 803.8L1408 806.3L1403.1 808.9L1398.1 811.4L1393.2 814L1388.2 816.5L1383.3 819.1L1378.4 821.6L1373.4 824.1L1368.5 826.6L1363.5 829.1L1358.6 831.6L1353.6 834.1L1348.6 836.7L1343.7 839.2L1338.7 841.7L1333.8 844.2L1328.8 846.7L1323.8 849.2L1318.9 851.7L1313.9 854.2L1309 856.7L1304 859.2L1299 861.7L1294.1 864.2L1289.1 866.8L1284.1 869.3L1279.1 871.8L1274.2 874.4L1269.2 876.9L1264.2 879.5L1259.3 882L1254.3 884.6L1249.3 887.2L1244.3 889.7L1239.3 892.3L1234.3 894.8L1229.3 897.4L1224.3 899.9L1219.3 902.5L1214.3 905.1L1209.3 907.7L1204.2 910.3L1199.2 912.9L1194.2 915.6L1189.2 918.2L1184.2 920.9L1179.2 923.6L1174.2 926.3L1169.1 929L1164.1 931.7L1159.1 934.4L1154.1 937.1L1149.1 939.8L1144.1 942.5L1139.1 945.2L1134.2 948L1129.2 950.7L1124.2 953.4L1119.2 956.2L1114.2 958.9L1109.2 961.6L1104.2 964.3L1099.3 967L1094.3 969.7L1089.3 972.4L1084.3 975.1L1079.4 977.8L1074.4 980.5L1069.4 983.1L1064.5 985.8L1059.5 988.4L1054.6 991L1049.6 993.6L1044.6 996.2L1039.7 998.8L1034.7 1001.4L1029.8 1003.9L1024.8 1006.4L1019.9 1008.9L1015 1011.4L1010 1013.8L1005.1 1016.2L1000.2 1018.6L995.2 1021L990.3 1023.3L985.3 1025.6L980.4 1027.8L975.5 1030L970.6 1032.2L965.6 1034.3L960.7 1036.3L955.8 1038.3L950.9 1040.3L946.1 1042.2L941.2 1044.1L936.3 1045.9L931.5 1047.6L926.7 1049.3L921.8 1050.9L917 1052.5L912.2 1054L907.4 1055.4L902.6 1056.7L897.9 1057.9L893.1 1059.1L888.4 1060.2L883.6 1061.2L878.9 1062.1L874.2 1063L869.5 1063.7L864.8 1064.4L860.2 1064.9L855.5 1065.4L850.9 1065.8L846.3 1066L841.7 1066.2L837.1 1066.2L832.5 1066.2L827.9 1066.1L823.3 1065.9L818.7 1065.5L814.1 1065.1L809.5 1064.6L804.9 1064L800.2 1063.2L795.6 1062.4L790.9 1061.5L786.3 1060.5L781.6 1059.4L776.9 1058.2L772.2 1057L767.5 1055.6L762.8 1054.2L758 1052.7L753.3 1051.1L748.5 1049.4L743.8 1047.6L739 1045.8L734.2 1043.9L729.4 1042L724.6 1039.9L719.8 1037.8L715 1035.7L710.2 1033.5L705.3 1031.2L700.5 1028.9L695.6 1026.5L690.8 1024.1L685.9 1021.6L681 1019L676.2 1016.5L671.3 1013.8L666.4 1011.2L661.5 1008.5L656.6 1005.7L651.7 1003L646.8 1000.2L641.8 997.3L636.9 994.5L632 991.6L627 988.7L622.1 985.8L617.2 982.9L612.2 979.9L607.2 976.9L602.3 974L597.3 971L592.3 968L587.3 965L582.3 962L577.4 959L572.3 956L567.3 953L562.3 950L557.3 947.1L552.3 944.1L547.2 941.2L542.2 938.3L537.1 935.4L532.1 932.6L527 929.8L521.9 927L516.8 924.3L511.7 921.6L506.6 918.9L501.5 916.3L496.4 913.7L491.2 911.2L486.1 908.8L480.9 906.4L475.8 904L470.6 901.7L465.4 899.5L460.2 897.4L455 895.4L449.7 893.4L444.5 891.5L439.2 889.7L434 887.9L428.7 886.3L423.4 884.7L418.1 883.3L412.7 882L407.4 880.7L402 879.6L396.6 878.6L391.3 877.7L385.8 876.9L380.4 876.3L375 875.7L369.5 875.3L364.1 875.1L358.6 875L353.3 875A19 19 0 0 0 353.7 913ZM351.7 1220.4L356.8 1220.9L362.1 1221.4L367.3 1221.7L372.5 1222.1L377.7 1222.3L382.9 1222.5L388.1 1222.6L393.3 1222.7L398.5 1222.7L403.6 1222.7L408.8 1222.5L414 1222.4L419.1 1222.2L424.3 1221.9L429.5 1221.6L434.6 1221.2L439.8 1220.8L444.9 1220.3L450 1219.8L455.2 1219.3L460.3 1218.7L465.4 1218.1L470.5 1217.4L475.6 1216.7L480.7 1216L485.8 1215.2L490.9 1214.4L496 1213.6L501.1 1212.7L506.1 1211.8L511.2 1210.9L516.3 1210L521.3 1209L526.4 1208.1L531.5 1207.1L536.5 1206L541.5 1205L546.6 1204L551.6 1202.9L556.6 1201.8L561.7 1200.7L566.7 1199.6L571.7 1198.5L576.7 1197.4L581.7 1196.3L586.7 1195.2L591.7 1194L596.7 1192.9L601.7 1191.8L606.7 1190.7L611.6 1189.6L616.6 1188.4L621.6 1187.3L626.6 1186.2L631.5 1185.1L636.5 1184L641.4 1183L646.4 1181.9L651.3 1180.9L656.2 1179.8L661.2 1178.8L666.1 1177.8L671 1176.9L675.9 1175.9L680.9 1175L685.8 1174.1L690.7 1173.2L695.6 1172.3L700.5 1171.5L705.3 1170.7L710.2 1169.9L715.1 1169.2L720 1168.5L724.9 1167.8L729.7 1167.2L734.6 1166.6L739.4 1166L744.3 1165.5L749.1 1165L754 1164.6L758.8 1164.2L763.6 1163.9L768.5 1163.6L773.3 1163.3L778.2 1163.1L783.1 1162.9L788 1162.7L792.9 1162.5L797.8 1162.4L802.7 1162.3L807.6 1162.3L812.5 1162.2L817.4 1162.2L822.4 1162.2L827.3 1162.2L832.3 1162.2L837.3 1162.1L842.3 1162.1L847.2 1162.1L852.2 1162L857.3 1162L862.3 1161.9L867.3 1161.8L872.3 1161.8L877.4 1161.7L882.4 1161.6L887.5 1161.4L892.5 1161.3L897.6 1161.1L902.7 1160.9L907.8 1160.7L912.9 1160.4L918 1160.1L923.1 1159.7L928.2 1159.3L933.3 1158.9L938.5 1158.4L943.6 1157.9L948.8 1157.3L953.9 1156.6L959.1 1155.9L964.2 1155.1L969.4 1154.3L974.6 1153.4L979.7 1152.4L984.9 1151.4L990 1150.3L995.2 1149.1L1000.3 1147.9L1005.5 1146.6L1010.6 1145.4L1015.8 1144L1020.9 1142.6L1026.1 1141.1L1031.2 1139.6L1036.4 1138L1041.5 1136.4L1046.6 1134.7L1051.7 1132.9L1056.9 1131.1L1062 1129.2L1067.1 1127.3L1072.2 1125.3L1077.3 1123.3L1082.5 1121.2L1087.6 1119.1L1092.7 1116.9L1097.8 1114.7L1102.9 1112.4L1108 1110.1L1113.1 1107.7L1118.2 1105.3L1123.3 1102.8L1128.3 1100.3L1133.4 1097.7L1138.5 1095.1L1143.6 1092.4L1148.7 1089.7L1153.7 1087L1158.8 1084.2L1163.9 1081.4L1168.9 1078.6L1174 1075.7L1179.1 1072.8L1184.1 1069.8L1189.2 1066.8L1194.2 1063.8L1199.3 1060.7L1204.3 1057.6L1209.3 1054.5L1214.4 1051.4L1219.4 1048.2L1224.4 1045.1L1229.5 1041.9L1234.5 1038.6L1239.5 1035.4L1244.6 1032.1L1249.6 1028.8L1254.6 1025.5L1259.6 1022.2L1264.7 1019L1269.7 1015.7L1274.8 1012.4L1279.8 1009.1L1284.9 1005.8L1289.9 1002.4L1295 999.1L1300 995.8L1305 992.4L1310.1 989.1L1315.1 985.7L1320.2 982.4L1325.2 979L1330.2 975.7L1335.3 972.3L1340.3 969L1345.3 965.6L1350.4 962.2L1355.4 958.8L1360.4 955.5L1365.5 952.1L1370.5 948.7L1375.5 945.3L1380.6 942L1385.6 938.6L1390.6 935.2L1395.7 931.8L1400.7 928.4L1405.7 925L1410.8 921.7L1415.8 918.3L1420.8 914.9L1425.9 911.5L1430.9 908.1L1435.9 904.7L1441 901.3L1446 897.9L1451 894.5L1456.1 891.2L1461.1 887.8L1466.1 884.3L1471.1 880.9L1476.1 877.4L1481.1 874L1486 870.6L1491 867.1L1496 863.7L1501 860.3L1506 856.9L1511 853.4L1516 850L1521 846.6L1525.9 843.3L1530.9 839.9L1535.8 836.6L1540.8 833.3L1545.7 830L1550.7 826.7L1555.6 823.5L1560.5 820.3L1565.4 817.2L1570.3 814.1L1575.2 811.1L1580.1 808.1L1585 805.1L1589.9 802.2L1594.7 799.4L1599.6 796.6L1604.4 793.9L1609.3 791.2L1614.1 788.6L1619 786.1L1623.8 783.6L1628.7 781.2L1633.5 778.9L1638.3 776.6L1643.2 774.3L1648 772.1L1652.8 770L1657.7 767.9L1662.5 765.9L1667.3 763.9L1672.2 762L1677 760.1L1681.8 758.3L1686.7 756.5L1691.5 754.8L1696.3 753.1L1701.2 751.5L1706 749.9L1710.8 748.4L1715.7 746.9L1720.5 745.4L1725.4 744.1L1730.2 742.7L1735 741.4L1739.9 740.1L1744.7 738.9L1749.5 737.8L1754.4 736.6L1759.2 735.5L1764.1 734.5L1768.9 733.5L1773.7 732.5L1778.6 731.6L1783.4 730.7L1788.3 729.8L1793.1 729L1798.1 728.3A19 19 0 0 0 1791.9 690.7L1786.9 691.6L1781.8 692.5L1776.6 693.4L1771.5 694.4L1766.4 695.4L1761.2 696.4L1756.1 697.5L1751 698.7L1745.8 699.9L1740.7 701.1L1735.6 702.4L1730.4 703.7L1725.3 705.1L1720.2 706.5L1715 707.9L1709.9 709.4L1704.7 711L1699.6 712.6L1694.4 714.3L1689.3 716L1684.2 717.7L1679 719.6L1673.9 721.4L1668.7 723.3L1663.6 725.3L1658.5 727.3L1653.3 729.4L1648.2 731.6L1643 733.7L1637.9 736L1632.7 738.3L1627.6 740.7L1622.5 743.1L1617.3 745.6L1612.2 748.1L1607.1 750.7L1601.9 753.4L1596.8 756.1L1591.7 758.9L1586.5 761.7L1581.4 764.6L1576.3 767.6L1571.2 770.6L1566.1 773.6L1561 776.8L1555.9 779.9L1550.8 783.1L1545.7 786.3L1540.7 789.6L1535.6 792.9L1530.6 796.2L1525.5 799.6L1520.5 803L1515.5 806.4L1510.4 809.8L1505.4 813.2L1500.4 816.7L1495.4 820.1L1490.4 823.6L1485.4 827L1480.4 830.5L1475.5 833.9L1470.5 837.4L1465.5 840.8L1460.5 844.3L1455.5 847.8L1450.6 851.2L1445.6 854.7L1440.6 858.1L1435.6 861.6L1430.7 865.2L1425.8 868.7L1420.8 872.2L1415.9 875.7L1410.9 879.2L1406 882.7L1401 886.2L1396.1 889.7L1391.1 893.3L1386.2 896.8L1381.3 900.3L1376.3 903.8L1371.4 907.3L1366.4 910.8L1361.5 914.3L1356.5 917.8L1351.6 921.3L1346.7 924.8L1341.7 928.3L1336.8 931.8L1331.8 935.2L1326.9 938.7L1322 942.2L1317 945.7L1312.1 949.2L1307.1 952.6L1302.2 956.1L1297.3 959.6L1292.3 963L1287.4 966.5L1282.4 969.9L1277.5 973.4L1272.6 976.8L1267.6 980.2L1262.7 983.7L1257.8 987.1L1252.9 990.4L1247.9 993.8L1243 997.2L1238.1 1000.5L1233.1 1003.7L1228.2 1007L1223.2 1010.2L1218.3 1013.4L1213.3 1016.6L1208.4 1019.7L1203.4 1022.9L1198.5 1026L1193.5 1029L1188.6 1032.1L1183.7 1035.1L1178.7 1038.1L1173.8 1041L1168.9 1043.9L1164 1046.8L1159.1 1049.7L1154.1 1052.5L1149.2 1055.2L1144.3 1058L1139.4 1060.7L1134.5 1063.3L1129.6 1065.9L1124.7 1068.5L1119.8 1071L1114.9 1073.4L1110 1075.9L1105.2 1078.2L1100.3 1080.6L1095.4 1082.8L1090.5 1085.1L1085.6 1087.2L1080.8 1089.4L1075.9 1091.5L1071 1093.5L1066.2 1095.5L1061.3 1097.4L1056.4 1099.3L1051.6 1101.1L1046.7 1102.9L1041.9 1104.6L1037 1106.2L1032.2 1107.8L1027.4 1109.4L1022.5 1110.9L1017.7 1112.3L1012.8 1113.7L1008 1115L1003.2 1116.3L998.4 1117.5L993.5 1118.6L988.7 1119.6L983.9 1120.6L979.1 1121.5L974.2 1122.4L969.4 1123.2L964.6 1123.9L959.8 1124.5L955 1125.1L950.2 1125.7L945.4 1126.2L940.5 1126.6L935.7 1127L930.9 1127.3L926 1127.6L921.1 1127.9L916.3 1128.1L911.4 1128.3L906.5 1128.4L901.6 1128.6L896.8 1128.6L891.8 1128.7L886.9 1128.7L882 1128.7L877.1 1128.7L872.2 1128.7L867.2 1128.7L862.3 1128.6L857.3 1128.5L852.3 1128.5L847.4 1128.4L842.4 1128.3L837.4 1128.2L832.4 1128.2L827.4 1128.2L822.3 1128.2L817.3 1128.2L812.3 1128.2L807.2 1128.2L802.2 1128.3L797.1 1128.4L792 1128.5L786.9 1128.6L781.8 1128.8L776.7 1129L771.6 1129.2L766.5 1129.5L761.4 1129.8L756.2 1130.1L751.1 1130.6L746 1131L740.8 1131.5L735.7 1132L730.6 1132.6L725.5 1133.2L720.4 1133.9L715.2 1134.6L710.1 1135.3L705 1136.1L700 1136.9L694.9 1137.7L689.8 1138.5L684.7 1139.4L679.6 1140.3L674.6 1141.2L669.5 1142.2L664.5 1143.1L659.4 1144.1L654.4 1145.1L649.3 1146.2L644.3 1147.2L639.2 1148.3L634.2 1149.3L629.2 1150.4L624.2 1151.5L619.1 1152.6L614.1 1153.7L609.1 1154.8L604.1 1155.9L599.1 1157L594.1 1158.1L589.1 1159.3L584.2 1160.4L579.2 1161.5L574.2 1162.6L569.2 1163.7L564.3 1164.8L559.3 1165.9L554.3 1166.9L549.4 1168L544.4 1169L539.5 1170.1L534.6 1171.1L529.6 1172.1L524.7 1173.1L519.8 1174L514.9 1175L509.9 1175.9L505 1176.8L500.1 1177.7L495.2 1178.5L490.3 1179.3L485.4 1180.1L480.6 1180.9L475.7 1181.6L470.8 1182.3L465.9 1183L461.1 1183.6L456.2 1184.2L451.4 1184.7L446.5 1185.2L441.7 1185.7L436.8 1186.1L432 1186.5L427.2 1186.8L422.4 1187.1L417.5 1187.3L412.7 1187.5L407.9 1187.7L403.1 1187.8L398.3 1187.8L393.5 1187.8L388.8 1187.7L384 1187.6L379.2 1187.4L374.4 1187.2L369.7 1186.9L364.9 1186.5L360.1 1186.1L355.3 1185.6A17.5 17.5 0 0 0 351.7 1220.4Z"/>
<path fill="#00ffff" d="M353.5 297L358.4 297L363.4 297.1L368.4 297.1L373.4 297.1L378.4 297.1L383.4 297.1L388.4 297.1L393.4 297.1L398.4 297.1L403.4 297.1L408.4 297.1L413.3 297.1L418.3 297.1L423.3 297.1L428.3 297.1L433.3 297.1L438.2 297.1L443.2 297.1L448.2 297.1L453.2 297.1L458.1 297.1L463.1 297.1L468.1 297.2L473 297.2L478 297.3L482.9 297.3L487.9 297.4L492.9 297.4L497.8 297.5L502.8 297.6L507.7 297.7L512.7 297.8L517.6 298L522.6 298.1L527.5 298.2L532.5 298.4L537.4 298.6L542.4 298.8L547.3 299L552.2 299.2L557.2 299.5L562.1 299.7L567 300L572 300.3L576.9 300.6L581.8 300.9L586.8 301.3L591.7 301.7L596.6 302.1L601.5 302.5L606.5 302.9L611.4 303.4L616.3 303.8L621.3 304.3L626.2 304.8L631.2 305.3L636.1 305.9L641.1 306.4L646 307L651 307.6L655.9 308.1L660.9 308.7L665.8 309.3L670.8 309.9L675.8 310.5L680.8 311.1L685.7 311.8L690.7 312.4L695.7 313L700.7 313.6L705.6 314.3L710.6 314.9L715.6 315.5L720.6 316.1L725.6 316.7L730.7 317.3L735.7 317.9L740.7 318.5L745.7 319L750.8 319.6L755.8 320.1L760.9 320.6L765.9 321L771 321.5L776.1 321.9L781.2 322.2L786.3 322.5L791.4 322.8L796.5 323.1L801.6 323.3L806.7 323.4L811.8 323.5L816.9 323.6L822.1 323.5L827.2 323.5L832.4 323.3L837.5 323.1L842.7 322.8L847.8 322.4L853 322L858.1 321.5L863.3 320.9L868.4 320.3L873.6 319.6L878.7 318.8L883.8 318L889 317.1L894.1 316.2L899.2 315.2L904.3 314.1L909.5 313L914.6 311.9L919.7 310.6L924.8 309.3L929.9 308L935 306.5L940.1 305.1L945.2 303.5L950.3 302L955.4 300.3L960.5 298.6L965.6 296.9L970.7 295L975.8 293.2L980.9 291.3L986 289.3L991.1 287.2L996.1 285.1L1001.2 283L1006.3 280.8L1011.3 278.5L1016.4 276.1L1021.4 273.7L1026.4 271.3L1031.5 268.8L1036.5 266.2L1041.5 263.6L1046.6 261L1051.6 258.2L1056.6 255.5L1061.6 252.7L1066.7 249.8L1071.7 246.9L1076.7 243.9L1081.7 240.9L1086.7 237.8L1091.7 234.7L1096.7 231.6L1101.7 228.4L1106.7 225.1L1111.7 221.8A10.5 10.5 0 0 0 1100.3 204.1L1095.3 207.2L1090.4 210.2L1085.4 213.2L1080.4 216.1L1075.5 219L1070.5 221.8L1065.5 224.6L1060.6 227.3L1055.6 229.9L1050.7 232.6L1045.7 235.1L1040.8 237.6L1035.9 240.1L1030.9 242.5L1026 244.8L1021 247.2L1016.1 249.4L1011.2 251.6L1006.3 253.7L1001.3 255.8L996.4 257.9L991.5 259.9L986.6 261.9L981.7 263.8L976.9 265.6L972 267.4L967.1 269.2L962.2 270.9L957.3 272.5L952.5 274.1L947.6 275.7L942.7 277.1L937.8 278.6L933 279.9L928.1 281.2L923.3 282.5L918.4 283.7L913.6 284.8L908.7 285.9L903.9 286.9L899 287.9L894.2 288.8L889.3 289.7L884.5 290.5L879.7 291.2L874.8 291.9L870 292.5L865.2 293.1L860.3 293.6L855.5 294L850.7 294.4L845.9 294.7L841.1 295L836.3 295.2L831.4 295.4L826.6 295.5L821.8 295.6L817 295.6L812.1 295.6L807.3 295.5L802.5 295.4L797.6 295.2L792.7 295L787.9 294.8L783 294.5L778.1 294.2L773.2 293.8L768.3 293.4L763.4 293L758.5 292.5L753.6 292.1L748.6 291.6L743.7 291L738.8 290.5L733.8 289.9L728.9 289.4L723.9 288.8L719 288.2L714 287.6L709 287L704 286.4L699 285.8L694 285.2L689.1 284.6L684.1 284L679.1 283.4L674.1 282.8L669.1 282.2L664.1 281.6L659.1 281L654 280.5L649 279.9L644 279.4L639 278.9L634 278.3L629 277.8L623.9 277.3L618.9 276.9L613.9 276.4L608.8 276L603.8 275.5L598.8 275.1L593.7 274.7L588.7 274.4L583.6 274L578.6 273.7L573.6 273.4L568.5 273.1L563.5 272.9L558.5 272.6L553.4 272.4L548.4 272.2L543.4 272L538.4 271.8L533.3 271.7L528.3 271.5L523.3 271.4L518.3 271.3L513.3 271.2L508.2 271.1L503.2 271L498.2 270.9L493.2 270.9L488.2 270.8L483.2 270.8L478.2 270.7L473.2 270.7L468.2 270.7L463.2 270.7L458.2 270.7L453.2 270.7L448.2 270.7L443.2 270.7L438.2 270.7L433.2 270.7L428.2 270.7L423.2 270.8L418.2 270.8L413.3 270.8L408.3 270.9L403.3 270.9L398.3 270.9L393.3 270.9L388.4 271L383.4 271L378.4 271L373.4 271L368.5 271L363.5 271L358.5 271L353.5 271A13 13 0 0 0 353.5 297ZM354.5 347L359.4 346.6L364.4 346.3L369.4 346L374.3 345.6L379.3 345.3L384.3 345L389.3 344.7L394.2 344.4L399.2 344.1L404.2 343.8L409.2 343.5L414.1 343.2L419.1 342.9L424.1 342.6L429.1 342.3L434 342.1L439 341.8L444 341.6L449 341.3L453.9 341.1L458.9 340.8L463.9 340.6L468.9 340.3L473.8 340.1L478.8 339.9L483.8 339.6L488.8 339.4L493.8 339.2L498.7 339L503.7 338.8L508.7 338.6L513.7 338.4L518.6 338.2L523.6 338L528.6 337.8L533.6 337.6L538.6 337.4L543.5 337.2L548.5 337L553.5 336.8L558.5 336.6L563.5 336.5L568.4 336.3L573.4 336.1L578.4 335.9L583.4 335.8L588.4 335.6L593.4 335.4L598.3 335.3L603.3 335.1L608.3 334.9L613.3 334.8L618.3 334.6L623.3 334.5L628.2 334.3L633.2 334.1L638.2 334L643.2 333.8L648.2 333.7L653.2 333.5L658.2 333.4L663.2 333.2L668.1 333L673.1 332.9L678.1 332.7L683.1 332.6L688.1 332.4L693.1 332.3L698.1 332.1L703.1 331.9L708 331.8L713 331.6L718 331.5L723 331.3L728 331.1L733 331L738 330.8L743 330.6L748 330.5L753 330.3L758 330.1L762.9 330L767.9 329.8L772.9 329.6L777.9 329.4L782.9 329.3L787.9 329.1L792.9 328.9L797.9 328.7L802.9 328.5L807.9 328.3L812.9 328.1L817.9 327.9L822.9 327.7L827.9 327.5L832.9 327.3L837.9 327L842.9 326.7L847.9 326.4L852.8 326.1L857.8 325.8L862.8 325.5L867.8 325.2L872.8 324.9L877.8 324.6L882.9 324.3L887.9 323.9L892.9 323.5L898 323.2L903.1 322.7L908.1 322.3L913.2 321.8L918.3 321.2L923.5 320.6L928.6 320L933.7 319.2L938.9 318.4L944 317.6L949.2 316.6L954.4 315.6L959.6 314.5L964.8 313.3L970 312L975.2 310.6L980.4 309.1L985.6 307.4L990.8 305.7L996 303.8L1001.2 301.8L1006.4 299.8L1011.5 297.6L1016.7 295.3L1021.8 292.9L1026.9 290.5L1032 287.9L1037.1 285.3L1042.2 282.6L1047.3 279.8L1052.3 277L1057.4 274.1L1062.4 271.2L1067.4 268.2L1072.5 265.1L1077.5 262.1L1082.4 259L1087.4 255.9L1092.4 252.7L1097.4 249.6L1102.3 246.5L1107.3 243.4L1112.2 240.2L1117.1 237.1L1122.1 234.1L1127 231L1131.9 228L1136.8 225L1141.7 222.1A10.5 10.5 0 0 0 1131.1 203.9L1126.1 206.8L1121 209.7L1115.9 212.6L1110.9 215.6L1105.8 218.6L1100.8 221.6L1095.7 224.6L1090.7 227.6L1085.7 230.6L1080.7 233.6L1075.7 236.6L1070.7 239.5L1065.7 242.4L1060.7 245.3L1055.8 248.1L1050.8 250.9L1045.9 253.6L1040.9 256.3L1036 258.9L1031.1 261.4L1026.2 263.8L1021.4 266.2L1016.5 268.4L1011.6 270.6L1006.8 272.7L1002 274.7L997.1 276.6L992.3 278.4L987.6 280.1L982.8 281.7L978 283.1L973.3 284.5L968.5 285.8L963.7 287L959 288L954.2 289L949.4 289.9L944.6 290.8L939.8 291.5L935 292.2L930.2 292.8L925.3 293.4L920.5 293.9L915.6 294.4L910.8 294.8L905.9 295.1L901 295.5L896.1 295.7L891.2 296L886.3 296.3L881.3 296.5L876.4 296.7L871.4 296.9L866.4 297.1L861.4 297.3L856.5 297.4L851.5 297.6L846.5 297.8L841.5 298L836.5 298.1L831.6 298.3L826.6 298.6L821.6 298.8L816.6 299L811.7 299.3L806.7 299.5L801.7 299.7L796.7 299.9L791.7 300.2L786.8 300.4L781.8 300.6L776.8 300.8L771.8 301L766.8 301.2L761.9 301.4L756.9 301.6L751.9 301.8L746.9 302L741.9 302.2L737 302.4L732 302.6L727 302.8L722 303L717 303.2L712 303.4L707.1 303.6L702.1 303.8L697.1 304L692.1 304.2L687.1 304.3L682.1 304.5L677.1 304.7L672.2 304.9L667.2 305.1L662.2 305.3L657.2 305.5L652.2 305.7L647.2 305.8L642.2 306L637.3 306.2L632.3 306.4L627.3 306.6L622.3 306.8L617.3 307L612.3 307.2L607.3 307.4L602.3 307.6L597.3 307.8L592.4 308L587.4 308.2L582.4 308.4L577.4 308.6L572.4 308.8L567.4 309L562.4 309.2L557.4 309.4L552.4 309.6L547.4 309.8L542.4 310L537.4 310.3L532.5 310.5L527.5 310.7L522.5 310.9L517.5 311.2L512.5 311.4L507.5 311.6L502.5 311.9L497.5 312.1L492.5 312.4L487.5 312.6L482.5 312.9L477.5 313.1L472.5 313.4L467.5 313.6L462.5 313.9L457.5 314.2L452.5 314.5L447.5 314.7L442.5 315L437.5 315.3L432.5 315.6L427.5 315.9L422.5 316.2L417.5 316.5L412.5 316.9L407.5 317.2L402.5 317.5L397.5 317.8L392.5 318.2L387.5 318.5L382.5 318.9L377.5 319.2L372.5 319.6L367.5 319.9L362.5 320.3L357.5 320.7L352.5 321.1A13 13 0 0 0 354.5 347ZM1391.3 927.9L1396.2 930.6L1401.1 933.2L1406 935.8L1410.9 938.4L1415.8 941L1420.7 943.5L1425.6 946L1430.5 948.4L1435.4 950.8L1440.3 953.2L1445.2 955.6L1450.1 958L1455 960.3L1460 962.5L1464.9 964.8L1469.8 967L1474.7 969.2L1479.7 971.3L1484.7 973.3L1489.7 975.3L1494.6 977.2L1499.6 979.1L1504.6 981L1509.6 982.8L1514.6 984.6L1519.6 986.4L1524.6 988.1L1529.6 989.8L1534.6 991.5L1539.6 993.2L1544.6 994.8L1549.6 996.4L1554.6 997.9L1559.6 999.5L1564.6 1001L1569.6 1002.5L1574.6 1003.9L1579.6 1005.3L1584.5 1006.7L1589.5 1008.1L1594.5 1009.4L1599.5 1010.7L1604.5 1012L1609.5 1013.2L1614.5 1014.4L1619.5 1015.6L1624.5 1016.8L1629.6 1017.9L1634.6 1019L1639.6 1020.1L1644.6 1021.1L1649.6 1022.1L1654.6 1023.1L1659.6 1024.1L1664.6 1025L1669.6 1025.9L1674.6 1026.8L1679.6 1027.6L1684.6 1028.4L1689.6 1029.2L1694.6 1029.9L1699.6 1030.7L1704.6 1031.4L1709.6 1032L1714.6 1032.7L1719.7 1033.3L1724.7 1033.9L1729.7 1034.4L1734.7 1034.9L1739.7 1035.4L1744.7 1035.9L1749.7 1036.3L1754.7 1036.7L1759.7 1037.1L1764.8 1037.5L1769.8 1037.8L1774.8 1038.1L1779.8 1038.4L1784.8 1038.6L1789.8 1038.8L1794.8 1039A6 6 0 0 0 1795.2 1027L1790.2 1026.9L1785.3 1026.8L1780.3 1026.6L1775.4 1026.4L1770.4 1026.1L1765.5 1025.9L1760.5 1025.6L1755.6 1025.3L1750.6 1024.9L1745.7 1024.6L1740.7 1024.2L1735.8 1023.7L1730.8 1023.3L1725.8 1022.8L1720.9 1022.3L1715.9 1021.8L1711 1021.2L1706 1020.6L1701.1 1020L1696.1 1019.3L1691.2 1018.6L1686.2 1017.9L1681.2 1017.2L1676.3 1016.4L1671.3 1015.6L1666.4 1014.8L1661.4 1013.9L1656.4 1013.1L1651.5 1012.1L1646.5 1011.2L1641.6 1010.2L1636.6 1009.2L1631.6 1008.2L1626.7 1007.2L1621.7 1006.1L1616.8 1005L1611.8 1003.8L1606.8 1002.7L1601.9 1001.5L1596.9 1000.2L1591.9 999L1587 997.7L1582 996.4L1577 995L1572.1 993.7L1567.1 992.3L1562.1 990.8L1557.2 989.4L1552.2 987.9L1547.2 986.3L1542.3 984.8L1537.3 983.2L1532.3 981.6L1527.4 980L1522.4 978.3L1517.4 976.6L1512.4 974.9L1507.5 973.1L1502.5 971.3L1497.5 969.5L1492.6 967.7L1487.6 965.8L1482.6 963.9L1477.6 962.1L1472.5 960.3L1467.5 958.4L1462.5 956.6L1457.4 954.6L1452.4 952.7L1447.3 950.8L1442.3 948.8L1437.2 946.7L1432.2 944.7L1427.1 942.6L1422.1 940.5L1417 938.3L1411.9 936.1L1406.9 933.9L1401.8 931.7L1396.7 929.4L1391.7 927.1A0.5 0.5 0 0 0 1391.3 927.9ZM353.6 672L358.6 671.9L363.6 671.8L368.6 671.6L373.6 671.5L378.6 671.3L383.6 671.1L388.6 670.8L393.6 670.6L398.6 670.3L403.6 670L408.6 669.7L413.6 669.4L418.6 669.1L423.6 668.7L428.6 668.4L433.6 668L438.6 667.6L443.6 667.2L448.6 666.7L453.6 666.3L458.6 665.8L463.6 665.4L468.6 664.9L473.6 664.4L478.6 663.9L483.6 663.4L488.6 662.9L493.6 662.3L498.6 661.8L503.6 661.2L508.6 660.7L513.6 660.1L518.6 659.5L523.6 658.9L528.6 658.4L533.6 657.8L538.6 657.2L543.6 656.6L548.5 655.9L553.5 655.3L558.5 654.7L563.5 654.1L568.5 653.5L573.5 652.8L578.5 652.2L583.5 651.6L588.5 650.9L593.5 650.3L598.4 649.7L603.4 649L608.4 648.4L613.4 647.8L618.4 647.1L623.4 646.5L628.4 645.9L633.4 645.2L638.3 644.6L643.3 644L648.3 643.4L653.3 642.8L658.3 642.2L663.3 641.6L668.2 641L673.2 640.4L678.2 639.9L683.2 639.3L688.2 638.7L693.2 638.2L698.1 637.7L703.1 637.1L708.1 636.6L713.1 636.1L718.1 635.6L723 635.1L728 634.6L733 634.2L738 633.7L742.9 633.3L747.9 632.9L752.9 632.5L757.9 632.1L762.8 631.7L767.8 631.3L772.8 631L777.8 630.7L782.7 630.4L787.7 630.1L792.7 629.8L797.6 629.5L802.6 629.3L807.6 629.1L812.6 628.9L817.5 628.7L822.5 628.5L827.5 628.4L832.4 628.3L837.4 628.2L842.4 628.1L847.3 628.1L852.3 628.1L857.3 628.1L862.2 628.1L867.2 628.1L872.2 628.2L877.1 628.3L882.1 628.4L887.1 628.6L892 628.8L897 629L901.9 629.2L906.9 629.5L911.9 629.8L916.8 630.1L921.8 630.5L926.7 630.9L931.7 631.3L936.6 631.8L941.6 632.3L946.5 632.9L951.5 633.5L956.4 634.2L961.3 634.9L966.3 635.7L971.2 636.5L976.1 637.4L981.1 638.4L986 639.4L990.9 640.5L995.8 641.6L1000.8 642.9L1005.7 644.2L1010.6 645.5L1015.5 647L1020.5 648.5L1025.4 650.1L1030.3 651.8L1035.2 653.5L1040.2 655.4L1045.1 657.3L1050 659.2L1055 661.2L1059.9 663.3L1064.9 665.4L1069.8 667.6L1074.8 669.8L1079.7 672.1L1084.7 674.4L1089.7 676.7L1094.6 679.1L1099.6 681.5L1104.6 683.9L1109.5 686.4L1114.5 688.9L1119.5 691.4L1124.4 693.9L1129.4 696.5L1134.4 699.1L1139.3 701.7L1144.3 704.3L1149.3 707L1154.3 709.7L1159.2 712.4L1164.2 715.1L1169.2 717.8L1174.1 720.6L1179.1 723.3L1184.1 726.1L1189.1 728.9L1194.1 731.7L1199 734.5L1204 737.3L1209 740.1L1214 742.9L1219 745.8L1224 748.6L1228.9 751.4L1233.9 754.3L1238.9 757.1L1243.9 759.9L1248.9 762.8L1253.9 765.6L1258.9 768.4L1263.8 771.3L1268.8 774.1L1273.8 776.9L1278.8 779.7L1283.8 782.5L1288.8 785.3L1293.8 788L1298.8 790.8L1303.7 793.6L1308.7 796.4L1313.6 799.2L1318.6 802L1323.5 804.8L1328.5 807.5L1333.5 810.2L1338.4 812.9L1343.4 815.6L1348.4 818.2L1353.3 820.8L1358.3 823.4L1363.3 826L1368.2 828.5L1373.2 831L1378.2 833.5L1383.2 836L1388.1 838.4L1393.1 840.8L1398.1 843.1L1403.1 845.4L1408 847.7L1413 850L1418 852.3L1423 854.5L1428 856.6L1433 858.8L1438 860.9L1442.9 863L1447.9 865.1L1452.9 867.1L1457.9 869L1462.9 871L1467.9 872.9L1473 874.8L1478 876.6L1483 878.5L1488 880.3L1493 882L1498 883.7L1503 885.5L1508 887.1L1513 888.8L1518.1 890.4L1523.1 892L1528.1 893.5L1533.1 895L1538.1 896.5L1543.1 898L1548.2 899.4L1553.2 900.8L1558.2 902.2L1563.2 903.6L1568.3 904.9L1573.3 906.1L1578.3 907.4L1583.3 908.6L1588.4 909.8L1593.4 911L1598.4 912.1L1603.5 913.2L1608.5 914.2L1613.6 915.2L1618.6 916.1L1623.6 917.1L1628.7 917.9L1633.7 918.8L1638.8 919.7L1643.8 920.5L1648.9 921.2L1653.9 922L1659 922.7L1664 923.4L1669 924L1674.1 924.7L1679.1 925.3L1684.2 925.8L1689.2 926.3L1694.3 926.9L1699.3 927.3L1704.4 927.8L1709.4 928.2L1714.5 928.6L1719.5 928.9L1724.6 929.2L1729.6 929.5L1734.7 929.8L1739.7 930L1744.8 930.2L1749.8 930.4L1754.9 930.5L1759.9 930.6L1765 930.7L1770 930.7L1775.1 930.7L1780.1 930.7L1785.2 930.7L1790.2 930.6L1795.3 930.5A10.5 10.5 0 0 0 1794.7 909.5L1789.8 909.6L1784.9 909.7L1779.9 909.8L1775 909.8L1770.1 909.9L1765.2 909.8L1760.2 909.8L1755.3 909.7L1750.4 909.6L1745.5 909.5L1740.5 909.3L1735.6 909.1L1730.7 908.9L1725.8 908.6L1720.8 908.3L1715.9 908L1711 907.7L1706.1 907.3L1701.1 906.9L1696.2 906.5L1691.3 906L1686.3 905.5L1681.4 905L1676.5 904.4L1671.6 903.8L1666.6 903.2L1661.7 902.6L1656.8 901.9L1651.8 901.2L1646.9 900.5L1642 899.7L1637 898.9L1632.1 898.1L1627.2 897.2L1622.2 896.4L1617.3 895.4L1612.4 894.5L1607.4 893.5L1602.5 892.5L1597.6 891.5L1592.6 890.5L1587.7 889.5L1582.7 888.4L1577.8 887.3L1572.8 886.2L1567.9 885L1562.9 883.9L1558 882.6L1553 881.4L1548.1 880.1L1543.1 878.8L1538.2 877.5L1533.2 876.1L1528.2 874.7L1523.3 873.3L1518.3 871.8L1513.4 870.3L1508.4 868.8L1503.4 867.3L1498.5 865.7L1493.5 864.1L1488.5 862.4L1483.6 860.8L1478.6 859.1L1473.6 857.3L1468.7 855.6L1463.7 853.8L1458.7 852L1453.7 850.1L1448.8 848.3L1443.8 846.4L1438.8 844.5L1433.8 842.6L1428.8 840.6L1423.8 838.6L1418.8 836.6L1413.8 834.5L1408.8 832.4L1403.8 830.3L1398.8 828.2L1393.8 826L1388.8 823.8L1383.8 821.5L1378.8 819.3L1373.8 817L1368.8 814.6L1363.8 812.3L1358.8 809.9L1353.8 807.5L1348.8 805L1343.8 802.6L1338.8 800.1L1333.7 797.5L1328.7 795L1323.7 792.4L1318.7 789.9L1313.7 787.3L1308.6 784.6L1303.6 782L1298.6 779.3L1293.6 776.5L1288.7 773.8L1283.7 771L1278.7 768.2L1273.7 765.4L1268.7 762.6L1263.7 759.8L1258.7 757L1253.8 754.2L1248.8 751.3L1243.8 748.5L1238.8 745.7L1233.8 742.9L1228.8 740L1223.8 737.2L1218.8 734.4L1213.8 731.6L1208.8 728.7L1203.8 725.9L1198.8 723.1L1193.8 720.3L1188.9 717.6L1183.9 714.8L1178.9 712L1173.9 709.3L1168.9 706.6L1163.9 703.8L1158.9 701.1L1153.8 698.5L1148.8 695.8L1143.8 693.2L1138.8 690.5L1133.8 687.9L1128.8 685.4L1123.8 682.8L1118.8 680.3L1113.8 677.8L1108.8 675.3L1103.8 672.9L1098.8 670.4L1093.7 668.1L1088.7 665.7L1083.7 663.4L1078.7 661.1L1073.7 658.9L1068.7 656.7L1063.6 654.6L1058.6 652.5L1053.6 650.4L1048.5 648.4L1043.5 646.5L1038.4 644.7L1033.4 642.9L1028.4 641.2L1023.3 639.5L1018.2 638L1013.2 636.5L1008.1 635.1L1003.1 633.8L998 632.6L993 631.4L987.9 630.3L982.9 629.2L977.8 628.3L972.8 627.4L967.8 626.5L962.7 625.8L957.7 625L952.6 624.4L947.6 623.7L942.6 623.2L937.5 622.6L932.5 622.2L927.5 621.7L922.5 621.3L917.4 621L912.4 620.6L907.4 620.4L902.4 620.1L897.4 619.9L892.4 619.7L887.4 619.5L882.3 619.3L877.3 619.2L872.3 619.1L867.3 619.1L862.3 619L857.3 619L852.3 619L847.3 619.1L842.3 619.1L837.2 619.2L832.2 619.3L827.2 619.4L822.2 619.6L817.2 619.7L812.2 619.9L807.2 620.1L802.2 620.4L797.2 620.6L792.2 620.9L787.2 621.2L782.2 621.5L777.2 621.8L772.2 622.1L767.2 622.5L762.2 622.9L757.2 623.3L752.2 623.7L747.2 624.1L742.2 624.5L737.2 625L732.2 625.4L727.2 625.9L722.2 626.4L717.2 626.9L712.2 627.4L707.2 627.9L702.2 628.5L697.2 629L692.2 629.5L687.2 630.1L682.2 630.7L677.2 631.2L672.2 631.8L667.2 632.4L662.2 633L657.2 633.6L652.3 634.2L647.3 634.9L642.3 635.5L637.3 636.1L632.3 636.7L627.3 637.4L622.3 638L617.3 638.6L612.3 639.3L607.3 639.9L602.4 640.6L597.4 641.2L592.4 641.9L587.4 642.5L582.4 643.1L577.4 643.8L572.4 644.4L567.4 645.1L562.5 645.7L557.5 646.3L552.5 647L547.5 647.6L542.5 648.2L537.5 648.8L532.6 649.4L527.6 650.1L522.6 650.7L517.6 651.2L512.6 651.8L507.7 652.4L502.7 653L497.7 653.5L492.7 654.1L487.7 654.6L482.8 655.2L477.8 655.7L472.8 656.2L467.8 656.7L462.8 657.2L457.9 657.7L452.9 658.1L447.9 658.6L442.9 659L438 659.4L433 659.8L428 660.2L423 660.6L418.1 661L413.1 661.3L408.1 661.6L403.1 662L398.2 662.2L393.2 662.5L388.2 662.8L383.2 663L378.3 663.2L373.3 663.4L368.3 663.6L363.4 663.7L358.4 663.9L353.4 664A4 4 0 0 0 353.6 672ZM353.4 667.5L358.4 667.6L363.5 667.6L368.5 667.6L373.5 667.6L378.5 667.6L383.5 667.5L388.5 667.4L393.5 667.3L398.5 667.1L403.5 666.9L408.6 666.7L413.6 666.5L418.6 666.2L423.6 665.9L428.6 665.6L433.6 665.2L438.6 664.9L443.6 664.5L448.6 664.1L453.6 663.7L458.6 663.2L463.6 662.8L468.6 662.3L473.6 661.8L478.6 661.3L483.6 660.8L488.6 660.2L493.6 659.7L498.6 659.1L503.6 658.5L508.6 657.9L513.6 657.3L518.6 656.7L523.6 656.1L528.6 655.4L533.6 654.8L538.6 654.1L543.6 653.5L548.6 652.8L553.6 652.1L558.6 651.4L563.6 650.7L568.6 650.1L573.6 649.4L578.5 648.7L583.5 648L588.5 647.3L593.5 646.6L598.5 645.9L603.5 645.2L608.5 644.5L613.5 643.8L618.4 643.1L623.4 642.4L628.4 641.7L633.4 641.1L638.4 640.4L643.4 639.7L648.3 639.1L653.3 638.4L658.3 637.8L663.3 637.1L668.3 636.5L673.3 635.9L678.2 635.3L683.2 634.7L688.2 634.2L693.2 633.6L698.1 633.1L703.1 632.5L708.1 632L713 631.6L718 631.1L723 630.7L727.9 630.3L732.9 629.9L737.9 629.5L742.8 629.2L747.8 628.9L752.8 628.6L757.7 628.4L762.7 628.1L767.6 628L772.6 627.8L777.6 627.7L782.5 627.7L787.5 627.6L792.4 627.6L797.4 627.7L802.3 627.8L807.3 627.9L812.2 628.1L817.1 628.4L822.1 628.7L827 629L832 629.4L836.9 629.8L841.9 630.3L846.8 630.8L851.7 631.4L856.7 632L861.6 632.7L866.6 633.5L871.5 634.3L876.5 635.1L881.4 636L886.3 636.9L891.3 637.9L896.2 638.9L901.2 640L906.1 641.1L911.1 642.2L916 643.4L921 644.7L925.9 646L930.9 647.3L935.8 648.7L940.8 650.1L945.7 651.6L950.7 653.1L955.6 654.7L960.6 656.2L965.5 657.9L970.5 659.5L975.5 661.2L980.4 663L985.4 664.8L990.3 666.6L995.3 668.5L1000.2 670.4L1005.2 672.3L1010.2 674.3L1015.1 676.3L1020.1 678.3L1025 680.4L1030 682.5L1035 684.7L1039.9 686.9L1044.9 689.1L1049.8 691.3L1054.8 693.6L1059.8 695.9L1064.7 698.3L1069.7 700.7L1074.7 703.1L1079.6 705.5L1084.6 708L1089.6 710.5L1094.5 713L1099.5 715.5L1104.5 718.1L1109.4 720.7L1114.4 723.4L1119.4 726L1124.3 728.7L1129.3 731.4L1134.3 734.2L1139.2 736.9L1144.2 739.7L1149.2 742.5L1154.1 745.4L1159.1 748.2L1164.1 751.1L1169.1 754L1174 756.9L1179 759.9L1184 762.8L1189 765.8L1193.9 768.8L1198.9 771.8L1203.9 774.8L1208.9 777.8L1213.9 780.9L1218.8 783.9L1223.8 787L1228.8 790L1233.8 793.1L1238.8 796.2L1243.7 799.2L1248.7 802.3L1253.7 805.4L1258.7 808.5L1263.7 811.6L1268.7 814.6L1273.7 817.7L1278.6 820.8L1283.6 823.9L1288.6 826.9L1293.6 830L1298.6 833L1303.5 836.1L1308.5 839.2L1313.4 842.3L1318.4 845.4L1323.4 848.5L1328.3 851.5L1333.3 854.5L1338.2 857.6L1343.2 860.5L1348.1 863.5L1353.1 866.5L1358.1 869.4L1363 872.3L1368 875.2L1373 878.1L1377.9 880.9L1382.9 883.8L1387.9 886.5L1392.9 889.3L1397.8 892L1402.8 894.7L1407.8 897.4L1412.8 900L1417.8 902.6L1422.8 905.2L1427.8 907.7L1432.7 910.2L1437.7 912.7L1442.7 915.1L1447.7 917.5L1452.7 919.8L1457.8 922.1L1462.8 924.3L1467.8 926.5L1472.8 928.7L1477.8 930.8L1482.9 932.8L1487.9 934.8L1492.9 936.8L1497.9 938.7L1502.9 940.6L1508 942.4L1513 944.2L1518 946L1523 947.7L1528.1 949.3L1533.1 951L1538.1 952.6L1543.2 954.1L1548.2 955.6L1553.2 957.1L1558.3 958.5L1563.3 959.9L1568.3 961.3L1573.3 962.6L1578.4 963.9L1583.4 965.1L1588.4 966.3L1593.5 967.5L1598.5 968.7L1603.6 969.7L1608.6 970.7L1613.7 971.7L1618.7 972.7L1623.7 973.6L1628.8 974.5L1633.8 975.4L1638.9 976.2L1643.9 977L1649 977.8L1654 978.5L1659 979.2L1664.1 979.9L1669.1 980.5L1674.1 981.2L1679.2 981.8L1684.2 982.3L1689.3 982.9L1694.3 983.4L1699.3 983.9L1704.4 984.4L1709.4 984.8L1714.4 985.2L1719.5 985.6L1724.5 986L1729.5 986.3L1734.6 986.6L1739.6 987L1744.6 987.2L1749.6 987.5L1754.7 987.7L1759.7 988L1764.7 988.2L1769.7 988.3L1774.8 988.5L1779.8 988.6L1784.8 988.8L1789.8 988.9L1794.8 989A10 10 0 0 0 1795.2 969L1790.2 968.9L1785.2 968.8L1780.3 968.7L1775.3 968.6L1770.4 968.5L1765.4 968.3L1760.5 968.2L1755.5 968L1750.6 967.7L1745.6 967.5L1740.7 967.3L1735.7 967L1730.8 966.7L1725.8 966.4L1720.9 966L1716 965.7L1711 965.3L1706.1 964.9L1701.1 964.5L1696.2 964L1691.2 963.5L1686.3 963L1681.4 962.5L1676.4 961.9L1671.5 961.3L1666.6 960.7L1661.6 960.1L1656.7 959.4L1651.8 958.7L1646.8 958L1641.9 957.2L1636.9 956.4L1632 955.6L1627.1 954.8L1622.2 953.9L1617.2 953L1612.3 952L1607.4 951.1L1602.4 950.1L1597.5 949.1L1592.5 948L1587.6 947L1582.7 945.9L1577.7 944.8L1572.8 943.6L1567.8 942.4L1562.9 941.2L1557.9 939.9L1553 938.6L1548.1 937.3L1543.1 935.9L1538.2 934.4L1533.2 933L1528.3 931.5L1523.3 929.9L1518.4 928.3L1513.4 926.7L1508.5 925L1503.5 923.3L1498.6 921.6L1493.6 919.8L1488.7 917.9L1483.7 916.1L1478.7 914.1L1473.8 912.2L1468.8 910.1L1463.9 908.1L1458.9 906L1453.9 903.8L1449 901.6L1444 899.4L1439 897.1L1434 894.8L1429 892.5L1424 890.1L1419.1 887.7L1414.1 885.2L1409.1 882.7L1404.1 880.2L1399.1 877.7L1394.1 875.1L1389.1 872.5L1384.1 869.8L1379.1 867.1L1374.1 864.4L1369 861.7L1364 859L1359 856.2L1354 853.4L1349 850.6L1344 847.7L1339 844.9L1333.9 842L1328.9 839.1L1323.9 836.2L1318.9 833.3L1313.9 830.4L1308.8 827.4L1303.8 824.5L1298.8 821.4L1293.8 818.4L1288.8 815.4L1283.9 812.3L1278.9 809.2L1273.9 806.2L1268.9 803.1L1263.9 800L1258.9 797L1253.9 793.9L1248.9 790.8L1243.9 787.7L1238.9 784.7L1233.9 781.6L1229 778.6L1224 775.5L1219 772.5L1214 769.4L1209 766.4L1204 763.4L1199 760.4L1194 757.4L1189 754.4L1184 751.5L1179 748.5L1174 745.6L1169 742.7L1164 739.8L1159 737L1153.9 734.1L1148.9 731.3L1143.9 728.5L1138.9 725.7L1133.9 723L1128.9 720.3L1123.9 717.6L1118.9 714.9L1113.9 712.2L1108.9 709.6L1103.9 707L1098.9 704.5L1093.9 701.9L1088.8 699.4L1083.8 697L1078.8 694.5L1073.8 692.1L1068.8 689.7L1063.8 687.3L1058.8 685L1053.8 682.7L1048.8 680.5L1043.7 678.2L1038.7 676L1033.7 673.9L1028.7 671.8L1023.7 669.7L1018.7 667.6L1013.6 665.6L1008.6 663.6L1003.6 661.6L998.6 659.7L993.6 657.9L988.6 656L983.5 654.2L978.5 652.5L973.5 650.7L968.5 649.1L963.5 647.4L958.4 645.8L953.4 644.3L948.4 642.7L943.4 641.3L938.3 639.8L933.3 638.4L928.3 637.1L923.3 635.8L918.2 634.5L913.2 633.3L908.2 632.2L903.1 631L898.1 630L893.1 628.9L888.1 627.9L883 627L878 626.1L873 625.3L867.9 624.5L862.9 623.8L857.9 623.1L852.8 622.4L847.8 621.8L842.8 621.3L837.7 620.8L832.7 620.4L827.7 620L822.6 619.7L817.6 619.4L812.6 619.2L807.5 619L802.5 618.9L797.5 618.8L792.5 618.7L787.4 618.7L782.4 618.8L777.4 618.8L772.4 619L767.3 619.1L762.3 619.3L757.3 619.5L752.3 619.8L747.3 620.1L742.3 620.4L737.3 620.7L732.2 621.1L727.2 621.5L722.2 621.9L717.2 622.4L712.2 622.9L707.2 623.3L702.2 623.9L697.2 624.4L692.2 625L687.2 625.5L682.2 626.1L677.2 626.7L672.2 627.3L667.2 627.9L662.2 628.6L657.2 629.2L652.2 629.9L647.2 630.5L642.2 631.2L637.2 631.9L632.2 632.5L627.3 633.2L622.3 633.9L617.3 634.6L612.3 635.3L607.3 636L602.3 636.7L597.3 637.4L592.3 638.2L587.3 638.9L582.4 639.6L577.4 640.3L572.4 641L567.4 641.7L562.4 642.4L557.4 643.1L552.4 643.8L547.5 644.5L542.5 645.1L537.5 645.8L532.5 646.5L527.5 647.1L522.6 647.8L517.6 648.4L512.6 649L507.6 649.7L502.6 650.3L497.7 650.8L492.7 651.4L487.7 652L482.7 652.5L477.8 653.1L472.8 653.6L467.8 654.1L462.8 654.6L457.9 655.1L452.9 655.5L447.9 655.9L443 656.3L438 656.7L433 657.1L428 657.4L423.1 657.8L418.1 658.1L413.1 658.3L408.2 658.6L403.2 658.8L398.2 659L393.3 659.2L388.3 659.3L383.4 659.4L378.4 659.5L373.4 659.6L368.5 659.6L363.5 659.6L358.5 659.6L353.6 659.5A4 4 0 0 0 353.4 667.5ZM353.7 713.5L358.7 713.3L363.7 713.2L368.7 713L373.7 712.8L378.7 712.6L383.7 712.3L388.7 712L393.7 711.8L398.7 711.5L403.7 711.1L408.8 710.8L413.8 710.5L418.8 710.1L423.8 709.7L428.8 709.3L433.8 708.9L438.8 708.4L443.8 708L448.8 707.5L453.8 707L458.8 706.5L463.8 706L468.8 705.5L473.8 704.9L478.8 704.3L483.8 703.8L488.9 703.2L493.9 702.5L498.9 701.9L503.9 701.2L508.9 700.6L513.9 699.9L518.9 699.2L523.9 698.5L528.9 697.8L533.9 697L538.9 696.3L543.9 695.5L548.9 694.7L553.9 693.9L558.9 693.1L563.9 692.2L568.9 691.4L573.9 690.5L578.9 689.7L583.9 688.8L588.9 687.9L593.9 686.9L598.9 686L603.9 685.1L608.9 684.1L613.9 683.1L618.9 682.1L623.9 681.1L628.9 680.1L633.9 679.1L638.9 678L643.9 677L648.9 675.9L653.9 674.8L658.9 673.8L663.9 672.6L668.9 671.5L673.9 670.4L678.9 669.2L683.9 668.1L688.9 666.9L693.9 665.7L698.9 664.5L703.9 663.2L709 661.9L714 660.6L719 659.2L724 657.8L729.1 656.4L734.1 654.9L739.1 653.3L744.1 651.8L749.1 650.3L754 648.8L758.9 647.3L763.9 645.9L768.8 644.6L773.6 643.4L778.5 642.3L783.4 641.3L788.2 640.5L793.1 639.8L798 639.2L802.9 638.7L807.7 638.3L812.6 638L817.5 637.8L822.4 637.8L827.2 637.8L832.1 638L837 638.3L841.9 638.7L846.8 639.2L851.6 639.8L856.5 640.5L861.4 641.3L866.3 642.2L871.2 643.2L876.1 644.2L881 645.4L885.9 646.6L890.7 648L895.6 649.4L900.5 650.9L905.4 652.5L910.3 654.1L915.2 655.9L920.1 657.7L925 659.6L929.9 661.5L934.8 663.5L939.7 665.6L944.6 667.8L949.6 670L954.5 672.3L959.4 674.7L964.3 677.1L969.2 679.6L974.1 682.1L979 684.7L984 687.4L988.9 690.1L993.8 692.8L998.7 695.6L1003.7 698.4L1008.6 701.3L1013.6 704.2L1018.5 707.1L1023.5 710.1L1028.4 713.2L1033.4 716.2L1038.3 719.4L1043.3 722.5L1048.2 725.7L1053.2 728.9L1058.2 732.1L1063.1 735.4L1068.1 738.7L1073.1 742L1078 745.4L1083 748.7L1088 752.1L1092.9 755.5L1097.9 758.9L1102.9 762.4L1107.8 765.8L1112.8 769.3L1117.8 772.8L1122.8 776.3L1127.7 779.8L1132.7 783.3L1137.7 786.8L1142.7 790.4L1147.7 793.9L1152.6 797.5L1157.6 801L1162.6 804.6L1167.6 808.1L1172.6 811.7L1177.5 815.3L1182.5 818.8L1187.5 822.4L1192.5 825.9L1197.5 829.5L1202.5 833L1207.5 836.6L1212.4 840.1L1217.4 843.7L1222.4 847.2L1227.4 850.7L1232.4 854.2L1237.4 857.7L1242.4 861.2L1247.4 864.6L1252.4 868.1L1257.4 871.5L1262.4 874.9L1267.4 878.3L1272.4 881.7L1277.4 885.1L1282.4 888.4L1287.4 891.7L1292.4 895L1297.4 898.3L1302.4 901.5L1307.4 904.8L1312.4 907.9L1317.4 911.1L1322.4 914.2L1327.5 917.3L1332.5 920.4L1337.5 923.4L1342.5 926.4L1347.5 929.4L1352.6 932.3L1357.6 935.2L1362.6 938L1367.6 940.8L1372.7 943.6L1377.7 946.3L1382.7 949L1387.7 951.7L1392.8 954.3L1397.8 956.8L1402.8 959.3L1407.9 961.8L1412.9 964.2L1417.9 966.6L1423 968.9L1428 971.2L1433.1 973.4L1438.1 975.6L1443.1 977.8L1448.2 979.9L1453.2 982L1458.2 984L1463.2 986L1468.3 987.9L1473.3 989.8L1478.3 991.7L1483.4 993.6L1488.4 995.4L1493.4 997.1L1498.4 998.8L1503.5 1000.5L1508.5 1002.2L1513.5 1003.8L1518.6 1005.4L1523.6 1006.9L1528.6 1008.5L1533.6 1009.9L1538.7 1011.4L1543.7 1012.8L1548.7 1014.2L1553.7 1015.6L1558.8 1016.9L1563.8 1018.2L1568.8 1019.5L1573.8 1020.7L1578.9 1021.9L1583.9 1023.1L1588.9 1024.3L1593.9 1025.4L1598.9 1026.5L1604 1027.6L1609 1028.7L1614 1029.7L1619 1030.7L1624 1031.7L1629 1032.7L1634.1 1033.6L1639.1 1034.6L1644.1 1035.5L1649.1 1036.4L1654.1 1037.2L1659.1 1038.1L1664.1 1038.9L1669.2 1039.7L1674.2 1040.5L1679.2 1041.3L1684.2 1042.1L1689.2 1042.8L1694.2 1043.6L1699.2 1044.3L1704.2 1045L1709.2 1045.7L1714.2 1046.4L1719.2 1047L1724.2 1047.7L1729.2 1048.3L1734.2 1049L1739.2 1049.6L1744.2 1050.2L1749.2 1050.8L1754.2 1051.4L1759.2 1052L1764.2 1052.6L1769.2 1053.2L1774.2 1053.7L1779.2 1054.3L1784.2 1054.9L1789.2 1055.4L1794.2 1056A7.5 7.5 0 0 0 1795.8 1041.1L1790.8 1040.5L1785.8 1040L1780.9 1039.5L1775.9 1038.9L1770.9 1038.3L1765.9 1037.8L1760.9 1037.2L1756 1036.6L1751 1036.1L1746 1035.5L1741 1034.9L1736.1 1034.3L1731.1 1033.6L1726.1 1033L1721.1 1032.4L1716.2 1031.7L1711.2 1031.1L1706.2 1030.4L1701.3 1029.7L1696.3 1029L1691.3 1028.3L1686.4 1027.6L1681.4 1026.8L1676.4 1026L1671.5 1025.3L1666.5 1024.5L1661.5 1023.7L1656.6 1022.8L1651.6 1022L1646.6 1021.1L1641.7 1020.3L1636.7 1019.3L1631.8 1018.4L1626.8 1017.5L1621.8 1016.5L1616.9 1015.5L1611.9 1014.5L1607 1013.5L1602 1012.4L1597 1011.3L1592.1 1010.2L1587.1 1009.1L1582.2 1007.9L1577.2 1006.8L1572.3 1005.5L1567.3 1004.3L1562.4 1003L1557.4 1001.7L1552.5 1000.4L1547.5 999.1L1542.6 997.7L1537.6 996.3L1532.7 994.8L1527.7 993.3L1522.8 991.8L1517.8 990.3L1512.9 988.7L1507.9 987.1L1503 985.4L1498 983.8L1493.1 982L1488.1 980.3L1483.2 978.5L1478.2 976.7L1473.3 974.8L1468.4 972.9L1463.4 971L1458.5 969L1453.5 966.9L1448.6 964.9L1443.6 962.8L1438.7 960.6L1433.7 958.4L1428.8 956.2L1423.9 953.9L1418.9 951.6L1414 949.2L1409 946.8L1404.1 944.3L1399.2 941.8L1394.2 939.3L1389.3 936.7L1384.3 934L1379.4 931.3L1374.4 928.6L1369.5 925.8L1364.5 923L1359.6 920.2L1354.6 917.3L1349.7 914.4L1344.7 911.4L1339.7 908.4L1334.8 905.4L1329.8 902.3L1324.9 899.2L1319.9 896.1L1314.9 892.9L1310 889.8L1305 886.6L1300 883.3L1295.1 880.1L1290.1 876.8L1285.1 873.5L1280.1 870.2L1275.2 866.8L1270.2 863.5L1265.2 860.1L1260.2 856.7L1255.3 853.3L1250.3 849.8L1245.3 846.4L1240.3 842.9L1235.3 839.4L1230.3 835.9L1225.4 832.4L1220.4 828.9L1215.4 825.4L1210.4 821.9L1205.4 818.4L1200.4 814.8L1195.4 811.3L1190.4 807.7L1185.4 804.2L1180.4 800.6L1175.5 797.1L1170.5 793.5L1165.5 790L1160.5 786.4L1155.5 782.9L1150.5 779.4L1145.5 775.8L1140.5 772.3L1135.5 768.8L1130.5 765.3L1125.5 761.8L1120.5 758.3L1115.5 754.9L1110.5 751.4L1105.5 748L1100.5 744.5L1095.5 741.1L1090.4 737.7L1085.4 734.4L1080.4 731L1075.4 727.7L1070.4 724.4L1065.4 721.1L1060.4 717.8L1055.4 714.6L1050.3 711.4L1045.3 708.2L1040.3 705.1L1035.3 702L1030.3 698.9L1025.2 695.9L1020.2 692.9L1015.2 690L1010.1 687.1L1005.1 684.3L1000.1 681.5L995 678.8L990 676.1L984.9 673.5L979.9 670.9L974.8 668.4L969.7 665.9L964.7 663.6L959.6 661.2L954.5 659L949.5 656.8L944.4 654.6L939.3 652.6L934.3 650.6L929.2 648.6L924.1 646.8L919 645L914 643.3L908.9 641.7L903.8 640.1L898.7 638.7L893.6 637.3L888.6 636L883.5 634.8L878.4 633.7L873.3 632.7L868.2 631.7L863.1 630.9L858 630.2L852.9 629.5L847.8 629L842.7 628.6L837.6 628.2L832.6 628L827.5 627.8L822.4 627.7L817.3 627.8L812.2 627.9L807.1 628.2L802 628.6L796.9 629.1L791.8 629.7L786.6 630.4L781.5 631.3L776.4 632.3L771.3 633.4L766.2 634.6L761.2 636L756.1 637.4L751.1 638.9L746 640.4L741 641.9L736 643.4L731.1 644.9L726.1 646.4L721.2 647.8L716.2 649.1L711.3 650.4L706.3 651.7L701.4 653L696.4 654.2L691.4 655.4L686.5 656.6L681.5 657.7L676.5 658.9L671.6 660L666.6 661.1L661.6 662.2L656.6 663.3L651.6 664.3L646.7 665.4L641.7 666.4L636.7 667.5L631.7 668.5L626.8 669.5L621.8 670.5L616.8 671.4L611.8 672.4L606.9 673.4L601.9 674.3L596.9 675.2L591.9 676.1L587 677L582 677.9L577 678.8L572 679.6L567.1 680.4L562.1 681.3L557.1 682.1L552.1 682.9L547.2 683.6L542.2 684.4L537.2 685.2L532.2 685.9L527.3 686.6L522.3 687.3L517.3 688L512.4 688.7L507.4 689.3L502.4 690L497.4 690.6L492.5 691.2L487.5 691.8L482.5 692.4L477.5 692.9L472.6 693.5L467.6 694L462.6 694.5L457.7 695L452.7 695.5L447.7 696L442.8 696.4L437.8 696.8L432.8 697.3L427.9 697.7L422.9 698L417.9 698.4L412.9 698.7L408 699.1L403 699.4L398 699.7L393.1 699.9L388.1 700.2L383.1 700.4L378.2 700.7L373.2 700.9L368.2 701.1L363.3 701.2L358.3 701.4L353.3 701.5A6 6 0 0 0 353.7 713.5Z"/>
<path fill="#c0c0c0" d="M353.6 903.5L358.4 903.4L363.2 903.5L367.9 903.7L372.7 904L377.5 904.4L382.2 905L387 905.6L391.8 906.4L396.6 907.2L401.4 908.2L406.2 909.3L411 910.5L415.9 911.8L420.7 913.1L425.6 914.6L430.4 916.1L435.3 917.8L440.1 919.5L445 921.3L449.9 923.2L454.8 925.2L459.7 927.2L464.6 929.3L469.5 931.5L474.4 933.7L479.3 936.1L484.2 938.4L489.2 940.8L494.1 943.3L499 945.9L504 948.4L508.9 951.1L513.9 953.7L518.8 956.4L523.8 959.2L528.7 962L533.7 964.8L538.7 967.6L543.7 970.5L548.6 973.4L553.6 976.3L558.6 979.2L563.6 982.1L568.6 985.1L573.6 988L578.6 991L583.6 994L588.6 996.9L593.6 999.9L598.6 1002.8L603.6 1005.8L608.6 1008.7L613.6 1011.6L618.6 1014.5L623.7 1017.4L628.7 1020.3L633.7 1023.2L638.7 1026L643.8 1028.8L648.8 1031.5L653.8 1034.3L658.9 1037L663.9 1039.6L669 1042.3L674 1044.8L679.1 1047.4L684.1 1049.9L689.2 1052.3L694.2 1054.7L699.3 1057L704.3 1059.3L709.4 1061.6L714.5 1063.7L719.6 1065.8L724.6 1067.9L729.7 1069.8L734.8 1071.7L739.9 1073.6L745 1075.3L750.1 1077L755.2 1078.6L760.3 1080.1L765.4 1081.5L770.6 1082.9L775.7 1084.1L780.8 1085.3L785.9 1086.3L791.1 1087.3L796.2 1088.2L801.3 1088.9L806.5 1089.6L811.6 1090.1L816.8 1090.6L821.9 1090.9L827.1 1091.1L832.3 1091.2L837.4 1091.2L842.6 1091L847.7 1090.7L852.9 1090.3L858 1089.8L863.2 1089.2L868.3 1088.5L873.4 1087.7L878.5 1086.8L883.6 1085.8L888.7 1084.7L893.8 1083.5L898.9 1082.3L904 1080.9L909.1 1079.5L914.2 1078L919.2 1076.4L924.3 1074.7L929.3 1073L934.4 1071.2L939.4 1069.4L944.5 1067.4L949.5 1065.5L954.6 1063.5L959.6 1061.4L964.6 1059.3L969.7 1057.1L974.7 1054.9L979.7 1052.6L984.7 1050.3L989.7 1048L994.7 1045.6L999.7 1043.3L1004.7 1040.9L1009.8 1038.5L1014.8 1036L1019.8 1033.6L1024.8 1031.1L1029.8 1028.6L1034.8 1026.1L1039.8 1023.6L1044.8 1021L1049.8 1018.4L1054.9 1015.8L1059.9 1013.2L1064.9 1010.6L1069.9 1008L1074.9 1005.3L1079.9 1002.7L1084.9 1000L1089.9 997.3L1094.9 994.6L1099.9 991.9L1104.9 989.2L1109.9 986.5L1114.9 983.8L1119.9 981.1L1124.9 978.4L1129.9 975.7L1134.9 973L1139.8 970.2L1144.8 967.5L1149.8 964.8L1154.8 962.1L1159.8 959.4L1164.8 956.7L1169.8 954L1174.8 951.3L1179.8 948.6L1184.7 946L1189.7 943.3L1194.7 940.7L1199.7 938L1204.7 935.4L1209.6 932.8L1214.6 930.2L1219.6 927.6L1224.6 925L1229.6 922.5L1234.5 919.9L1239.5 917.4L1244.5 914.9L1249.5 912.3L1254.5 909.8L1259.5 907.4L1264.5 904.9L1269.5 902.4L1274.5 900L1279.5 897.5L1284.5 895.1L1289.5 892.6L1294.5 890.2L1299.5 887.8L1304.5 885.3L1309.5 882.9L1314.5 880.5L1319.5 878.1L1324.5 875.7L1329.5 873.2L1334.5 870.8L1339.5 868.4L1344.5 866L1349.5 863.6L1354.5 861.2L1359.5 858.7L1364.5 856.3L1369.5 853.9L1374.5 851.5L1379.5 849L1384.5 846.6L1389.6 844.2L1394.6 841.7L1399.6 839.3L1404.6 836.8L1409.6 834.4L1414.6 831.9L1419.6 829.4L1424.6 827L1429.6 824.5L1434.6 822L1439.6 819.6L1444.6 817.1L1449.6 814.6L1454.6 812.2L1459.6 809.7L1464.6 807.2L1469.6 804.8L1474.5 802.3L1479.5 799.9L1484.5 797.5L1489.4 795.1L1494.4 792.7L1499.4 790.3L1504.3 788L1509.3 785.6L1514.3 783.3L1519.2 781.1L1524.2 778.8L1529.1 776.6L1534.1 774.4L1539 772.2L1544 770L1548.9 767.9L1553.9 765.8L1558.8 763.8L1563.8 761.8L1568.7 759.8L1573.6 757.8L1578.6 755.9L1583.5 754L1588.4 752.2L1593.4 750.4L1598.3 748.6L1603.2 746.9L1608.2 745.2L1613.1 743.6L1618 742L1623 740.4L1627.9 738.9L1632.8 737.4L1637.7 736L1642.6 734.6L1647.6 733.3L1652.5 732L1657.4 730.7L1662.3 729.5L1667.2 728.4L1672.1 727.3L1677 726.2L1681.9 725.2L1686.9 724.2L1691.8 723.3L1696.7 722.5L1701.6 721.7L1706.5 720.9L1711.4 720.2L1716.3 719.6L1721.1 719L1726 718.5L1730.9 718L1735.8 717.6L1740.7 717.2L1745.6 716.9L1750.5 716.7L1755.4 716.5L1760.3 716.4L1765.1 716.3L1770 716.3L1774.9 716.4L1779.8 716.5L1784.6 716.7L1789.5 716.9L1794.5 717.2A8.5 8.5 0 0 0 1795.5 700.3L1790.5 699.9L1785.4 699.7L1780.3 699.5L1775.2 699.4L1770.1 699.3L1765 699.3L1759.9 699.4L1754.8 699.5L1749.7 699.7L1744.6 699.9L1739.6 700.3L1734.5 700.6L1729.4 701.1L1724.3 701.6L1719.2 702.1L1714.1 702.7L1709.1 703.4L1704 704.1L1698.9 704.9L1693.8 705.7L1688.8 706.6L1683.7 707.5L1678.6 708.5L1673.5 709.6L1668.5 710.7L1663.4 711.8L1658.3 713L1653.3 714.2L1648.2 715.5L1643.2 716.9L1638.1 718.2L1633 719.7L1628 721.1L1622.9 722.6L1617.9 724.2L1612.8 725.8L1607.8 727.4L1602.7 729.1L1597.7 730.9L1592.7 732.6L1587.6 734.4L1582.6 736.3L1577.5 738.1L1572.5 740L1567.5 742L1562.4 744L1557.4 746L1552.3 748.1L1547.3 750.1L1542.3 752.3L1537.3 754.4L1532.2 756.6L1527.2 758.8L1522.2 761.1L1517.2 763.3L1512.1 765.6L1507.1 767.9L1502.1 770.2L1497.1 772.6L1492.1 775L1487.1 777.4L1482.1 779.8L1477.1 782.2L1472 784.6L1467 787.1L1462 789.5L1457 792L1452 794.5L1447 797L1442.1 799.5L1437.1 802L1432.1 804.5L1427.1 807.1L1422.2 809.6L1417.2 812.2L1412.2 814.7L1407.3 817.2L1402.3 819.7L1397.3 822.3L1392.4 824.8L1387.4 827.3L1382.4 829.8L1377.5 832.3L1372.5 834.8L1367.5 837.3L1362.6 839.8L1357.6 842.3L1352.6 844.8L1347.7 847.2L1342.7 849.7L1337.7 852.2L1332.7 854.7L1327.8 857.2L1322.8 859.7L1317.8 862.1L1312.9 864.6L1307.9 867.1L1302.9 869.6L1297.9 872.1L1293 874.6L1288 877.1L1283 879.6L1278 882.1L1273.1 884.6L1268.1 887.2L1263.1 889.7L1258.1 892.2L1253.1 894.8L1248.2 897.3L1243.2 899.9L1238.2 902.4L1233.2 905L1228.2 907.5L1223.2 910.1L1218.2 912.7L1213.2 915.3L1208.2 917.9L1203.2 920.6L1198.2 923.2L1193.2 925.8L1188.2 928.5L1183.2 931.2L1178.2 933.9L1173.3 936.6L1168.3 939.3L1163.3 942L1158.3 944.7L1153.3 947.4L1148.3 950.2L1143.3 952.9L1138.3 955.6L1133.3 958.4L1128.4 961.1L1123.4 963.8L1118.4 966.6L1113.4 969.3L1108.4 972L1103.5 974.7L1098.5 977.5L1093.5 980.2L1088.5 982.9L1083.6 985.6L1078.6 988.3L1073.6 990.9L1068.6 993.6L1063.7 996.3L1058.7 998.9L1053.7 1001.5L1048.8 1004.1L1043.8 1006.7L1038.8 1009.3L1033.9 1011.8L1028.9 1014.4L1023.9 1016.9L1019 1019.4L1014 1021.9L1009 1024.3L1004.1 1026.7L999.1 1029.1L994.1 1031.5L989.2 1033.8L984.2 1036.1L979.2 1038.3L974.3 1040.5L969.3 1042.7L964.4 1044.8L959.4 1046.9L954.5 1048.9L949.5 1050.9L944.6 1052.8L939.6 1054.6L934.7 1056.4L929.8 1058.2L924.9 1059.9L920 1061.5L915 1063L910.1 1064.5L905.2 1065.9L900.3 1067.2L895.4 1068.5L890.6 1069.6L885.7 1070.7L880.8 1071.7L875.9 1072.6L871.1 1073.4L866.2 1074.1L861.4 1074.7L856.5 1075.2L851.7 1075.6L846.9 1075.9L842 1076.1L837.2 1076.2L832.4 1076.2L827.6 1076.1L822.8 1075.8L818 1075.5L813.1 1075L808.3 1074.5L803.5 1073.8L798.6 1073.1L793.8 1072.2L789 1071.3L784.1 1070.2L779.3 1069.1L774.4 1067.8L769.6 1066.5L764.7 1065.1L759.8 1063.6L755 1062.1L750.1 1060.4L745.2 1058.7L740.3 1056.9L735.4 1055.1L730.5 1053.1L725.6 1051.1L720.7 1049L715.8 1046.9L710.9 1044.7L706 1042.4L701.1 1040.1L696.2 1037.7L691.3 1035.3L686.4 1032.8L681.4 1030.3L676.5 1027.8L671.6 1025.1L666.6 1022.5L661.7 1019.8L656.8 1017.1L651.8 1014.3L646.9 1011.5L641.9 1008.7L637 1005.8L632 1003L627.1 1000.1L622.1 997.1L617.1 994.2L612.2 991.3L607.2 988.3L602.2 985.3L597.3 982.3L592.3 979.3L587.3 976.3L582.3 973.3L577.4 970.3L572.4 967.3L567.4 964.3L562.4 961.4L557.4 958.4L552.4 955.5L547.4 952.5L542.4 949.6L537.4 946.7L532.4 943.9L527.4 941.1L522.3 938.3L517.3 935.5L512.3 932.8L507.2 930.1L502.2 927.5L497.2 924.9L492.1 922.4L487.1 919.9L482 917.5L476.9 915.1L471.9 912.8L466.8 910.6L461.7 908.4L456.6 906.3L451.5 904.3L446.4 902.4L441.3 900.5L436.2 898.7L431.1 897.1L426 895.5L420.8 894L415.7 892.6L410.5 891.3L405.4 890.1L400.2 889L395 888L389.8 887.1L384.6 886.4L379.4 885.7L374.2 885.2L369 884.8L363.8 884.6L358.5 884.5L353.4 884.5A9.5 9.5 0 0 0 353.6 903.5ZM352.8 1209.9L357.8 1210.5L362.9 1211L368 1211.4L373.1 1211.7L378.1 1212L383.2 1212.2L388.3 1212.4L393.3 1212.5L398.4 1212.5L403.5 1212.5L408.6 1212.4L413.6 1212.3L418.7 1212.1L423.7 1211.9L428.8 1211.6L433.9 1211.3L438.9 1210.9L444 1210.5L449 1210L454.1 1209.5L459.1 1209L464.2 1208.4L469.2 1207.8L474.3 1207.1L479.3 1206.4L484.4 1205.7L489.4 1204.9L494.4 1204.2L499.5 1203.3L504.5 1202.5L509.5 1201.6L514.6 1200.7L519.6 1199.8L524.6 1198.9L529.6 1197.9L534.7 1196.9L539.7 1196L544.7 1194.9L549.7 1193.9L554.7 1192.9L559.7 1191.8L564.7 1190.8L569.8 1189.7L574.8 1188.6L579.8 1187.5L584.8 1186.4L589.8 1185.4L594.8 1184.3L599.7 1183.2L604.7 1182.1L609.7 1181L614.7 1179.9L619.7 1178.8L624.7 1177.8L629.7 1176.7L634.6 1175.6L639.6 1174.6L644.6 1173.6L649.6 1172.6L654.5 1171.5L659.5 1170.6L664.5 1169.6L669.4 1168.6L674.4 1167.7L679.3 1166.8L684.3 1165.9L689.2 1165.1L694.2 1164.3L699.1 1163.4L704.1 1162.7L709 1162.1L714 1161.5L718.9 1160.9L723.9 1160.4L728.8 1159.9L733.7 1159.4L738.7 1159L743.6 1158.6L748.5 1158.2L753.4 1157.9L758.3 1157.7L763.2 1157.4L768.1 1157.3L773 1157.1L777.9 1157L782.9 1157L787.8 1156.9L792.7 1156.9L797.6 1157L802.6 1157L807.5 1157.1L812.5 1157.2L817.4 1157.3L822.4 1157.4L827.3 1157.5L832.3 1157.6L837.3 1157.6L842.3 1157.5L847.3 1157.4L852.3 1157.3L857.3 1157.2L862.3 1157.1L867.3 1157L872.3 1156.9L877.3 1156.8L882.4 1156.6L887.4 1156.4L892.4 1156.2L897.5 1156L902.5 1155.7L907.6 1155.5L912.6 1155.1L917.7 1154.8L922.8 1154.4L927.8 1153.9L932.9 1153.5L938 1152.9L943.1 1152.4L948.1 1151.7L953.2 1151L958.3 1150.3L963.4 1149.5L968.5 1148.7L973.6 1147.8L978.7 1146.8L983.8 1145.8L988.9 1144.6L993.9 1143.5L999 1142.2L1004.1 1141L1009.2 1139.6L1014.2 1138.2L1019.3 1136.7L1024.3 1135.2L1029.4 1133.6L1034.4 1131.9L1039.5 1130.2L1044.5 1128.5L1049.6 1126.7L1054.6 1124.8L1059.6 1122.9L1064.7 1120.9L1069.7 1118.9L1074.7 1116.8L1079.7 1114.6L1084.8 1112.5L1089.8 1110.2L1094.8 1107.9L1099.8 1105.6L1104.8 1103.3L1109.9 1100.9L1114.9 1098.5L1119.9 1096.1L1125 1093.6L1130 1091L1135.1 1088.4L1140.1 1085.8L1145.1 1083.1L1150.2 1080.4L1155.2 1077.7L1160.2 1074.9L1165.2 1072L1170.3 1069.2L1175.3 1066.3L1180.3 1063.3L1185.3 1060.4L1190.3 1057.4L1195.4 1054.3L1200.4 1051.3L1205.4 1048.2L1210.4 1045L1215.4 1041.9L1220.4 1038.7L1225.4 1035.5L1230.4 1032.3L1235.4 1029.1L1240.5 1025.8L1245.5 1022.6L1250.5 1019.3L1255.5 1016L1260.5 1012.6L1265.5 1009.3L1270.5 1005.9L1275.5 1002.6L1280.5 999.2L1285.5 995.8L1290.4 992.4L1295.4 989.1L1300.4 985.7L1305.4 982.3L1310.4 978.9L1315.4 975.4L1320.4 972L1325.4 968.6L1330.4 965.2L1335.4 961.8L1340.4 958.4L1345.4 954.9L1350.4 951.5L1355.4 948.1L1360.4 944.7L1365.3 941.2L1370.3 937.8L1375.3 934.4L1380.3 930.9L1385.3 927.5L1390.3 924L1395.3 920.6L1400.3 917.2L1405.3 913.7L1410.3 910.3L1415.3 906.8L1420.3 903.4L1425.2 899.9L1430.2 896.5L1435.2 893L1440.2 889.6L1445.2 886.1L1450.2 882.7L1455.2 879.2L1460.2 875.8L1465.2 872.4L1470.2 868.9L1475.1 865.5L1480.1 862L1485.1 858.6L1490.1 855.1L1495.1 851.7L1500.1 848.3L1505.1 844.8L1510.1 841.4L1515 838L1520 834.6L1525 831.2L1530 827.9L1534.9 824.5L1539.9 821.2L1544.9 817.9L1549.8 814.7L1554.8 811.5L1559.8 808.3L1564.7 805.2L1569.7 802.1L1574.6 799L1579.5 796L1584.5 793.1L1589.4 790.2L1594.3 787.4L1599.3 784.6L1604.2 781.9L1609.1 779.3L1614.1 776.7L1619 774.1L1623.9 771.7L1628.8 769.3L1633.8 766.9L1638.7 764.6L1643.6 762.4L1648.5 760.2L1653.4 758L1658.4 756L1663.3 753.9L1668.2 752L1673.1 750.1L1678.1 748.2L1683 746.4L1687.9 744.6L1692.8 742.9L1697.7 741.2L1702.7 739.6L1707.6 738L1712.5 736.5L1717.4 735L1722.4 733.6L1727.3 732.2L1732.2 730.9L1737.1 729.6L1742.1 728.4L1747 727.2L1751.9 726L1756.8 724.9L1761.8 723.8L1766.7 722.8L1771.6 721.8L1776.5 720.8L1781.5 719.9L1786.4 719L1791.3 718.2L1796.3 717.4A8 8 0 0 0 1793.7 701.6L1788.7 702.4L1783.7 703.3L1778.6 704.2L1773.6 705.1L1768.5 706.1L1763.5 707.2L1758.4 708.2L1753.4 709.3L1748.3 710.5L1743.3 711.7L1738.2 712.9L1733.2 714.2L1728.1 715.6L1723.1 716.9L1718 718.4L1712.9 719.9L1707.9 721.4L1702.8 722.9L1697.8 724.6L1692.7 726.2L1687.7 728L1682.6 729.7L1677.6 731.6L1672.5 733.4L1667.5 735.4L1662.4 737.3L1657.4 739.4L1652.3 741.5L1647.3 743.6L1642.2 745.8L1637.2 748.1L1632.1 750.4L1627 752.7L1622 755.2L1616.9 757.7L1611.9 760.2L1606.8 762.8L1601.8 765.5L1596.7 768.2L1591.7 771L1586.6 773.8L1581.6 776.7L1576.6 779.7L1571.5 782.7L1566.5 785.8L1561.5 788.9L1556.4 792L1551.4 795.2L1546.4 798.5L1541.4 801.7L1536.4 805L1531.3 808.3L1526.3 811.7L1521.3 815.1L1516.3 818.5L1511.3 821.9L1506.3 825.3L1501.3 828.7L1496.3 832.2L1491.4 835.6L1486.4 839L1481.4 842.5L1476.4 845.9L1471.4 849.4L1466.4 852.8L1461.4 856.3L1456.5 859.7L1451.5 863.2L1446.5 866.7L1441.5 870.1L1436.5 873.6L1431.5 877L1426.5 880.5L1421.6 883.9L1416.6 887.4L1411.6 890.8L1406.6 894.3L1401.6 897.7L1396.6 901.2L1391.6 904.7L1386.7 908.1L1381.7 911.6L1376.7 915L1371.7 918.4L1366.7 921.9L1361.7 925.3L1356.8 928.8L1351.8 932.2L1346.8 935.6L1341.8 939.1L1336.8 942.5L1331.8 945.9L1326.9 949.4L1321.9 952.8L1316.9 956.2L1311.9 959.6L1306.9 963L1302 966.5L1297 969.9L1292 973.3L1287 976.6L1282 980L1277 983.4L1272.1 986.8L1267.1 990.1L1262.1 993.5L1257.1 996.8L1252.2 1000.1L1247.2 1003.5L1242.2 1006.7L1237.2 1010L1232.3 1013.3L1227.3 1016.5L1222.3 1019.7L1217.4 1022.9L1212.4 1026.1L1207.4 1029.2L1202.5 1032.3L1197.5 1035.4L1192.5 1038.5L1187.6 1041.5L1182.6 1044.5L1177.7 1047.5L1172.7 1050.4L1167.7 1053.3L1162.8 1056.2L1157.8 1059L1152.9 1061.8L1147.9 1064.5L1143 1067.2L1138 1069.9L1133.1 1072.5L1128.2 1075.1L1123.2 1077.7L1118.3 1080.1L1113.3 1082.6L1108.4 1085L1103.5 1087.3L1098.5 1089.6L1093.6 1091.8L1088.6 1094L1083.7 1096.1L1078.7 1098.1L1073.7 1100.1L1068.8 1102L1063.8 1103.9L1058.9 1105.7L1053.9 1107.4L1049 1109.2L1044.1 1110.8L1039.1 1112.4L1034.2 1114L1029.3 1115.5L1024.3 1116.9L1019.4 1118.3L1014.5 1119.6L1009.6 1120.9L1004.7 1122.1L999.8 1123.2L994.9 1124.3L990 1125.3L985.1 1126.3L980.2 1127.2L975.3 1128L970.4 1128.8L965.5 1129.5L960.6 1130.1L955.7 1130.7L950.9 1131.3L946 1131.7L941.1 1132.1L936.2 1132.5L931.3 1132.8L926.4 1133L921.5 1133.2L916.6 1133.4L911.7 1133.5L906.7 1133.6L901.8 1133.7L896.9 1133.7L892 1133.8L887 1133.7L882.1 1133.7L877.1 1133.6L872.2 1133.6L867.2 1133.5L862.3 1133.4L857.3 1133.3L852.3 1133.1L847.3 1133L842.4 1132.9L837.4 1132.8L832.4 1132.7L827.4 1132.8L822.3 1133L817.3 1133.1L812.3 1133.3L807.3 1133.4L802.2 1133.6L797.2 1133.9L792.2 1134.1L787.1 1134.4L782.1 1134.7L777 1135L771.9 1135.4L766.9 1135.8L761.8 1136.2L756.7 1136.7L751.7 1137.2L746.6 1137.8L741.5 1138.4L736.5 1139.1L731.4 1139.8L726.4 1140.6L721.3 1141.3L716.3 1142.2L711.3 1143L706.2 1143.9L701.2 1144.8L696.2 1145.7L691.2 1146.6L686.1 1147.5L681.1 1148.4L676.1 1149.4L671.1 1150.4L666.1 1151.3L661 1152.4L656 1153.4L651 1154.5L646 1155.5L641 1156.6L636 1157.7L631 1158.8L626 1159.9L621 1161.1L616 1162.2L611 1163.3L606 1164.5L601 1165.6L596.1 1166.8L591.1 1167.9L586.1 1169.1L581.1 1170.2L576.2 1171.3L571.2 1172.5L566.2 1173.6L561.2 1174.7L556.3 1175.8L551.3 1176.9L546.3 1178L541.4 1179.1L536.4 1180.2L531.5 1181.2L526.5 1182.2L521.6 1183.2L516.6 1184.2L511.7 1185.2L506.7 1186.1L501.8 1187L496.8 1187.9L491.9 1188.8L487 1189.6L482 1190.4L477.1 1191.2L472.1 1191.9L467.2 1192.6L462.3 1193.3L457.4 1193.9L452.4 1194.5L447.5 1195L442.6 1195.5L437.7 1196L432.7 1196.4L427.8 1196.8L422.9 1197.1L418 1197.4L413.1 1197.6L408.2 1197.8L403.3 1197.9L398.4 1198L393.5 1198L388.6 1198L383.7 1197.9L378.7 1197.7L373.8 1197.5L368.9 1197.2L364.1 1196.9L359.2 1196.5L354.2 1196A7 7 0 0 0 352.8 1209.9Z"/>
<path fill="none" stroke="#000" stroke-width="3.6" stroke-linejoin="round" d="M353.5 284L358.5 284L363.5 284L368.5 284L373.4 284L378.4 284L383.4 284L388.4 284L393.4 284L398.4 284L403.3 284L408.3 284L413.3 283.9L418.3 283.9L423.3 283.9L428.3 283.9L433.2 283.9L438.2 283.9L443.2 283.9L448.2 283.9L453.2 283.9L458.2 283.9L463.1 283.9L468.1 283.9L473.1 284L478.1 284L483.1 284L488.1 284.1L493 284.1L498 284.2L503 284.3L508 284.4L513 284.5L518 284.6L522.9 284.7L527.9 284.9L532.9 285L537.9 285.2L542.9 285.4L547.9 285.6L552.8 285.8L557.8 286L562.8 286.3L567.8 286.6L572.8 286.9L577.8 287.2L582.7 287.5L587.7 287.8L592.7 288.2L597.7 288.6L602.7 289L607.7 289.4L612.6 289.9L617.6 290.3L622.6 290.8L627.6 291.3L632.6 291.8L637.6 292.4L642.5 292.9L647.5 293.5L652.5 294L657.5 294.6L662.5 295.2L667.5 295.8L672.4 296.3L677.4 296.9L682.4 297.6L687.4 298.2L692.4 298.8L697.4 299.4L702.3 300L707.3 300.6L712.3 301.2L717.3 301.8L722.3 302.4L727.3 303L732.2 303.6L737.2 304.2L742.2 304.8L747.2 305.3L752.2 305.8L757.2 306.3L762.1 306.8L767.1 307.2L772.1 307.6L777.1 308L782.1 308.4L787.1 308.7L792 308.9L797 309.2L802 309.3L807 309.5L812 309.6L817 309.6L821.9 309.6L826.9 309.5L831.9 309.4L836.9 309.2L841.9 308.9L846.9 308.6L851.8 308.2L856.8 307.7L861.8 307.2L866.8 306.7L871.8 306L876.8 305.4L881.7 304.6L886.7 303.8L891.7 302.9L896.7 302L901.7 301L906.7 300L911.6 298.9L916.6 297.7L921.6 296.5L926.6 295.2L931.6 293.9L936.6 292.5L941.5 291.1L946.5 289.6L951.5 288L956.5 286.4L961.5 284.7L966.5 283L971.4 281.2L976.4 279.3L981.4 277.5L986.4 275.5L991.4 273.5L996.4 271.4L1001.3 269.3L1006.3 267.2L1011.3 264.9L1016.3 262.7L1021.3 260.3L1026.3 258L1031.2 255.5L1036.2 253.1L1041.2 250.5L1046.2 247.9L1051.2 245.3L1056.2 242.6L1061.1 239.9L1066.1 237.1L1071.1 234.2L1076.1 231.3L1081.1 228.4L1086.1 225.4L1091 222.4L1096 219.3L1101 216.1L1106 213M353.5 334L358.5 333.7L363.5 333.3L368.5 332.9L373.4 332.6L378.4 332.3L383.4 331.9L388.4 331.6L393.4 331.3L398.4 330.9L403.4 330.6L408.4 330.3L413.3 330L418.3 329.7L423.3 329.4L428.3 329.1L433.3 328.9L438.3 328.6L443.3 328.3L448.2 328L453.2 327.8L458.2 327.5L463.2 327.2L468.2 327L473.2 326.7L478.2 326.5L483.2 326.3L488.1 326L493.1 325.8L498.1 325.5L503.1 325.3L508.1 325.1L513.1 324.9L518.1 324.7L523 324.4L528 324.2L533 324L538 323.8L543 323.6L548 323.4L553 323.2L558 323L562.9 322.8L567.9 322.6L572.9 322.4L577.9 322.2L582.9 322.1L587.9 321.9L592.9 321.7L597.8 321.5L602.8 321.3L607.8 321.2L612.8 321L617.8 320.8L622.8 320.6L627.8 320.4L632.8 320.3L637.7 320.1L642.7 319.9L647.7 319.8L652.7 319.6L657.7 319.4L662.7 319.2L667.7 319.1L672.6 318.9L677.6 318.7L682.6 318.6L687.6 318.4L692.6 318.2L697.6 318L702.6 317.9L707.6 317.7L712.5 317.5L717.5 317.3L722.5 317.2L727.5 317L732.5 316.8L737.5 316.6L742.5 316.4L747.4 316.3L752.4 316.1L757.4 315.9L762.4 315.7L767.4 315.5L772.4 315.3L777.4 315.1L782.3 314.9L787.3 314.7L792.3 314.5L797.3 314.3L802.3 314.1L807.3 313.9L812.3 313.7L817.3 313.5L822.2 313.3L827.2 313L832.2 312.8L837.2 312.6L842.2 312.4L847.2 312.1L852.2 311.9L857.1 311.6L862.1 311.4L867.1 311.1L872.1 310.9L877.1 310.6L882.1 310.4L887.1 310.1L892.1 309.8L897 309.5L902 309.1L907 308.7L912 308.3L917 307.8L922 307.3L927 306.7L931.9 306L936.9 305.3L941.9 304.6L946.9 303.7L951.9 302.8L956.9 301.8L961.9 300.7L966.9 299.5L971.8 298.2L976.8 296.8L981.8 295.3L986.8 293.7L991.8 291.9L996.8 290.1L1001.8 288.2L1006.7 286.1L1011.7 284L1016.7 281.8L1021.7 279.4L1026.7 277L1031.7 274.6L1036.7 272L1041.7 269.3L1046.6 266.6L1051.6 263.9L1056.6 261L1061.6 258.1L1066.6 255.2L1071.6 252.2L1076.6 249.2L1081.5 246.2L1086.5 243.2L1091.5 240.1L1096.5 237L1101.5 234L1106.5 230.9L1111.5 227.9L1116.5 224.8L1121.4 221.8L1126.4 218.8L1131.4 215.9L1136.4 213M353.5 422.7L358.5 422.8L363.5 422.8L368.5 422.8L373.5 422.9L378.5 422.9L383.5 423L388.5 423L393.5 423.1L398.5 423.2L403.5 423.3L408.5 423.4L413.5 423.5L418.5 423.6L423.5 423.7L428.5 423.8L433.5 424L438.5 424.1L443.5 424.3L448.5 424.5L453.5 424.7L458.5 424.9L463.5 425.2L468.5 425.4L473.5 425.7L478.5 426L483.5 426.3L488.5 426.6L493.5 427L498.5 427.3L503.5 427.7L508.5 428.1L513.5 428.6L518.5 429L523.5 429.5L528.5 430L533.5 430.6L538.5 431.1L543.5 431.7L548.5 432.3L553.5 433L558.5 433.7L563.5 434.4L568.5 435.1L573.5 435.9L578.5 436.7L583.5 437.5L588.5 438.4L593.5 439.3L598.5 440.2L603.5 441.2L608.5 442.2L613.5 443.3L618.5 444.4L623.5 445.5L628.5 446.7L633.5 447.9L638.5 449.1L643.5 450.4L648.5 451.7L653.5 453.1L658.5 454.5L663.5 456L668.5 457.5L673.5 459L678.5 460.6L683.5 462.3L688.5 464L693.5 465.7L698.5 467.5L703.5 469.4L708.5 471.3L713.5 473.2L718.5 475.2L723.5 477.2L728.5 479.3L733.5 481.4L738.5 483.6L743.5 485.8L748.5 488.1L753.5 490.4L758.5 492.8L763.5 495.2L768.5 497.6L773.5 500.1L778.5 502.6L783.5 505.2L788.5 507.8L793.5 510.5L798.5 513.2L803.5 515.9L808.5 518.7L813.5 521.5L818.5 524.3L823.5 527.2L828.5 530.1L833.5 533L838.5 536L843.5 539.2L848.4 542.3L853.4 545.6L858.4 548.8L863.4 552.1L868.4 555.4L873.4 558.8L878.3 562.2L883.3 565.7L888.3 569.1L893.3 572.6L898.3 576.2L903.2 579.7L908.2 583.3L913.2 587L918.2 590.6L923.2 594.3L928.2 598L933.1 601.7L938.1 605.5L943.1 609.2L948.1 613L953.1 616.9L958 620.7L963 624.5L968 628.4L973 632.3L978 636.2L983 640.1L987.9 644L992.9 648L997.9 651.9L1002.9 655.9L1007.9 659.8L1012.8 663.8L1017.8 667.8L1022.8 671.8L1027.8 675.8L1032.8 679.8L1037.8 683.8L1042.7 687.8L1047.7 691.8L1052.7 695.8L1057.7 699.8L1062.7 703.8L1067.6 707.8L1072.6 711.7L1077.6 715.7L1082.6 719.7L1087.6 723.7L1092.6 727.6L1097.5 731.6L1102.5 735.5L1107.5 739.4L1112.5 743.3L1117.5 747.2L1122.4 751.1L1127.4 755L1132.4 758.8L1137.4 762.7L1142.4 766.5L1147.4 770.3L1152.3 774.1L1157.3 777.9L1162.3 781.6L1167.3 785.4L1172.3 789.1L1177.2 792.8L1182.2 796.4L1187.2 800.1L1192.2 803.7L1197.2 807.3L1202.2 810.9L1207.1 814.5L1212.1 818.1L1217.1 821.6L1222.1 825.1L1227.1 828.6L1232 832L1237 835.4L1242 838.9L1247 842.2L1252 845.6L1257 848.9L1261.9 852.2L1266.9 855.5L1271.9 858.7L1276.9 861.9L1281.9 865.1L1286.8 868.3L1291.8 871.4L1296.8 874.5L1301.8 877.6L1306.8 880.6L1311.8 883.6L1316.7 886.6L1321.7 889.5L1326.7 892.4L1331.7 895.3L1336.7 898.2L1341.7 901L1346.6 903.8L1351.6 906.5L1356.6 909.3L1361.6 912L1366.6 914.6L1371.5 917.3L1376.5 919.9L1381.5 922.5L1386.5 925L1391.5 927.5L1396.5 930L1401.4 932.5L1406.4 934.9L1411.4 937.3L1416.4 939.6L1421.4 942L1426.3 944.3L1431.3 946.5L1436.3 948.8L1441.3 951L1446.3 953.2L1451.3 955.3L1456.2 957.5L1461.2 959.5L1466.2 961.6L1471.2 963.6L1476.2 965.6L1481.1 967.6L1486.1 969.6L1491.1 971.5L1496.1 973.4L1501.1 975.2L1506.1 977L1511 978.8L1516 980.6L1521 982.3L1526 984L1531 985.7L1535.9 987.4L1540.9 989L1545.9 990.6L1550.9 992.1L1555.9 993.6L1560.9 995.1L1565.8 996.6L1570.8 998.1L1575.8 999.5L1580.8 1000.8L1585.8 1002.2L1590.7 1003.5L1595.7 1004.8L1600.7 1006.1L1605.7 1007.3L1610.7 1008.5L1615.7 1009.7L1620.6 1010.9L1625.6 1012L1630.6 1013.1L1635.6 1014.1L1640.6 1015.2L1645.5 1016.2L1650.5 1017.1L1655.5 1018.1L1660.5 1019L1665.5 1019.9L1670.5 1020.8L1675.4 1021.6L1680.4 1022.4L1685.4 1023.2L1690.4 1023.9L1695.4 1024.6L1700.3 1025.3L1705.3 1026L1710.3 1026.6L1715.3 1027.2L1720.3 1027.8L1725.3 1028.3L1730.2 1028.8L1735.2 1029.3L1740.2 1029.8L1745.2 1030.2L1750.2 1030.6L1755.1 1031L1760.1 1031.4L1765.1 1031.7L1770.1 1032L1775.1 1032.2L1780.1 1032.5L1785 1032.7L1790 1032.9L1795 1033M353.5 683L358.5 683.1L363.5 683.1L368.5 683.1L373.5 683.1L378.5 683L383.5 682.8L388.5 682.7L393.5 682.5L398.5 682.2L403.5 681.9L408.5 681.6L413.5 681.2L418.5 680.8L423.5 680.4L428.5 679.9L433.5 679.3L438.5 678.8L443.5 678.2L448.5 677.5L453.5 676.8L458.5 676.1L463.5 675.4L468.5 674.6L473.5 673.7L478.5 672.9L483.5 672L488.5 671L493.5 670L498.5 669L503.5 668L508.5 666.9L513.5 665.8L518.5 664.6L523.5 663.4L528.5 662.2L533.5 660.9L538.5 659.7L543.5 658.3L548.5 657L553.5 655.6L558.5 654.2L563.5 652.7L568.5 651.2L573.5 649.7L578.5 648.2L583.5 646.6L588.5 645L593.5 643.3L598.5 641.6L603.5 639.9L608.5 638.2L613.5 636.4L618.5 634.6L623.5 632.8L628.5 631L633.5 629.1L638.5 627.2L643.5 625.2L648.5 623.3L653.5 621.3L658.5 619.2L663.5 617.2L668.5 615.1L673.5 613L678.5 610.9L683.5 608.7L688.5 606.5L693.5 604.3L698.5 602.1L703.5 599.8L708.5 597.5L713.5 595.2L718.5 592.9L723.5 590.5L728.5 588.2L733.5 585.8L738.5 583.3L743.5 580.9L748.5 578.4L753.5 575.9L758.5 573.4L763.5 570.8L768.5 568.2L773.5 565.7L778.5 563L783.5 560.4L788.5 557.8L793.5 555.1L798.5 552.4L803.5 549.7L808.5 546.9L813.5 544.2L818.5 541.4L823.5 538.6L828.5 535.8L833.5 533L838.5 529.8L843.4 526.5L848.4 523.2L853.3 519.9L858.3 516.6L863.2 513.2L868.2 509.9L873.1 506.5L878.1 503.1L883.1 499.6L888 496.2L893 492.7L897.9 489.2L902.9 485.7L907.8 482.1L912.8 478.5L917.7 474.9L922.7 471.3L927.7 467.7L932.6 464L937.6 460.4L942.5 456.7L947.5 452.9L952.4 449.2L957.4 445.4L962.3 441.6L967.3 437.8L972.3 434L977.2 430.1L982.2 426.3L987.1 422.4L992.1 418.5L997 414.5L1002 410.6L1006.9 406.6L1011.9 402.6L1016.9 398.6L1021.8 394.6L1026.8 390.5L1031.7 386.5L1036.7 382.4L1041.6 378.2L1046.6 374.1L1051.6 370L1056.5 365.8L1061.5 361.6L1066.4 357.4L1071.4 353.2L1076.3 348.9L1081.3 344.6L1086.2 340.4L1091.2 336.1L1096.2 331.7L1101.1 327.4L1106.1 323L1111 318.6L1116 314.2L1120.9 309.8L1125.9 305.4L1130.8 300.9L1135.8 296.5L1140.8 292L1145.7 287.5L1150.7 283L1155.6 278.4L1160.6 273.8L1165.5 269.3L1170.5 264.7L1175.4 260.1L1180.4 255.4L1185.4 250.8L1190.3 246.1L1195.3 241.4L1200.2 236.7L1205.2 232L1210.1 227.3L1215.1 222.5L1220 217.8L1225 213M353.5 668L358.5 667.9L363.5 667.8L368.5 667.6L373.5 667.4L378.4 667.2L383.4 667L388.4 666.8L393.4 666.6L398.4 666.3L403.4 666L408.4 665.7L413.4 665.4L418.3 665L423.3 664.7L428.3 664.3L433.3 663.9L438.3 663.5L443.3 663.1L448.3 662.7L453.3 662.2L458.2 661.8L463.2 661.3L468.2 660.8L473.2 660.3L478.2 659.8L483.2 659.3L488.2 658.8L493.2 658.2L498.1 657.7L503.1 657.1L508.1 656.5L513.1 656L518.1 655.4L523.1 654.8L528.1 654.2L533.1 653.6L538.1 653L543 652.4L548 651.8L553 651.1L558 650.5L563 649.9L568 649.3L573 648.6L578 648L582.9 647.4L587.9 646.7L592.9 646.1L597.9 645.4L602.9 644.8L607.9 644.2L612.9 643.5L617.9 642.9L622.8 642.2L627.8 641.6L632.8 641L637.8 640.4L642.8 639.7L647.8 639.1L652.8 638.5L657.8 637.9L662.7 637.3L667.7 636.7L672.7 636.1L677.7 635.6L682.7 635L687.7 634.4L692.7 633.9L697.7 633.3L702.7 632.8L707.6 632.3L712.6 631.7L717.6 631.2L722.6 630.8L727.6 630.3L732.6 629.8L737.6 629.4L742.6 628.9L747.5 628.5L752.5 628.1L757.5 627.7L762.5 627.3L767.5 626.9L772.5 626.6L777.5 626.2L782.5 625.9L787.4 625.6L792.4 625.3L797.4 625.1L802.4 624.8L807.4 624.6L812.4 624.4L817.4 624.2L822.4 624.1L827.3 623.9L832.3 623.8L837.3 623.7L842.3 623.6L847.3 623.6L852.3 623.5L857.3 623.5L862.3 623.6L867.3 623.6L872.2 623.7L877.2 623.8L882.2 623.9L887.2 624L892.2 624.2L897.2 624.4L902.2 624.7L907.2 624.9L912.1 625.2L917.1 625.5L922.1 625.9L927.1 626.3L932.1 626.7L937.1 627.2L942.1 627.8L947.1 628.3L952 628.9L957 629.6L962 630.3L967 631.1L972 632L977 632.9L982 633.8L987 634.8L991.9 635.9L996.9 637.1L1001.9 638.3L1006.9 639.6L1011.9 641L1016.9 642.5L1021.9 644L1026.9 645.6L1031.9 647.3L1036.8 649.1L1041.8 650.9L1046.8 652.8L1051.8 654.8L1056.8 656.8L1061.8 658.9L1066.8 661.1L1071.8 663.2L1076.7 665.5L1081.7 667.7L1086.7 670L1091.7 672.4L1096.7 674.8L1101.7 677.2L1106.7 679.6L1111.7 682.1L1116.6 684.6L1121.6 687.1L1126.6 689.6L1131.6 692.2L1136.6 694.8L1141.6 697.4L1146.6 700.1L1151.6 702.7L1156.6 705.4L1161.5 708.1L1166.5 710.8L1171.5 713.6L1176.5 716.3L1181.5 719.1L1186.5 721.8L1191.5 724.6L1196.5 727.4L1201.4 730.2L1206.4 733L1211.4 735.8L1216.4 738.7L1221.4 741.5L1226.4 744.3L1231.4 747.1L1236.4 750L1241.3 752.8L1246.3 755.6L1251.3 758.5L1256.3 761.3L1261.3 764.1L1266.3 766.9L1271.3 769.8L1276.3 772.6L1281.2 775.3L1286.2 778.1L1291.2 780.9L1296.2 783.7L1301.2 786.4L1306.2 789.1L1311.2 791.8L1316.2 794.5L1321.2 797.2L1326.1 799.9L1331.1 802.5L1336.1 805.1L1341.1 807.7L1346.1 810.3L1351.1 812.8L1356.1 815.4L1361.1 817.8L1366 820.3L1371 822.7L1376 825.1L1381 827.5L1386 829.9L1391 832.2L1396 834.5L1401 836.7L1405.9 838.9L1410.9 841.1L1415.9 843.3L1420.9 845.4L1425.9 847.5L1430.9 849.6L1435.9 851.7L1440.9 853.7L1445.8 855.7L1450.8 857.6L1455.8 859.5L1460.8 861.4L1465.8 863.3L1470.8 865.1L1475.8 866.9L1480.8 868.7L1485.8 870.5L1490.7 872.2L1495.7 873.9L1500.7 875.5L1505.7 877.1L1510.7 878.7L1515.7 880.3L1520.7 881.8L1525.7 883.3L1530.6 884.8L1535.6 886.3L1540.6 887.7L1545.6 889.1L1550.6 890.4L1555.6 891.7L1560.6 893L1565.6 894.3L1570.5 895.5L1575.5 896.7L1580.5 897.9L1585.5 899.1L1590.5 900.2L1595.5 901.3L1600.5 902.3L1605.5 903.3L1610.4 904.3L1615.4 905.3L1620.4 906.2L1625.4 907.1L1630.4 908L1635.4 908.9L1640.4 909.7L1645.4 910.5L1650.4 911.2L1655.3 911.9L1660.3 912.6L1665.3 913.3L1670.3 913.9L1675.3 914.5L1680.3 915.1L1685.3 915.7L1690.3 916.2L1695.2 916.7L1700.2 917.1L1705.2 917.5L1710.2 917.9L1715.2 918.3L1720.2 918.6L1725.2 918.9L1730.2 919.2L1735.1 919.4L1740.1 919.6L1745.1 919.8L1750.1 920L1755.1 920.1L1760.1 920.2L1765.1 920.3L1770.1 920.3L1775 920.3L1780 920.3L1785 920.2L1790 920.1L1795 920M353.5 663.5L358.5 663.6L363.5 663.6L368.5 663.6L373.5 663.6L378.4 663.5L383.4 663.5L388.4 663.4L393.4 663.2L398.4 663.1L403.4 662.9L408.4 662.6L413.4 662.4L418.3 662.1L423.3 661.8L428.3 661.5L433.3 661.2L438.3 660.8L443.3 660.4L448.3 660L453.3 659.6L458.2 659.1L463.2 658.7L468.2 658.2L473.2 657.7L478.2 657.2L483.2 656.7L488.2 656.1L493.2 655.5L498.1 655L503.1 654.4L508.1 653.8L513.1 653.2L518.1 652.5L523.1 651.9L528.1 651.3L533.1 650.6L538.1 650L543 649.3L548 648.6L553 647.9L558 647.3L563 646.6L568 645.9L573 645.2L578 644.5L582.9 643.8L587.9 643.1L592.9 642.4L597.9 641.7L602.9 641L607.9 640.3L612.9 639.6L617.9 638.9L622.8 638.2L627.8 637.5L632.8 636.8L637.8 636.1L642.8 635.5L647.8 634.8L652.8 634.1L657.8 633.5L662.7 632.9L667.7 632.2L672.7 631.6L677.7 631L682.7 630.4L687.7 629.8L692.7 629.3L697.7 628.7L702.7 628.2L707.6 627.7L712.6 627.2L717.6 626.7L722.6 626.3L727.6 625.9L732.6 625.5L737.6 625.1L742.6 624.8L747.5 624.5L752.5 624.2L757.5 623.9L762.5 623.7L767.5 623.5L772.5 623.4L777.5 623.3L782.5 623.2L787.4 623.2L792.4 623.2L797.4 623.2L802.4 623.3L807.4 623.5L812.4 623.7L817.4 623.9L822.4 624.2L827.3 624.5L832.3 624.9L837.3 625.3L842.3 625.8L847.3 626.3L852.3 626.9L857.3 627.6L862.3 628.2L867.3 629L872.2 629.8L877.2 630.6L882.2 631.5L887.2 632.4L892.2 633.4L897.2 634.4L902.2 635.5L907.2 636.6L912.1 637.8L917.1 639L922.1 640.2L927.1 641.5L932.1 642.9L937.1 644.3L942.1 645.7L947.1 647.2L952 648.7L957 650.2L962 651.8L967 653.5L972 655.1L977 656.9L982 658.6L987 660.4L991.9 662.2L996.9 664.1L1001.9 666L1006.9 668L1011.9 669.9L1016.9 672L1021.9 674L1026.9 676.1L1031.9 678.2L1036.8 680.4L1041.8 682.6L1046.8 684.8L1051.8 687L1056.8 689.3L1061.8 691.6L1066.8 694L1071.8 696.4L1076.7 698.8L1081.7 701.2L1086.7 703.7L1091.7 706.2L1096.7 708.7L1101.7 711.3L1106.7 713.9L1111.7 716.5L1116.6 719.1L1121.6 721.8L1126.6 724.5L1131.6 727.2L1136.6 730L1141.6 732.7L1146.6 735.5L1151.6 738.3L1156.6 741.2L1161.5 744L1166.5 746.9L1171.5 749.8L1176.5 752.7L1181.5 755.7L1186.5 758.6L1191.5 761.6L1196.5 764.6L1201.4 767.6L1206.4 770.6L1211.4 773.6L1216.4 776.7L1221.4 779.7L1226.4 782.8L1231.4 785.8L1236.4 788.9L1241.3 792L1246.3 795L1251.3 798.1L1256.3 801.2L1261.3 804.3L1266.3 807.3L1271.3 810.4L1276.3 813.5L1281.2 816.5L1286.2 819.6L1291.2 822.7L1296.2 825.7L1301.2 828.8L1306.2 831.8L1311.2 834.8L1316.2 837.8L1321.2 840.8L1326.1 843.8L1331.1 846.8L1336.1 849.7L1341.1 852.6L1346.1 855.6L1351.1 858.5L1356.1 861.3L1361.1 864.2L1366 867L1371 869.8L1376 872.6L1381 875.4L1386 878.1L1391 880.8L1396 883.5L1401 886.1L1405.9 888.7L1410.9 891.3L1415.9 893.9L1420.9 896.4L1425.9 898.8L1430.9 901.3L1435.9 903.7L1440.9 906L1445.8 908.4L1450.8 910.6L1455.8 912.9L1460.8 915.1L1465.8 917.2L1470.8 919.3L1475.8 921.4L1480.8 923.4L1485.8 925.4L1490.7 927.3L1495.7 929.2L1500.7 931L1505.7 932.8L1510.7 934.6L1515.7 936.3L1520.7 937.9L1525.7 939.6L1530.6 941.2L1535.6 942.7L1540.6 944.2L1545.6 945.7L1550.6 947.1L1555.6 948.5L1560.6 949.8L1565.6 951.2L1570.5 952.4L1575.5 953.7L1580.5 954.9L1585.5 956.1L1590.5 957.2L1595.5 958.3L1600.5 959.4L1605.5 960.4L1610.4 961.4L1615.4 962.4L1620.4 963.3L1625.4 964.2L1630.4 965.1L1635.4 965.9L1640.4 966.7L1645.4 967.5L1650.4 968.2L1655.3 969L1660.3 969.6L1665.3 970.3L1670.3 970.9L1675.3 971.5L1680.3 972.1L1685.3 972.7L1690.3 973.2L1695.2 973.7L1700.2 974.2L1705.2 974.6L1710.2 975L1715.2 975.4L1720.2 975.8L1725.2 976.2L1730.2 976.5L1735.1 976.8L1740.1 977.1L1745.1 977.4L1750.1 977.6L1755.1 977.8L1760.1 978.1L1765.1 978.2L1770.1 978.4L1775 978.6L1780 978.7L1785 978.8L1790 978.9L1795 979M353.5 707.5L358.5 707.4L363.5 707.2L368.5 707L373.5 706.8L378.4 706.6L383.4 706.4L388.4 706.1L393.4 705.9L398.4 705.6L403.4 705.3L408.4 704.9L413.4 704.6L418.3 704.2L423.3 703.9L428.3 703.5L433.3 703.1L438.3 702.6L443.3 702.2L448.3 701.7L453.3 701.3L458.2 700.8L463.2 700.3L468.2 699.7L473.2 699.2L478.2 698.6L483.2 698.1L488.2 697.5L493.2 696.9L498.1 696.2L503.1 695.6L508.1 695L513.1 694.3L518.1 693.6L523.1 692.9L528.1 692.2L533.1 691.4L538.1 690.7L543 689.9L548 689.2L553 688.4L558 687.6L563 686.8L568 685.9L573 685.1L578 684.2L582.9 683.3L587.9 682.4L592.9 681.5L597.9 680.6L602.9 679.7L607.9 678.7L612.9 677.8L617.9 676.8L622.8 675.8L627.8 674.8L632.8 673.8L637.8 672.8L642.8 671.7L647.8 670.7L652.8 669.6L657.8 668.5L662.7 667.4L667.7 666.3L672.7 665.2L677.7 664.1L682.7 662.9L687.7 661.7L692.7 660.6L697.7 659.3L702.7 658.1L707.6 656.8L712.6 655.5L717.6 654.2L722.6 652.8L727.6 651.4L732.6 649.9L737.6 648.4L742.6 646.8L747.5 645.3L752.5 643.8L757.5 642.3L762.5 640.9L767.5 639.6L772.5 638.4L777.5 637.3L782.5 636.3L787.4 635.5L792.4 634.7L797.4 634.1L802.4 633.6L807.4 633.2L812.4 633L817.4 632.8L822.4 632.8L827.3 632.8L832.3 633L837.3 633.2L842.3 633.6L847.3 634.1L852.3 634.7L857.3 635.3L862.3 636.1L867.3 637L872.2 637.9L877.2 639L882.2 640.1L887.2 641.3L892.2 642.6L897.2 644L902.2 645.5L907.2 647.1L912.1 648.7L917.1 650.4L922.1 652.2L927.1 654.1L932.1 656L937.1 658L942.1 660.1L947.1 662.3L952 664.5L957 666.8L962 669.1L967 671.5L972 674L977 676.5L982 679.1L987 681.7L991.9 684.4L996.9 687.1L1001.9 689.9L1006.9 692.8L1011.9 695.6L1016.9 698.6L1021.9 701.5L1026.9 704.5L1031.9 707.6L1036.8 710.7L1041.8 713.8L1046.8 716.9L1051.8 720.1L1056.8 723.4L1061.8 726.6L1066.8 729.9L1071.8 733.2L1076.7 736.5L1081.7 739.9L1086.7 743.2L1091.7 746.6L1096.7 750L1101.7 753.4L1106.7 756.9L1111.7 760.3L1116.6 763.8L1121.6 767.3L1126.6 770.8L1131.6 774.3L1136.6 777.8L1141.6 781.3L1146.6 784.9L1151.6 788.4L1156.6 792L1161.5 795.5L1166.5 799.1L1171.5 802.6L1176.5 806.2L1181.5 809.7L1186.5 813.3L1191.5 816.8L1196.5 820.4L1201.4 823.9L1206.4 827.5L1211.4 831L1216.4 834.5L1221.4 838.1L1226.4 841.6L1231.4 845.1L1236.4 848.6L1241.3 852L1246.3 855.5L1251.3 858.9L1256.3 862.4L1261.3 865.8L1266.3 869.2L1271.3 872.6L1276.3 875.9L1281.2 879.3L1286.2 882.6L1291.2 885.9L1296.2 889.2L1301.2 892.4L1306.2 895.7L1311.2 898.9L1316.2 902L1321.2 905.2L1326.1 908.3L1331.1 911.3L1336.1 914.4L1341.1 917.4L1346.1 920.4L1351.1 923.3L1356.1 926.2L1361.1 929.1L1366 931.9L1371 934.7L1376 937.5L1381 940.2L1386 942.8L1391 945.5L1396 948L1401 950.6L1405.9 953.1L1410.9 955.5L1415.9 957.9L1420.9 960.2L1425.9 962.5L1430.9 964.8L1435.9 967L1440.9 969.2L1445.8 971.3L1450.8 973.4L1455.8 975.5L1460.8 977.5L1465.8 979.4L1470.8 981.4L1475.8 983.3L1480.8 985.1L1485.8 986.9L1490.7 988.7L1495.7 990.4L1500.7 992.1L1505.7 993.8L1510.7 995.4L1515.7 997L1520.7 998.6L1525.7 1000.1L1530.6 1001.6L1535.6 1003.1L1540.6 1004.5L1545.6 1005.9L1550.6 1007.3L1555.6 1008.7L1560.6 1010L1565.6 1011.3L1570.5 1012.5L1575.5 1013.7L1580.5 1014.9L1585.5 1016.1L1590.5 1017.3L1595.5 1018.4L1600.5 1019.5L1605.5 1020.5L1610.4 1021.6L1615.4 1022.6L1620.4 1023.6L1625.4 1024.6L1630.4 1025.6L1635.4 1026.5L1640.4 1027.4L1645.4 1028.3L1650.4 1029.2L1655.3 1030L1660.3 1030.9L1665.3 1031.7L1670.3 1032.5L1675.3 1033.3L1680.3 1034.1L1685.3 1034.8L1690.3 1035.6L1695.2 1036.3L1700.2 1037L1705.2 1037.7L1710.2 1038.4L1715.2 1039L1720.2 1039.7L1725.2 1040.3L1730.2 1041L1735.1 1041.6L1740.1 1042.2L1745.1 1042.8L1750.1 1043.4L1755.1 1044L1760.1 1044.6L1765.1 1045.2L1770.1 1045.8L1775 1046.3L1780 1046.9L1785 1047.4L1790 1048L1795 1048.5M353.5 894L358.5 894L363.5 894.1L368.5 894.3L373.5 894.6L378.4 895.1L383.4 895.7L388.4 896.4L393.4 897.2L398.4 898.1L403.4 899.1L408.4 900.3L413.4 901.5L418.3 902.9L423.3 904.3L428.3 905.8L433.3 907.4L438.3 909.2L443.3 910.9L448.3 912.8L453.3 914.8L458.2 916.8L463.2 918.9L468.2 921.1L473.2 923.3L478.2 925.6L483.2 928L488.2 930.4L493.2 932.9L498.1 935.4L503.1 938L508.1 940.6L513.1 943.3L518.1 946L523.1 948.7L528.1 951.5L533.1 954.3L538.1 957.2L543 960.1L548 963L553 965.9L558 968.8L563 971.8L568 974.7L573 977.7L578 980.7L582.9 983.7L587.9 986.6L592.9 989.6L597.9 992.6L602.9 995.6L607.9 998.5L612.9 1001.5L617.9 1004.4L622.8 1007.3L627.8 1010.2L632.8 1013.1L637.8 1015.9L642.8 1018.7L647.8 1021.5L652.8 1024.3L657.8 1027L662.7 1029.7L667.7 1032.4L672.7 1035L677.7 1037.6L682.7 1040.1L687.7 1042.6L692.7 1045L697.7 1047.4L702.7 1049.7L707.6 1052L712.6 1054.2L717.6 1056.4L722.6 1058.5L727.6 1060.5L732.6 1062.4L737.6 1064.3L742.6 1066.1L747.5 1067.9L752.5 1069.5L757.5 1071.1L762.5 1072.6L767.5 1074L772.5 1075.4L777.5 1076.6L782.5 1077.7L787.4 1078.8L792.4 1079.8L797.4 1080.6L802.4 1081.4L807.4 1082L812.4 1082.6L817.4 1083L822.4 1083.4L827.3 1083.6L832.3 1083.7L837.3 1083.6L842.3 1083.5L847.3 1083.2L852.3 1082.8L857.3 1082.3L862.3 1081.7L867.3 1081L872.2 1080.2L877.2 1079.3L882.2 1078.3L887.2 1077.2L892.2 1076L897.2 1074.8L902.2 1073.4L907.2 1072L912.1 1070.5L917.1 1068.9L922.1 1067.3L927.1 1065.6L932.1 1063.8L937.1 1062L942.1 1060.1L947.1 1058.1L952 1056.1L957 1054L962 1051.9L967 1049.7L972 1047.5L977 1045.3L982 1043L987 1040.7L991.9 1038.3L996.9 1035.9L1001.9 1033.5L1006.9 1031.1L1011.9 1028.7L1016.9 1026.2L1021.9 1023.7L1026.9 1021.2L1031.9 1018.7L1036.8 1016.2L1041.8 1013.6L1046.8 1011.1L1051.8 1008.5L1056.8 1005.9L1061.8 1003.2L1066.8 1000.6L1071.8 998L1076.7 995.3L1081.7 992.6L1086.7 990L1091.7 987.3L1096.7 984.6L1101.7 981.9L1106.7 979.1L1111.7 976.4L1116.6 973.7L1121.6 971L1126.6 968.3L1131.6 965.5L1136.6 962.8L1141.6 960.1L1146.6 957.4L1151.6 954.6L1156.6 951.9L1161.5 949.2L1166.5 946.5L1171.5 943.8L1176.5 941.1L1181.5 938.4L1186.5 935.7L1191.5 933.1L1196.5 930.4L1201.4 927.8L1206.4 925.2L1211.4 922.6L1216.4 920L1221.4 917.4L1226.4 914.8L1231.4 912.2L1236.4 909.7L1241.3 907.1L1246.3 904.6L1251.3 902.1L1256.3 899.6L1261.3 897.1L1266.3 894.6L1271.3 892.1L1276.3 889.6L1281.2 887.1L1286.2 884.6L1291.2 882.1L1296.2 879.7L1301.2 877.2L1306.2 874.7L1311.2 872.2L1316.2 869.6L1321.2 867.1L1326.1 864.6L1331.1 862.1L1336.1 859.6L1341.1 857.1L1346.1 854.5L1351.1 852L1356.1 849.5L1361.1 847L1366 844.5L1371 841.9L1376 839.4L1381 836.9L1386 834.3L1391 831.8L1396 829.3L1401 826.7L1405.9 824.1L1410.9 821.6L1415.9 819L1420.9 816.4L1425.9 813.9L1430.9 811.3L1435.9 808.7L1440.9 806.2L1445.8 803.6L1450.8 801.1L1455.8 798.6L1460.8 796.1L1465.8 793.7L1470.8 791.2L1475.8 788.8L1480.8 786.3L1485.8 783.9L1490.7 781.5L1495.7 779.1L1500.7 776.8L1505.7 774.4L1510.7 772.1L1515.7 769.8L1520.7 767.6L1525.7 765.3L1530.6 763.1L1535.6 760.9L1540.6 758.7L1545.6 756.6L1550.6 754.5L1555.6 752.4L1560.6 750.4L1565.6 748.4L1570.5 746.4L1575.5 744.5L1580.5 742.6L1585.5 740.7L1590.5 738.9L1595.5 737.1L1600.5 735.4L1605.5 733.8L1610.4 732.2L1615.4 730.7L1620.4 729.2L1625.4 727.7L1630.4 726.3L1635.4 725L1640.4 723.7L1645.4 722.4L1650.4 721.2L1655.3 720L1660.3 718.8L1665.3 717.8L1670.3 716.7L1675.3 715.7L1680.3 714.8L1685.3 713.9L1690.3 713.1L1695.2 712.3L1700.2 711.6L1705.2 710.9L1710.2 710.3L1715.2 709.7L1720.2 709.2L1725.2 708.8L1730.2 708.4L1735.1 708L1740.1 707.8L1745.1 707.5L1750.1 707.4L1755.1 707.3L1760.1 707.2L1765.1 707.3L1770.1 707.3L1775 707.5L1780 707.7L1785 708L1790 708.3L1795 708.7M353.5 894L358.5 894L363.5 894.1L368.5 894.3L373.5 894.6L378.4 895.1L383.4 895.7L388.4 896.4L393.4 897.2L398.4 898.1L403.4 899.1L408.4 900.3L413.4 901.5L418.3 902.9L423.3 904.3L428.3 905.8L433.3 907.4L438.3 909.2L443.3 910.9L448.3 912.8L453.3 914.8L458.2 916.8L463.2 918.9L468.2 921.1L473.2 923.3L478.2 925.6L483.2 928L488.2 930.4L493.2 932.9L498.1 935.4L503.1 938L508.1 940.6L513.1 943.3L518.1 946L523.1 948.7L528.1 951.5L533.1 954.3L538.1 957.2L543 960.1L548 963L553 965.9L558 968.8L563 971.8L568 974.7L573 977.7L578 980.7L582.9 983.7L587.9 986.6L592.9 989.6L597.9 992.6L602.9 995.6L607.9 998.5L612.9 1001.5L617.9 1004.4L622.8 1007.3L627.8 1010.2L632.8 1013.1L637.8 1015.9L642.8 1018.7L647.8 1021.5L652.8 1024.3L657.8 1027L662.7 1029.7L667.7 1032.4L672.7 1035L677.7 1037.6L682.7 1040.1L687.7 1042.6L692.7 1045L697.7 1047.4L702.7 1049.7L707.6 1052L712.6 1054.2L717.6 1056.4L722.6 1058.5L727.6 1060.5L732.6 1062.4L737.6 1064.3L742.6 1066.1L747.5 1067.9L752.5 1069.5L757.5 1071.1L762.5 1072.6L767.5 1074L772.5 1075.4L777.5 1076.6L782.5 1077.7L787.4 1078.8L792.4 1079.8L797.4 1080.6L802.4 1081.4L807.4 1082L812.4 1082.6L817.4 1083L822.4 1083.4L827.3 1083.6L832.3 1083.7L837.3 1083.7L842.3 1083.6L847.3 1083.4L852.3 1083.1L857.3 1082.7L862.3 1082.2L867.3 1081.6L872.2 1080.9L877.2 1080.1L882.2 1079.2L887.2 1078.2L892.2 1077.1L897.2 1075.9L902.2 1074.7L907.2 1073.3L912.1 1071.9L917.1 1070.5L922.1 1068.9L927.1 1067.3L932.1 1065.6L937.1 1063.8L942.1 1062L947.1 1060.2L952 1058.2L957 1056.2L962 1054.2L967 1052.1L972 1050L977 1047.9L982 1045.7L987 1043.4L991.9 1041.1L996.9 1038.8L1001.9 1036.5L1006.9 1034.1L1011.9 1031.7L1016.9 1029.2L1021.9 1026.7L1026.9 1024.2L1031.9 1021.7L1036.8 1019.2L1041.8 1016.6L1046.8 1014.1L1051.8 1011.5L1056.8 1008.9L1061.8 1006.2L1066.8 1003.6L1071.8 1001L1076.7 998.3L1081.7 995.6L1086.7 993L1091.7 990.3L1096.7 987.6L1101.7 984.9L1106.7 982.1L1111.7 979.4L1116.6 976.7L1121.6 974L1126.6 971.3L1131.6 968.5L1136.6 965.8L1141.6 963.1L1146.6 960.4L1151.6 957.6L1156.6 954.9L1161.5 952.2L1166.5 949.5L1171.5 946.8L1176.5 944.1L1181.5 941.4L1186.5 938.7L1191.5 936.1L1196.5 933.4L1201.4 930.8L1206.4 928.2L1211.4 925.6L1216.4 923L1221.4 920.4L1226.4 917.8L1231.4 915.2L1236.4 912.7L1241.3 910.1L1246.3 907.6L1251.3 905.1L1256.3 902.6L1261.3 900.1L1266.3 897.6L1271.3 895.1L1276.3 892.6L1281.2 890.1L1286.2 887.6L1291.2 885.1L1296.2 882.7L1301.2 880.2L1306.2 877.8L1311.2 875.4L1316.2 873.1L1321.2 870.7L1326.1 868.3L1331.1 865.9L1336.1 863.5L1341.1 861.1L1346.1 858.8L1351.1 856.4L1356.1 854L1361.1 851.6L1366 849.2L1371 846.8L1376 844.4L1381 842L1386 839.6L1391 837.2L1396 834.8L1401 832.4L1405.9 830L1410.9 827.5L1415.9 825.1L1420.9 822.7L1425.9 820.2L1430.9 817.8L1435.9 815.4L1440.9 812.9L1445.8 810.5L1450.8 808.1L1455.8 805.6L1460.8 803.1L1465.8 800.7L1470.8 798.2L1475.8 795.8L1480.8 793.3L1485.8 790.9L1490.7 788.5L1495.7 786.1L1500.7 783.8L1505.7 781.4L1510.7 779.1L1515.7 776.8L1520.7 774.6L1525.7 772.3L1530.6 770.1L1535.6 767.9L1540.6 765.7L1545.6 763.6L1550.6 761.5L1555.6 759.4L1560.6 757.4L1565.6 755.4L1570.5 753.4L1575.5 751.5L1580.5 749.6L1585.5 747.7L1590.5 745.9L1595.5 744.1L1600.5 742.4L1605.5 740.6L1610.4 738.8L1615.4 737.1L1620.4 735.4L1625.4 733.8L1630.4 732.2L1635.4 730.7L1640.4 729.2L1645.4 727.8L1650.4 726.3L1655.3 725L1660.3 723.7L1665.3 722.4L1670.3 721.2L1675.3 720L1680.3 718.9L1685.3 717.9L1690.3 716.9L1695.2 715.9L1700.2 715L1705.2 714.1L1710.2 713.3L1715.2 712.6L1720.2 711.9L1725.2 711.3L1730.2 710.7L1735.1 710.2L1740.1 709.7L1745.1 709.3L1750.1 709L1755.1 708.7L1760.1 708.5L1765.1 708.3L1770.1 708.2L1775 708.2L1780 708.2L1785 708.3L1790 708.5L1795 708.7M353.5 1203L358.5 1203.4L363.5 1203.8L368.5 1204.2L373.5 1204.5L378.4 1204.7L383.4 1204.8L388.4 1204.9L393.4 1204.9L398.4 1204.9L403.4 1204.8L408.4 1204.7L413.4 1204.5L418.3 1204.2L423.3 1203.9L428.3 1203.6L433.3 1203.2L438.3 1202.8L443.3 1202.3L448.3 1201.8L453.3 1201.2L458.2 1200.6L463.2 1199.9L468.2 1199.3L473.2 1198.5L478.2 1197.8L483.2 1197L488.2 1196.2L493.2 1195.3L498.1 1194.4L503.1 1193.5L508.1 1192.6L513.1 1191.7L518.1 1190.7L523.1 1189.7L528.1 1188.7L533.1 1187.6L538.1 1186.6L543 1185.5L548 1184.4L553 1183.3L558 1182.2L563 1181L568 1179.9L573 1178.8L578 1177.6L582.9 1176.5L587.9 1175.3L592.9 1174.1L597.9 1173L602.9 1171.8L607.9 1170.6L612.9 1169.5L617.9 1168.3L622.8 1167.1L627.8 1166L632.8 1164.8L637.8 1163.7L642.8 1162.5L647.8 1161.4L652.8 1160.3L657.8 1159.2L662.7 1158.2L667.7 1157.1L672.7 1156.1L677.7 1155.1L682.7 1154.1L687.7 1153.2L692.7 1152.2L697.7 1151.3L702.7 1150.5L707.6 1149.6L712.6 1148.8L717.6 1148L722.6 1147.3L727.6 1146.6L732.6 1145.9L737.6 1145.3L742.6 1144.7L747.5 1144.1L752.5 1143.6L757.5 1143.2L762.5 1142.7L767.5 1142.4L772.5 1142L777.5 1141.7L782.5 1141.5L787.4 1141.2L792.4 1141L797.4 1140.9L802.4 1140.7L807.4 1140.6L812.4 1140.5L817.4 1140.4L822.4 1140.3L827.3 1140.2L832.3 1140.2L837.3 1140.3L842.3 1140.3L847.3 1140.4L852.3 1140.5L857.3 1140.6L862.3 1140.7L867.3 1140.8L872.2 1140.8L877.2 1140.9L882.2 1140.9L887.2 1140.9L892.2 1140.9L897.2 1140.9L902.2 1140.8L907.2 1140.7L912.1 1140.6L917.1 1140.4L922.1 1140.2L927.1 1140L932.1 1139.7L937.1 1139.3L942.1 1139L947.1 1138.5L952 1138L957 1137.5L962 1136.9L967 1136.1L972 1135.4L977 1134.5L982 1133.6L987 1132.6L991.9 1131.6L996.9 1130.5L1001.9 1129.4L1006.9 1128.2L1011.9 1126.9L1016.9 1125.6L1021.9 1124.2L1026.9 1122.7L1031.9 1121.2L1036.8 1119.7L1041.8 1118L1046.8 1116.4L1051.8 1114.6L1056.8 1112.9L1061.8 1111L1066.8 1109.1L1071.8 1107.2L1076.7 1105.2L1081.7 1103.1L1086.7 1101L1091.7 1098.9L1096.7 1096.7L1101.7 1094.4L1106.7 1092.1L1111.7 1089.7L1116.6 1087.3L1121.6 1084.9L1126.6 1082.3L1131.6 1079.8L1136.6 1077.2L1141.6 1074.5L1146.6 1071.8L1151.6 1069.1L1156.6 1066.3L1161.5 1063.5L1166.5 1060.7L1171.5 1057.8L1176.5 1054.9L1181.5 1051.9L1186.5 1048.9L1191.5 1045.9L1196.5 1042.9L1201.4 1039.8L1206.4 1036.7L1211.4 1033.6L1216.4 1030.4L1221.4 1027.2L1226.4 1024L1231.4 1020.8L1236.4 1017.5L1241.3 1014.3L1246.3 1011L1251.3 1007.7L1256.3 1004.4L1261.3 1001.1L1266.3 997.7L1271.3 994.4L1276.3 991L1281.2 987.6L1286.2 984.2L1291.2 980.9L1296.2 977.5L1301.2 974L1306.2 970.6L1311.2 967.1L1316.2 963.7L1321.2 960.2L1326.1 956.7L1331.1 953.3L1336.1 949.8L1341.1 946.3L1346.1 942.8L1351.1 939.4L1356.1 935.9L1361.1 932.4L1366 928.9L1371 925.4L1376 921.9L1381 918.4L1386 914.9L1391 911.4L1396 907.9L1401 904.4L1405.9 900.9L1410.9 897.4L1415.9 893.9L1420.9 890.4L1425.9 886.9L1430.9 883.4L1435.9 879.9L1440.9 876.4L1445.8 872.9L1450.8 869.5L1455.8 866L1460.8 862.6L1465.8 859.1L1470.8 855.7L1475.8 852.2L1480.8 848.8L1485.8 845.3L1490.7 841.9L1495.7 838.4L1500.7 835L1505.7 831.6L1510.7 828.1L1515.7 824.7L1520.7 821.3L1525.7 818L1530.6 814.6L1535.6 811.3L1540.6 808L1545.6 804.7L1550.6 801.5L1555.6 798.3L1560.6 795.1L1565.6 792L1570.5 788.9L1575.5 785.9L1580.5 782.9L1585.5 780L1590.5 777.1L1595.5 774.3L1600.5 771.6L1605.5 769L1610.4 766.4L1615.4 763.9L1620.4 761.5L1625.4 759.2L1630.4 756.9L1635.4 754.6L1640.4 752.4L1645.4 750.3L1650.4 748.2L1655.3 746.2L1660.3 744.2L1665.3 742.3L1670.3 740.5L1675.3 738.7L1680.3 736.9L1685.3 735.2L1690.3 733.5L1695.2 731.9L1700.2 730.4L1705.2 728.9L1710.2 727.4L1715.2 726L1720.2 724.7L1725.2 723.3L1730.2 722.1L1735.1 720.8L1740.1 719.7L1745.1 718.5L1750.1 717.4L1755.1 716.4L1760.1 715.4L1765.1 714.4L1770.1 713.5L1775 712.6L1780 711.8L1785 711L1790 710.2L1795 709.5M353.5 1203L358.5 1203.5L363.5 1204L368.5 1204.4L373.5 1204.8L378.4 1205.1L383.4 1205.3L388.4 1205.5L393.4 1205.6L398.4 1205.6L403.4 1205.6L408.4 1205.6L413.4 1205.4L418.3 1205.3L423.3 1205.1L428.3 1204.8L433.3 1204.5L438.3 1204.1L443.3 1203.7L448.3 1203.3L453.3 1202.8L458.2 1202.3L463.2 1201.7L468.2 1201.1L473.2 1200.5L478.2 1199.8L483.2 1199.1L488.2 1198.4L493.2 1197.6L498.1 1196.8L503.1 1196L508.1 1195.1L513.1 1194.2L518.1 1193.3L523.1 1192.4L528.1 1191.5L533.1 1190.5L538.1 1189.5L543 1188.6L548 1187.5L553 1186.5L558 1185.5L563 1184.4L568 1183.4L573 1182.3L578 1181.3L582.9 1180.2L587.9 1179.1L592.9 1178L597.9 1177L602.9 1175.9L607.9 1174.8L612.9 1173.8L617.9 1172.7L622.8 1171.7L627.8 1170.7L632.8 1169.6L637.8 1168.6L642.8 1167.6L647.8 1166.6L652.8 1165.7L657.8 1164.7L662.7 1163.8L667.7 1162.9L672.7 1162L677.7 1161.1L682.7 1160.2L687.7 1159.4L692.7 1158.6L697.7 1157.8L702.7 1157.1L707.6 1156.4L712.6 1155.7L717.6 1155L722.6 1154.4L727.6 1153.8L732.6 1153.3L737.6 1152.8L742.6 1152.3L747.5 1151.9L752.5 1151.5L757.5 1151.2L762.5 1150.9L767.5 1150.7L772.5 1150.5L777.5 1150.3L782.5 1150.2L787.4 1150.1L792.4 1150L797.4 1149.9L802.4 1149.9L807.4 1149.9L812.4 1149.9L817.4 1150L822.4 1150L827.3 1150.1L832.3 1150.2L837.3 1150.1L842.3 1150.1L847.3 1150L852.3 1149.9L857.3 1149.9L862.3 1149.8L867.3 1149.7L872.2 1149.6L877.2 1149.5L882.2 1149.4L887.2 1149.2L892.2 1149.1L897.2 1148.9L902.2 1148.6L907.2 1148.4L912.1 1148.1L917.1 1147.8L922.1 1147.4L927.1 1147L932.1 1146.6L937.1 1146.1L942.1 1145.5L947.1 1144.9L952 1144.3L957 1143.6L962 1142.8L967 1142L972 1141.2L977 1140.3L982 1139.3L987 1138.3L991.9 1137.2L996.9 1136L1001.9 1134.8L1006.9 1133.5L1011.9 1132.1L1016.9 1130.7L1021.9 1129.3L1026.9 1127.8L1031.9 1126.2L1036.8 1124.6L1041.8 1122.9L1046.8 1121.1L1051.8 1119.3L1056.8 1117.5L1061.8 1115.6L1066.8 1113.6L1071.8 1111.6L1076.7 1109.5L1081.7 1107.4L1086.7 1105.2L1091.7 1103L1096.7 1100.8L1101.7 1098.4L1106.7 1096.1L1111.7 1093.7L1116.6 1091.3L1121.6 1088.9L1126.6 1086.3L1131.6 1083.8L1136.6 1081.2L1141.6 1078.5L1146.6 1075.8L1151.6 1073.1L1156.6 1070.3L1161.5 1067.5L1166.5 1064.7L1171.5 1061.8L1176.5 1058.9L1181.5 1055.9L1186.5 1052.9L1191.5 1049.9L1196.5 1046.9L1201.4 1043.8L1206.4 1040.7L1211.4 1037.6L1216.4 1034.4L1221.4 1031.2L1226.4 1028L1231.4 1024.8L1236.4 1021.5L1241.3 1018.3L1246.3 1015L1251.3 1011.7L1256.3 1008.4L1261.3 1005.1L1266.3 1001.7L1271.3 998.4L1276.3 995L1281.2 991.6L1286.2 988.2L1291.2 984.9L1296.2 981.5L1301.2 978.1L1306.2 974.7L1311.2 971.4L1316.2 968L1321.2 964.6L1326.1 961.3L1331.1 957.9L1336.1 954.5L1341.1 951.1L1346.1 947.8L1351.1 944.4L1356.1 941L1361.1 937.6L1366 934.2L1371 930.8L1376 927.4L1381 924L1386 920.7L1391 917.3L1396 913.9L1401 910.5L1405.9 907.1L1410.9 903.7L1415.9 900.3L1420.9 896.9L1425.9 893.5L1430.9 890.1L1435.9 886.7L1440.9 883.3L1445.8 879.9L1450.8 876.5L1455.8 873L1460.8 869.6L1465.8 866.1L1470.8 862.7L1475.8 859.2L1480.8 855.8L1485.8 852.3L1490.7 848.9L1495.7 845.4L1500.7 842L1505.7 838.6L1510.7 835.1L1515.7 831.7L1520.7 828.3L1525.7 825L1530.6 821.6L1535.6 818.3L1540.6 815L1545.6 811.7L1550.6 808.5L1555.6 805.3L1560.6 802.1L1565.6 799L1570.5 795.9L1575.5 792.9L1580.5 789.9L1585.5 787L1590.5 784.1L1595.5 781.3L1600.5 778.5L1605.5 775.8L1610.4 773L1615.4 770.4L1620.4 767.8L1625.4 765.3L1630.4 762.8L1635.4 760.4L1640.4 758L1645.4 755.7L1650.4 753.4L1655.3 751.2L1660.3 749.1L1665.3 747L1670.3 744.9L1675.3 743L1680.3 741L1685.3 739.1L1690.3 737.3L1695.2 735.5L1700.2 733.8L1705.2 732.1L1710.2 730.5L1715.2 728.9L1720.2 727.3L1725.2 725.8L1730.2 724.4L1735.1 723L1740.1 721.6L1745.1 720.3L1750.1 719.1L1755.1 717.8L1760.1 716.6L1765.1 715.5L1770.1 714.4L1775 713.3L1780 712.3L1785 711.3L1790 710.4L1795 709.5M353.5 947L358.5 946.7L363.5 946.6L368.5 946.6L373.5 946.8L378.4 947.2L383.4 947.7L388.4 948.3L393.4 949.1L398.4 950L403.4 951.1L408.4 952.3L413.4 953.6L418.3 955.1L423.3 956.7L428.3 958.4L433.3 960.2L438.3 962.2L443.3 964.2L448.3 966.4L453.3 968.7L458.2 971L463.2 973.5L468.2 976.1L473.2 978.8L478.2 981.5L483.2 984.4L488.2 987.3L493.2 990.3L498.1 993.4L503.1 996.6L508.1 999.8L513.1 1003.1L518.1 1006.5L523.1 1009.9L528.1 1013.4L533.1 1017L538.1 1020.6L543 1024.3L548 1028L553 1031.7L558 1035.5L563 1039.3L568 1043.2L573 1047.1L578 1051L582.9 1054.9L587.9 1058.9L592.9 1062.9L597.9 1066.9L602.9 1070.9L607.9 1074.9L612.9 1078.9L617.9 1083L622.8 1087L627.8 1091L632.8 1095L637.8 1099L642.8 1103L647.8 1107L652.8 1111L657.8 1114.9L662.7 1118.8L667.7 1122.7L672.7 1126.6L677.7 1130.4L682.7 1134.2L687.7 1137.9L692.7 1141.6L697.7 1145.2L702.7 1148.8L707.6 1152.3L712.6 1155.7L717.6 1159.1L722.6 1162.4L727.6 1165.6L732.6 1168.8L737.6 1171.8L742.6 1174.8L747.5 1177.6L752.5 1180.4L757.5 1183L762.5 1185.5L767.5 1188L772.5 1190.3L777.5 1192.4L782.5 1194.5L787.4 1196.4L792.4 1198.1L797.4 1199.8L802.4 1201.2L807.4 1202.6L812.4 1203.7L817.4 1204.7L822.4 1205.6L827.3 1206.2L832.3 1206.7L837.3 1207L842.3 1207.2L847.3 1207.1L852.3 1206.9L857.3 1206.6L862.3 1206.1L867.3 1205.4L872.2 1204.6L877.2 1203.6L882.2 1202.5L887.2 1201.3L892.2 1199.9L897.2 1198.5L902.2 1196.9L907.2 1195.2L912.1 1193.4L917.1 1191.5L922.1 1189.5L927.1 1187.4L932.1 1185.2L937.1 1182.9L942.1 1180.6L947.1 1178.2L952 1175.7L957 1173.2L962 1170.6L967 1168L972 1165.3L977 1162.6L982 1159.8L987 1157L991.9 1154.2L996.9 1151.4L1001.9 1148.5L1006.9 1145.6L1011.9 1142.7L1016.9 1139.8L1021.9 1136.8L1026.9 1133.8L1031.9 1130.8L1036.8 1127.8L1041.8 1124.7L1046.8 1121.7L1051.8 1118.6L1056.8 1115.5L1061.8 1112.4L1066.8 1109.3L1071.8 1106.1L1076.7 1102.9L1081.7 1099.8L1086.7 1096.6L1091.7 1093.4L1096.7 1090.2L1101.7 1087L1106.7 1083.7L1111.7 1080.5L1116.6 1077.3L1121.6 1074L1126.6 1070.8L1131.6 1067.5L1136.6 1064.3L1141.6 1061L1146.6 1057.7L1151.6 1054.5L1156.6 1051.2L1161.5 1047.9L1166.5 1044.6L1171.5 1041.4L1176.5 1038.1L1181.5 1034.8L1186.5 1031.5L1191.5 1028.2L1196.5 1024.8L1201.4 1021.5L1206.4 1018.2L1211.4 1014.9L1216.4 1011.5L1221.4 1008.2L1226.4 1004.8L1231.4 1001.5L1236.4 998.1L1241.3 994.7L1246.3 991.4L1251.3 988L1256.3 984.6L1261.3 981.2L1266.3 977.8L1271.3 974.3L1276.3 970.9L1281.2 967.5L1286.2 964L1291.2 960.6L1296.2 957.1L1301.2 953.6L1306.2 950.1L1311.2 946.6L1316.2 943.1L1321.2 939.6L1326.1 936.1L1331.1 932.5L1336.1 929L1341.1 925.4L1346.1 921.8L1351.1 918.2L1356.1 914.6L1361.1 911L1366 907.4L1371 903.7L1376 900.1L1381 896.4L1386 892.8L1391 889.1L1396 885.4L1401 881.8L1405.9 878.1L1410.9 874.4L1415.9 870.8L1420.9 867.2L1425.9 863.6L1430.9 860L1435.9 856.4L1440.9 852.9L1445.8 849.4L1450.8 845.9L1455.8 842.5L1460.8 839.1L1465.8 835.7L1470.8 832.4L1475.8 829.2L1480.8 825.9L1485.8 822.8L1490.7 819.7L1495.7 816.6L1500.7 813.6L1505.7 810.7L1510.7 807.8L1515.7 805L1520.7 802.3L1525.7 799.6L1530.6 797L1535.6 794.5L1540.6 792.1L1545.6 789.8L1550.6 787.5L1555.6 785.3L1560.6 783.1L1565.6 781L1570.5 779L1575.5 777.1L1580.5 775.2L1585.5 773.4L1590.5 771.6L1595.5 769.9L1600.5 768.2L1605.5 766.6L1610.4 765.1L1615.4 763.6L1620.4 762.2L1625.4 760.8L1630.4 759.5L1635.4 758.2L1640.4 756.9L1645.4 755.7L1650.4 754.6L1655.3 753.5L1660.3 752.4L1665.3 751.4L1670.3 750.4L1675.3 749.4L1680.3 748.5L1685.3 747.6L1690.3 746.8L1695.2 745.9L1700.2 745.1L1705.2 744.4L1710.2 743.6L1715.2 742.9L1720.2 742.2L1725.2 741.5L1730.2 740.9L1735.1 740.3L1740.1 739.6L1745.1 739.1L1750.1 738.5L1755.1 737.9L1760.1 737.4L1765.1 736.8L1770.1 736.3L1775 735.8L1780 735.2L1785 734.7L1790 734.2L1795 733.7M833.5 1335L838.5 1332.5L843.5 1330L848.4 1327.5L853.4 1325L858.4 1322.5L863.4 1320L868.4 1317.4L873.4 1314.8L878.3 1312.3L883.3 1309.7L888.3 1307.1L893.3 1304.5L898.3 1301.8L903.2 1299.2L908.2 1296.5L913.2 1293.9L918.2 1291.2L923.2 1288.5L928.2 1285.8L933.1 1283.1L938.1 1280.3L943.1 1277.6L948.1 1274.8L953.1 1272.1L958 1269.3L963 1266.5L968 1263.6L973 1260.8L978 1258L983 1255.1L987.9 1252.2L992.9 1249.3L997.9 1246.4L1002.9 1243.5L1007.9 1240.5L1012.8 1237.6L1017.8 1234.6L1022.8 1231.6L1027.8 1228.6L1032.8 1225.6L1037.8 1222.6L1042.7 1219.6L1047.7 1216.5L1052.7 1213.4L1057.7 1210.3L1062.7 1207.2L1067.6 1204.1L1072.6 1201L1077.6 1197.8L1082.6 1194.6L1087.6 1191.5L1092.6 1188.3L1097.5 1185L1102.5 1181.8L1107.5 1178.5L1112.5 1175.3L1117.5 1172L1122.4 1168.7L1127.4 1165.4L1132.4 1162L1137.4 1158.7L1142.4 1155.3L1147.4 1151.9L1152.3 1148.5L1157.3 1145.1L1162.3 1141.7L1167.3 1138.2L1172.3 1134.7L1177.2 1131.2L1182.2 1127.7L1187.2 1124.2L1192.2 1120.7L1197.2 1117.1L1202.2 1113.5L1207.1 1109.9L1212.1 1106.3L1217.1 1102.7L1222.1 1099L1227.1 1095.4L1232 1091.7L1237 1088L1242 1084.2L1247 1080.5L1252 1076.7L1257 1073L1261.9 1069.2L1266.9 1065.3L1271.9 1061.5L1276.9 1057.6L1281.9 1053.8L1286.8 1049.9L1291.8 1046L1296.8 1042L1301.8 1038.1L1306.8 1034.1L1311.8 1030.1L1316.7 1026.1L1321.7 1022.1L1326.7 1018L1331.7 1014L1336.7 1009.9L1341.7 1005.9L1346.6 1001.8L1351.6 997.7L1356.6 993.6L1361.6 989.5L1366.6 985.3L1371.5 981.2L1376.5 977.1L1381.5 973L1386.5 968.8L1391.5 964.7L1396.5 960.6L1401.4 956.4L1406.4 952.3L1411.4 948.2L1416.4 944.1L1421.4 940L1426.3 935.8L1431.3 931.7L1436.3 927.7L1441.3 923.6L1446.3 919.5L1451.3 915.4L1456.2 911.4L1461.2 907.4L1466.2 903.3L1471.2 899.3L1476.2 895.4L1481.1 891.4L1486.1 887.5L1491.1 883.5L1496.1 879.6L1501.1 875.7L1506.1 871.9L1511 868.1L1516 864.3L1521 860.5L1526 856.7L1531 853L1535.9 849.3L1540.9 845.6L1545.9 842L1550.9 838.4L1555.9 834.9L1560.9 831.3L1565.8 827.9L1570.8 824.4L1575.8 821L1580.8 817.6L1585.8 814.3L1590.7 811L1595.7 807.7L1600.7 804.5L1605.7 801.4L1610.7 798.3L1615.7 795.2L1620.6 792.2L1625.6 789.3L1630.6 786.4L1635.6 783.5L1640.6 780.7L1645.5 778L1650.5 775.3L1655.5 772.7L1660.5 770.2L1665.5 767.7L1670.5 765.3L1675.4 763L1680.4 760.8L1685.4 758.6L1690.4 756.5L1695.4 754.5L1700.3 752.6L1705.3 750.7L1710.3 749L1715.3 747.3L1720.3 745.7L1725.3 744.2L1730.2 742.8L1735.2 741.5L1740.2 740.3L1745.2 739.2L1750.2 738.2L1755.1 737.3L1760.1 736.5L1765.1 735.8L1770.1 735.2L1775.1 734.7L1780.1 734.3L1785 734.1L1790 734L1795 733.9M353.5 1376.7L358.5 1377L363.5 1377.2L368.5 1377.3L373.5 1377.4L378.5 1377.4L383.5 1377.4L388.5 1377.3L393.5 1377.1L398.5 1376.9L403.5 1376.7L408.5 1376.3L413.5 1376L418.5 1375.6L423.5 1375.1L428.5 1374.6L433.5 1374.1L438.5 1373.5L443.5 1372.9L448.5 1372.2L453.5 1371.5L458.5 1370.8L463.5 1370L468.5 1369.2L473.5 1368.4L478.5 1367.5L483.5 1366.6L488.5 1365.7L493.5 1364.8L498.5 1363.8L503.5 1362.8L508.5 1361.8L513.5 1360.8L518.5 1359.8L523.5 1358.7L528.5 1357.7L533.5 1356.6L538.5 1355.5L543.5 1354.4L548.5 1353.3L553.5 1352.2L558.5 1351.1L563.5 1350L568.5 1348.9L573.5 1347.8L578.5 1346.7L583.5 1345.6L588.5 1344.5L593.5 1343.5L598.5 1342.4L603.5 1341.3L608.5 1340.3L613.5 1339.2L618.5 1338.2L623.5 1337.2L628.5 1336.3L633.5 1335.3L638.5 1334.4L643.5 1333.5L648.5 1332.6L653.5 1331.7L658.5 1330.9L663.5 1330.1L668.5 1329.3L673.5 1328.6L678.5 1327.9L683.5 1327.2L688.5 1326.6L693.5 1326L698.5 1325.5L703.5 1325L708.5 1324.6L713.5 1324.2L718.5 1323.8L723.5 1323.5L728.5 1323.3L733.5 1323.1L738.5 1322.9L743.5 1322.9L748.5 1322.9L753.5 1322.9L758.5 1323L763.5 1323.2L768.5 1323.5L773.5 1323.9L778.5 1324.3L783.5 1324.8L788.5 1325.4L793.5 1326.1L798.5 1326.9L803.5 1327.7L808.5 1328.7L813.5 1329.7L818.5 1330.9L823.5 1332.1L828.5 1333.5L833.5 1335L838.4 1337.5L843.3 1340L848.2 1342.7L853.1 1345.4L858 1348.3L862.9 1351.1L867.8 1354.1L872.7 1357.1L877.6 1360.2L882.5 1363.4L887.4 1366.6L892.3 1369.9L897.2 1373.3L902.1 1376.6L907 1380.1L911.9 1383.6L916.8 1387.1L921.7 1390.6L926.6 1394.2L931.5 1397.9L936.4 1401.5L941.3 1405.2L946.2 1408.9L951.2 1412.6L956.1 1416.4L961 1420.1L965.9 1423.9L970.8 1427.7L975.7 1431.5L980.6 1435.3L985.5 1439L990.4 1442.8L995.3 1446.6L1000.2 1450.4L1005.1 1454.1L1010 1457.8L1014.9 1461.5L1019.8 1465.2L1024.7 1468.9L1029.6 1472.5L1034.5 1476.1L1039.4 1479.7L1044.3 1483.2L1049.2 1486.7L1054.1 1490.1L1059 1493.5M353.5 1442.7L358.5 1442.5L363.5 1442.2L368.5 1441.9L373.5 1441.6L378.5 1441.3L383.5 1441L388.5 1440.6L393.5 1440.2L398.5 1439.9L403.5 1439.4L408.5 1439L413.5 1438.6L418.5 1438.1L423.5 1437.6L428.5 1437.1L433.5 1436.5L438.5 1436L443.5 1435.4L448.5 1434.8L453.5 1434.2L458.5 1433.6L463.5 1433L468.5 1432.3L473.5 1431.6L478.5 1430.9L483.5 1430.2L488.5 1429.5L493.5 1428.7L498.5 1427.9L503.5 1427.1L508.5 1426.3L513.5 1425.5L518.5 1424.6L523.5 1423.8L528.5 1422.9L533.5 1422L538.5 1421L543.5 1420.1L548.5 1419.1L553.5 1418.1L558.5 1417.2L563.5 1416.1L568.5 1415.1L573.5 1414L578.5 1413L583.5 1411.9L588.5 1410.8L593.5 1409.6L598.5 1408.5L603.5 1407.3L608.5 1406.2L613.5 1405L618.5 1403.7L623.5 1402.5L628.5 1401.3L633.5 1400L638.5 1398.7L643.5 1397.4L648.5 1396.1L653.5 1394.7L658.5 1393.4L663.5 1392L668.5 1390.6L673.5 1389.2L678.5 1387.8L683.5 1386.3L688.5 1384.9L693.5 1383.4L698.5 1381.9L703.5 1380.4L708.5 1378.8L713.5 1377.3L718.5 1375.7L723.5 1374.1L728.5 1372.5L733.5 1370.9L738.5 1369.3L743.5 1367.6L748.5 1366L753.5 1364.3L758.5 1362.6L763.5 1360.8L768.5 1359.1L773.5 1357.4L778.5 1355.6L783.5 1353.8L788.5 1352L793.5 1350.2L798.5 1348.3L803.5 1346.5L808.5 1344.6L813.5 1342.7L818.5 1340.8L823.5 1338.9L828.5 1337L833.5 1335M1503 213L1507.9 215.3L1512.9 217.5L1517.8 219.6L1522.8 221.7L1527.7 223.8L1532.7 225.8L1537.6 227.8L1542.6 229.7L1547.5 231.6L1552.5 233.4L1557.4 235.2L1562.4 237L1567.3 238.7L1572.3 240.3L1577.2 241.9L1582.2 243.5L1587.1 245L1592.1 246.5L1597 247.9L1602 249.3L1606.9 250.7L1611.9 252L1616.8 253.3L1621.8 254.5L1626.7 255.7L1631.7 256.9L1636.6 258L1641.6 259.1L1646.5 260.1L1651.5 261.2L1656.4 262.1L1661.4 263.1L1666.3 264L1671.3 264.9L1676.2 265.7L1681.2 266.5L1686.1 267.3L1691.1 268L1696 268.7L1701 269.4L1705.9 270.1L1710.9 270.7L1715.8 271.3L1720.8 271.8L1725.7 272.4L1730.7 272.9L1735.6 273.3L1740.6 273.8L1745.5 274.2L1750.5 274.6L1755.4 274.9L1760.4 275.3L1765.3 275.6L1770.3 275.9L1775.2 276.2L1780.2 276.4L1785.1 276.6L1790.1 276.8L1795 277M1423 213L1428 215.9L1432.9 218.7L1437.9 221.6L1442.8 224.3L1447.8 227.1L1452.8 229.7L1457.7 232.4L1462.7 235L1467.6 237.5L1472.6 240.1L1477.6 242.5L1482.5 245L1487.5 247.4L1492.4 249.7L1497.4 252L1502.4 254.3L1507.3 256.5L1512.3 258.7L1517.2 260.9L1522.2 263L1527.2 265L1532.1 267.1L1537.1 269L1542 271L1547 272.9L1552 274.7L1556.9 276.6L1561.9 278.3L1566.8 280.1L1571.8 281.8L1576.8 283.4L1581.7 285.1L1586.7 286.6L1591.6 288.2L1596.6 289.7L1601.6 291.2L1606.5 292.6L1611.5 294L1616.4 295.3L1621.4 296.6L1626.4 297.9L1631.3 299.1L1636.3 300.3L1641.2 301.4L1646.2 302.5L1651.2 303.6L1656.1 304.6L1661.1 305.6L1666 306.6L1671 307.5L1676 308.4L1680.9 309.2L1685.9 310L1690.8 310.7L1695.8 311.5L1700.8 312.2L1705.7 312.8L1710.7 313.4L1715.6 314L1720.6 314.5L1725.6 315L1730.5 315.5L1735.5 315.9L1740.4 316.3L1745.4 316.6L1750.4 316.9L1755.3 317.2L1760.3 317.4L1765.2 317.6L1770.2 317.8L1775.2 317.9L1780.1 318L1785.1 318L1790 318L1795 318M1367 213L1372 216.3L1377 219.6L1381.9 222.9L1386.9 226.1L1391.9 229.2L1396.9 232.3L1401.8 235.4L1406.8 238.4L1411.8 241.3L1416.8 244.3L1421.7 247.1L1426.7 249.9L1431.7 252.7L1436.7 255.4L1441.7 258.1L1446.6 260.7L1451.6 263.3L1456.6 265.9L1461.6 268.4L1466.5 270.8L1471.5 273.2L1476.5 275.6L1481.5 277.9L1486.4 280.1L1491.4 282.4L1496.4 284.6L1501.4 286.7L1506.3 288.8L1511.3 290.8L1516.3 292.8L1521.3 294.8L1526.3 296.7L1531.2 298.6L1536.2 300.5L1541.2 302.3L1546.2 304L1551.1 305.7L1556.1 307.4L1561.1 309L1566.1 310.6L1571 312.2L1576 313.7L1581 315.2L1586 316.6L1591 318L1595.9 319.3L1600.9 320.7L1605.9 321.9L1610.9 323.2L1615.8 324.4L1620.8 325.5L1625.8 326.7L1630.8 327.7L1635.7 328.8L1640.7 329.8L1645.7 330.8L1650.7 331.7L1655.7 332.6L1660.6 333.5L1665.6 334.3L1670.6 335.1L1675.6 335.9L1680.5 336.6L1685.5 337.3L1690.5 337.9L1695.5 338.6L1700.4 339.1L1705.4 339.7L1710.4 340.2L1715.4 340.7L1720.3 341.1L1725.3 341.5L1730.3 341.9L1735.3 342.3L1740.3 342.6L1745.2 342.9L1750.2 343.1L1755.2 343.4L1760.2 343.5L1765.1 343.7L1770.1 343.8L1775.1 343.9L1780.1 344L1785 344L1790 344L1795 344M1373 213L1378 217L1382.9 220.9L1387.9 224.7L1392.9 228.5L1397.8 232.2L1402.8 235.7L1407.8 239.3L1412.7 242.7L1417.7 246.1L1422.6 249.4L1427.6 252.6L1432.6 255.8L1437.5 258.8L1442.5 261.9L1447.5 264.8L1452.4 267.7L1457.4 270.5L1462.4 273.2L1467.3 275.9L1472.3 278.5L1477.3 281.1L1482.2 283.6L1487.2 286L1492.2 288.4L1497.1 290.7L1502.1 292.9L1507 295.1L1512 297.2L1517 299.3L1521.9 301.3L1526.9 303.3L1531.9 305.2L1536.8 307L1541.8 308.8L1546.8 310.6L1551.7 312.3L1556.7 313.9L1561.7 315.5L1566.6 317.1L1571.6 318.6L1576.6 320L1581.5 321.4L1586.5 322.8L1591.4 324.1L1596.4 325.3L1601.4 326.6L1606.3 327.8L1611.3 328.9L1616.3 330L1621.2 331.1L1626.2 332.1L1631.2 333.1L1636.1 334L1641.1 334.9L1646.1 335.8L1651 336.6L1656 337.4L1661 338.2L1665.9 339L1670.9 339.7L1675.8 340.3L1680.8 341L1685.8 341.6L1690.7 342.2L1695.7 342.8L1700.7 343.3L1705.6 343.8L1710.6 344.3L1715.6 344.8L1720.5 345.2L1725.5 345.6L1730.5 346L1735.4 346.4L1740.4 346.7L1745.4 347.1L1750.3 347.4L1755.3 347.7L1760.2 348L1765.2 348.2L1770.2 348.5L1775.1 348.7L1780.1 348.9L1785.1 349.1L1790 349.3L1795 349.5"/>
<g fill="none" stroke="#222" stroke-width="5.5" stroke-opacity="0.92">
<rect x="353.5" y="213" width="1441.5" height="1280.5"/>
<path stroke-width="4.5" stroke-opacity="0.75" d="M353.5 533.1h31M1795 533.1h-31M353.5 853.2h31M1795 853.2h-31M353.5 1173.4h31M1795 1173.4h-31M833.5 1493.5v-31M833.5 213v31"/>
</g>
<path fill="#00ffff" d="M519.6 1907.9L524.6 1913.5L529.6 1919.1L534.6 1924.8L539.6 1930.4L544.6 1936L549.6 1941.7L554.6 1947.3L559.6 1952.9L564.5 1958.5L569.5 1964.2L574.5 1969.8L579.5 1975.4L584.5 1981.1L589.5 1986.7L594.5 1992.3L599.5 1997.9L604.5 2003.6L609.5 2009.2L614.4 2014.8L619.4 2020.5L624.4 2026.1L629.4 2031.7L634.4 2037.3L639.4 2043L644.4 2048.6L649.4 2054.2L654.4 2059.9L659.3 2065.5L664.3 2071.1L669.3 2076.7L674.3 2082.4L679.3 2088L684.3 2093.6L689.3 2099.2L694.3 2104.8L699.3 2110.5L704.3 2116.1L709.2 2121.7L714.2 2127.3L719.2 2133L724.2 2138.6L729.2 2144.2L734.2 2149.8L739.2 2155.4L744.2 2161.1L749.2 2166.7L754.2 2172.3L759.1 2177.9L764.1 2183.5L769.1 2189.1L774.1 2194.8L779.2 2200.3L784.2 2205.9L789.3 2211.5L794.3 2217L799.4 2222.6L804.4 2228.1L809.5 2233.7L814.5 2239.2L819.6 2244.8L824.6 2250.3L829.7 2255.9L834.7 2261.4L839.8 2267L844.8 2272.6L849.9 2278.1L854.9 2283.6L860 2289.2L865.1 2294.7L870.1 2300.3L875.2 2305.8L880.2 2311.4L885.3 2316.9L890.3 2322.5L895.4 2328L900.4 2333.6L905.5 2339.1L910.5 2344.6L915.7 2350.1L920.9 2355.5L926.1 2360.9L931.3 2366.3L936.4 2371.7L941.6 2377.1L946.8 2382.6L952 2388L957.2 2393.4L962.4 2398.8L967.6 2404.2L972.8 2409.6L977.9 2415L983.2 2420.3L988.5 2425.7L993.7 2431L999 2436.4L1004.2 2441.7L1009.7 2446.8L1015.4 2451.8L1021 2456.8L1026.6 2461.8L1032.3 2466.8L1038.1 2471.6L1043.9 2476.4L1049.7 2481.3L1055.6 2486.1L1061.8 2490.6L1068.2 2494.8L1074.7 2498.8L1081.5 2502A3.6 3.6 0 0 0 1086.5 2496.9L1083.4 2490.3L1079.9 2483.9L1076.3 2477.3L1072.6 2470.8L1068.5 2464.5L1064.3 2458.2L1060.2 2451.9L1056.1 2445.5L1051.7 2439.4L1047.4 2433.2L1043.1 2427.1L1038.7 2420.9L1034.3 2414.9L1029.6 2409.1L1024.9 2403.2L1020.2 2397.4L1015.4 2391.6L1010.7 2385.7L1006 2380L1001.2 2374.2L996.4 2368.4L991.6 2362.7L986.9 2356.9L982.1 2351.1L977.3 2345.4L972.5 2339.6L967.8 2333.8L963 2328L958.2 2322.3L953.4 2316.5L948.6 2310.7L943.7 2305.1L938.8 2299.4L933.9 2293.7L929 2288.1L924.1 2282.4L919.2 2276.7L914.3 2271.1L909.4 2265.4L904.4 2259.8L899.5 2254.1L894.6 2248.4L889.7 2242.7L884.8 2237.1L879.9 2231.4L875 2225.7L870.1 2220.1L865.2 2214.4L860.2 2208.7L855.3 2203L850.4 2197.4L845.5 2191.7L840.6 2186L835.7 2180.3L830.8 2174.6L825.9 2169L821 2163.3L816 2157.6L811.1 2152L806.1 2146.4L801.1 2140.7L796.1 2135.1L791.2 2129.5L786.2 2123.9L781.2 2118.2L776.2 2112.6L771.3 2107L766.3 2101.3L761.3 2095.7L756.3 2090.1L751.4 2084.4L746.4 2078.8L741.4 2073.2L736.4 2067.5L731.5 2061.9L726.5 2056.3L721.5 2050.6L716.6 2045L711.6 2039.3L706.6 2033.7L701.6 2028.1L696.7 2022.4L691.7 2016.8L686.7 2011.2L681.7 2005.5L676.8 1999.9L671.8 1994.2L666.8 1988.6L661.8 1983L656.9 1977.3L651.9 1971.7L646.9 1966L641.9 1960.4L637 1954.8L632 1949.1L627 1943.5L622 1937.8L617.1 1932.2L612.1 1926.5L607.1 1920.9L602.1 1915.3L597.2 1909.6L592.2 1904L587.2 1898.3L582.3 1892.7L577.3 1887.1L572.3 1881.4L567.3 1875.8L562.4 1870.1A28.5 28.5 0 0 0 519.6 1907.9ZM1100.6 2504L1106.4 2503.3L1112.5 2501.8L1118.6 2499.6L1124.8 2496.9L1131.1 2493.7L1137.2 2489.7L1143.2 2485.3L1149.1 2480.5L1155.1 2475.5L1161 2470.3L1166.9 2464.8L1172.6 2459.1L1178 2453.2L1183.4 2447.2L1188.8 2441.2L1194.2 2435.2L1199.6 2429.2L1205 2423.2L1210.4 2417.2L1215.7 2411.2L1220.9 2405L1226 2398.8L1231.2 2392.6L1236.3 2386.3L1241.4 2380.1L1246.6 2373.9L1251.7 2367.6L1256.8 2361.3L1262 2355L1267.1 2348.8L1272.2 2342.5L1277.3 2336.2L1282.5 2329.9L1287.6 2323.6L1292.7 2317.2L1297.9 2310.9L1303 2304.6L1308.1 2298.2L1313.3 2291.9L1318.4 2285.5L1323.5 2279.1L1328.5 2272.6L1333.5 2266.1L1338.6 2259.7L1343.6 2253.2L1348.6 2246.7L1353.7 2240.2L1358.7 2233.6L1363.7 2227.1L1368.8 2220.6L1373.8 2214.1L1378.8 2207.5L1383.9 2200.9L1388.9 2194.4L1393.9 2187.8L1399 2181.2L1404 2174.6L1409 2168L1414.1 2161.4L1419.1 2154.7L1424.1 2148.1L1429.2 2141.4L1434.2 2134.8L1439.2 2128.1L1444.3 2121.4L1449.3 2114.7L1454.4 2108L1459.4 2101.3L1464.4 2094.6L1469.5 2087.9L1474.5 2081.1L1479.5 2074.4L1484.6 2067.6L1489.6 2060.8L1494.6 2054L1499.7 2047.2L1504.7 2040.4L1509.7 2033.6L1514.8 2026.7L1519.8 2019.9L1524.9 2013L1529.9 2006.2L1534.9 1999.3L1540 1992.4L1545 1985.5L1550 1978.6L1555.1 1971.6L1560.1 1964.7L1565.2 1957.7L1570.2 1950.7L1575.2 1943.8L1580.3 1936.8L1585.3 1929.8L1590.4 1922.7L1595.4 1915.7L1600.4 1908.7A29 29 0 0 0 1553 1875.3L1548.1 1882.4L1543.2 1889.5L1538.3 1896.6L1533.4 1903.6L1528.5 1910.7L1523.6 1917.7L1518.7 1924.7L1513.8 1931.7L1508.9 1938.7L1504 1945.7L1499.1 1952.6L1494.2 1959.6L1489.3 1966.5L1484.5 1973.5L1479.6 1980.4L1474.7 1987.3L1469.8 1994.2L1464.9 2001.1L1460 2007.9L1455.1 2014.8L1450.2 2021.7L1445.3 2028.5L1440.4 2035.3L1435.5 2042.2L1430.6 2049L1425.7 2055.8L1420.8 2062.5L1415.9 2069.3L1411 2076.1L1406.1 2082.8L1401.2 2089.6L1396.3 2096.3L1391.4 2103.1L1386.5 2109.8L1381.6 2116.5L1376.7 2123.2L1371.8 2129.9L1367 2136.5L1362.1 2143.2L1357.2 2149.9L1352.3 2156.5L1347.4 2163.1L1342.5 2169.8L1337.6 2176.4L1332.7 2183L1327.8 2189.6L1322.9 2196.2L1318 2202.8L1313.1 2209.3L1308.2 2215.9L1303.3 2222.5L1298.4 2229L1293.5 2235.5L1288.6 2242.1L1283.7 2248.6L1278.8 2255.1L1274 2261.7L1269.2 2268.3L1264.4 2274.9L1259.6 2281.4L1254.8 2288L1250 2294.5L1245.2 2301.1L1240.4 2307.6L1235.6 2314.1L1230.8 2320.6L1226 2327.1L1221.2 2333.6L1216.4 2340.1L1211.6 2346.6L1206.8 2353.1L1202 2359.5L1197.2 2366L1192.4 2372.5L1187.6 2378.9L1182.8 2385.4L1178.3 2392L1173.7 2398.6L1169.2 2405.3L1164.6 2411.9L1160.1 2418.5L1155.5 2425.1L1151 2431.6L1146.5 2438L1142.3 2444.4L1138.3 2450.9L1134.2 2457.1L1130.3 2463L1126.3 2468.7L1122.3 2474.1L1118.5 2479.2L1114.8 2484.3L1111.1 2489L1107.3 2493.3L1103.5 2497.3L1099.3 2500.9A1.7 1.7 0 0 0 1100.6 2504ZM589 3181.9L594.2 3176.3L599.3 3170.6L604.4 3164.9L609.6 3159.1L614.7 3153.4L619.8 3147.6L624.9 3141.8L630.1 3136L635.2 3130.2L640.3 3124.4L645.5 3118.6L650.6 3112.7L655.7 3106.8L660.8 3100.9L666 3095L671.1 3089.1L676.2 3083.2L681.3 3077.3L686.4 3071.3L691.6 3065.3L696.7 3059.4L701.8 3053.4L706.9 3047.4L712.1 3041.4L717.2 3035.4L722.3 3029.4L727.4 3023.4L732.5 3017.3L737.5 3011.3L742.6 3005.2L747.7 2999.2L752.8 2993.1L757.9 2987L763 2981L768 2974.9L773.1 2968.8L778.2 2962.7L783.3 2956.7L788.4 2950.6L793.4 2944.5L798.5 2938.4L803.6 2932.4L808.7 2926.3L813.7 2920.2L818.8 2914.2L823.9 2908.1L829 2902L834 2896L839.1 2890L844.2 2883.9L849.2 2877.9L854.3 2871.9L859.4 2865.8L864.4 2859.8L869.5 2853.8L874.6 2847.8L879.6 2841.8L884.6 2835.8L889.5 2829.7L894.5 2823.7L899.5 2817.7L904.5 2811.8L909.5 2805.8L914.5 2799.8L919.5 2793.9L924.4 2788L929.4 2782.1L934.4 2776.2L939.4 2770.3L944.4 2764.4L949.3 2758.6L954.3 2752.7L959.3 2746.9L964.3 2741.1L969.2 2735.4L974.2 2729.6L979.2 2723.9L984.2 2718.2L989.6 2712.9L995 2707.6L1000.4 2702.3L1005.7 2697.1L1011.1 2691.9L1016.5 2686.7L1021.9 2681.5L1027.3 2676.4L1032.6 2671.3L1038 2666.2L1043.4 2661.2L1048.7 2656.1L1054.1 2651.2L1059.5 2646.2L1064.8 2641.3L1070.2 2636.4L1075.6 2631.7L1080.9 2627.3L1086 2623.2L1090.9 2619.5L1095.5 2616.2L1099.8 2613.5L1103.7 2611.5L1106.9 2610.1L1109.5 2609.4L1111.1 2609.5L1114.2 2609.1A50 50 0 0 0 1075.8 2516.8L1069 2520.6L1060.6 2525.9L1053.2 2531.6L1046.4 2537.5L1040.3 2543.6L1034.6 2549.7L1029.2 2555.9L1024.2 2562.1L1019.3 2568.3L1014.6 2574.4L1010.1 2580.5L1005.5 2586.4L1000.9 2592.2L996.2 2598.1L991.6 2604.1L987 2610L982.4 2616L977.8 2622L973.2 2628L968.6 2634.1L964 2640.1L959.4 2646.2L954.8 2652.3L950.2 2658.4L945.7 2664.6L941.1 2670.7L936.5 2676.9L931.5 2682.7L926.5 2688.6L921.5 2694.4L916.5 2700.3L911.5 2706.2L906.5 2712.1L901.5 2718L896.5 2724L891.5 2729.9L886.5 2735.9L881.5 2741.9L876.5 2747.9L871.5 2753.9L866.5 2759.9L861.6 2766L856.6 2772L851.6 2778.1L846.6 2784.1L841.6 2790.2L836.6 2796.3L831.6 2802.4L826.6 2808.5L821.7 2814.7L816.8 2820.8L811.9 2827L807 2833.2L802.1 2839.4L797.2 2845.6L792.3 2851.8L787.4 2858L782.5 2864.2L777.6 2870.5L772.7 2876.7L767.8 2882.9L762.9 2889.1L758 2895.3L753.1 2901.6L748.2 2907.8L743.3 2914L738.4 2920.2L733.5 2926.4L728.6 2932.6L723.7 2938.9L718.8 2945.1L713.9 2951.3L709 2957.5L704.1 2963.7L699.2 2969.9L694.3 2976L689.5 2982.2L684.6 2988.4L679.7 2994.6L674.8 3000.7L670 3006.9L665.1 3013.1L660.2 3019.2L655.4 3025.4L650.5 3031.5L645.7 3037.6L640.8 3043.7L636 3049.8L631.1 3055.9L626.3 3062L621.4 3068L616.6 3074.1L611.7 3080.1L606.9 3086.1L602 3092.1L597.2 3098.1L592.3 3104L587.5 3110L582.6 3115.9L577.8 3121.8L572.9 3127.7L568.1 3133.6L563.3 3139.4L558.4 3145.3L553.6 3151.1A23.5 23.5 0 0 0 589 3181.9ZM1073.8 2608.2L1077.2 2609L1079.4 2609.4L1082.2 2610.5L1085.6 2612.1L1089.4 2614.4L1093.6 2617.2L1098.1 2620.5L1102.8 2624.2L1107.6 2628.3L1112.7 2632.8L1117.8 2637.6L1122.9 2642.6L1128 2647.8L1133.2 2653.2L1138.5 2658.8L1143.8 2664.5L1149.2 2670.3L1154.6 2676.2L1160 2682.1L1165.4 2688.1L1170.8 2694L1176.3 2700L1181.7 2706L1187.1 2712L1192.6 2718L1198 2724L1203.4 2730L1208.9 2736L1214.3 2742L1219.4 2748.2L1224.4 2754.6L1229.4 2760.9L1234.4 2767.3L1239.5 2773.6L1244.5 2780L1249.5 2786.3L1254.5 2792.7L1259.5 2799.1L1264.5 2805.4L1269.5 2811.8L1274.5 2818.2L1279.6 2824.6L1284.6 2831L1289.6 2837.4L1294.6 2843.8L1299.6 2850.2L1304.6 2856.6L1309.6 2863L1314.6 2869.4L1319.7 2875.8L1324.7 2882.3L1329.7 2888.7L1334.7 2895.1L1339.7 2901.6L1344.7 2908L1349.7 2914.5L1354.7 2920.9L1360 2927.2L1365.3 2933.4L1370.7 2939.6L1376 2945.8L1381.4 2952L1386.7 2958.3L1392.1 2964.5L1397.4 2970.7L1403 2976.7L1408.9 2982.6L1414.8 2988.4L1420.7 2994.2L1426.6 3000.1L1432.4 3005.9L1437.9 3012.1L1443 3018.6L1448 3025.1L1453.1 3031.6L1458.2 3038.1L1463.2 3044.6L1468.3 3051.1L1473.3 3057.6L1478.4 3064.1L1483.4 3070.6L1488.5 3077.1L1493.5 3083.7L1498.6 3090.2L1503.6 3096.7L1508.7 3103.3L1513.7 3109.8L1518.8 3116.4L1523.8 3122.9L1528.9 3129.5L1534 3136L1539 3142.6L1544.1 3149.2L1549.1 3155.7L1554.2 3162.3L1559.2 3168.9L1564.3 3175.5A15 15 0 0 0 1588.3 3157.5L1583.5 3150.8L1578.6 3144.1L1573.7 3137.4L1568.8 3130.6L1564 3123.9L1559.1 3117.2L1554.2 3110.5L1549.4 3103.8L1544.5 3097.1L1539.6 3090.4L1534.8 3083.7L1529.9 3077L1525 3070.3L1520.1 3063.7L1515.3 3057L1510.4 3050.3L1505.5 3043.7L1500.7 3037L1495.8 3030.3L1490.9 3023.7L1486.1 3017L1481.2 3010.4L1476.3 3003.7L1471.4 2997.1L1466.6 2990.4L1462.1 2983.5L1458.1 2976.2L1454.1 2968.9L1450 2961.7L1446 2954.4L1441.9 2947.2L1437.6 2940.2L1433.1 2933.3L1428.5 2926.5L1423.9 2919.7L1419.3 2912.8L1414.8 2906L1410.2 2899.2L1405.6 2892.4L1400.9 2885.7L1396 2879.1L1391.1 2872.6L1386.2 2866L1381.3 2859.5L1376.3 2853L1371.4 2846.4L1366.5 2839.9L1361.6 2833.4L1356.7 2826.9L1351.8 2820.4L1346.9 2813.9L1342 2807.4L1337.1 2800.9L1332.1 2794.4L1327.2 2787.9L1322.3 2781.4L1317.4 2774.9L1312.5 2768.4L1307.6 2761.9L1302.7 2755.5L1297.8 2749L1292.9 2742.5L1287.9 2736.1L1283 2729.6L1278.1 2723.2L1273.2 2716.7L1268.3 2710.3L1263.5 2703.8L1259 2697L1254.5 2690.2L1250 2683.5L1245.5 2676.7L1241 2670L1236.5 2663.2L1232.1 2656.5L1227.6 2649.7L1223.1 2643L1218.6 2636.3L1214.1 2629.5L1209.5 2622.8L1205 2616L1200.4 2609.2L1195.7 2602.5L1191 2595.8L1186.2 2589.1L1181.4 2582.5L1176.6 2575.9L1171.7 2569.4L1166.6 2563L1161.4 2556.6L1155.9 2550.4L1150.2 2544.2L1144.1 2538.2L1137.5 2532.4L1130.5 2526.8L1122.7 2521.6L1116.2 2517.7A50 50 0 0 0 1073.8 2608.2Z"/>
<path fill="#0000ff" d="M532 1902.2L537.5 1907.4L543 1912.6L548.5 1917.8L553.9 1923.1L559 1928.6L564.2 1934.1L569.3 1939.5L574.5 1945L579.6 1950.5L584.8 1956L589.9 1961.5L595.1 1967L600.2 1972.5L605.3 1978L610.4 1983.6L615.5 1989.1L620.5 1994.7L625.6 2000.2L630.7 2005.7L635.8 2011.3L640.9 2016.8L646 2022.4L651.1 2027.9L656.2 2033.4L661.3 2039L666.3 2044.5L671.4 2050.1L676.5 2055.6L681.5 2061.2L686.6 2066.8L691.7 2072.3L696.7 2077.9L701.8 2083.4L706.8 2089L711.9 2094.6L716.9 2100.1L722 2105.7L727.1 2111.3L732.1 2116.8L737.2 2122.4L742.2 2127.9L747.3 2133.5L752.4 2139.1L757.4 2144.6L762.5 2150.2L767.5 2155.7L772.6 2161.3L777.7 2166.8L782.7 2172.4L787.8 2177.9L792.8 2183.5L797.9 2189L803 2194.5L808.1 2200L813.2 2205.5L818.4 2211.1L823.5 2216.6L828.6 2222.1L833.7 2227.6L838.8 2233.1L843.9 2238.6L849 2244.1L854.1 2249.6L859.2 2255.1L864.3 2260.6L869.4 2266.1L874.5 2271.6L879.6 2277.1L884.8 2282.6L889.9 2288.1L895 2293.6L900.1 2299.1L905.2 2304.6L910.3 2310L915.4 2315.5L920.5 2321L925.6 2326.5L930.7 2332L936 2337.4L941.2 2342.7L946.5 2348L951.8 2353.4L957.1 2358.7L962.3 2364.1L967.6 2369.4L972.9 2374.7L978.1 2380.1L983.4 2385.4L988.7 2390.7L993.9 2396.1L999.2 2401.4L1004.5 2406.7L1009.7 2412L1015 2417.4A0.4 0.4 0 0 0 1015.6 2416.9L1010.9 2411L1006.2 2405.2L1001.5 2399.4L996.8 2393.5L992.1 2387.7L987.4 2381.8L982.7 2376L978 2370.1L973.3 2364.3L968.6 2358.4L963.9 2352.6L959.2 2346.7L954.5 2340.9L949.8 2335L945.2 2329.2L940.4 2323.3L935.6 2317.6L930.7 2311.9L925.9 2306.2L921 2300.5L916.2 2294.8L911.3 2289.1L906.5 2283.4L901.6 2277.6L896.7 2271.9L891.9 2266.2L887 2260.5L882.2 2254.8L877.3 2249L872.5 2243.3L867.6 2237.6L862.7 2231.9L857.9 2226.2L853 2220.4L848.2 2214.7L843.3 2209L838.5 2203.2L833.6 2197.5L828.8 2191.8L823.9 2186.1L819 2180.3L814.2 2174.6L809.3 2168.9L804.4 2163.2L799.5 2157.5L794.6 2151.8L789.7 2146.1L784.8 2140.4L779.9 2134.7L775 2129.1L770.1 2123.4L765.2 2117.7L760.3 2112L755.4 2106.3L750.5 2100.6L745.6 2094.9L740.6 2089.2L735.7 2083.5L730.8 2077.8L725.9 2072.1L721 2066.4L716.1 2060.7L711.2 2055L706.3 2049.3L701.4 2043.6L696.5 2037.9L691.6 2032.2L686.7 2026.5L681.8 2020.8L677 2015L672.1 2009.3L667.2 2003.6L662.3 1997.9L657.5 1992.1L652.6 1986.4L647.7 1980.7L642.8 1975L638 1969.2L633.1 1963.5L628.2 1957.8L623.3 1952L618.5 1946.3L613.7 1940.5L608.9 1934.7L604.1 1928.9L599.2 1923.1L594.4 1917.4L589.6 1911.6L584.8 1905.8L580 1900L575.4 1894L570.9 1887.9L566.4 1881.8L562 1875.8A20 20 0 0 0 532 1902.2ZM578.1 3172.4L583 3166.6L588 3160.8L592.9 3154.9L597.8 3149.1L602.8 3143.2L607.7 3137.3L612.7 3131.4L617.6 3125.5L622.5 3119.5L627.5 3113.5L632.4 3107.6L637.3 3101.6L642.3 3095.6L647.2 3089.5L652.1 3083.5L657.1 3077.5L662 3071.4L666.9 3065.3L671.9 3059.3L676.8 3053.2L681.7 3047.1L686.7 3040.9L691.6 3034.8L696.5 3028.7L701.5 3022.5L706.4 3016.4L711.2 3010.2L716.1 3004L721 2997.8L725.9 2991.6L730.7 2985.3L735.6 2979.1L740.5 2972.9L745.4 2966.6L750.2 2960.4L755.1 2954.2L760 2947.9L764.8 2941.7L769.7 2935.5L774.6 2929.2L779.5 2923L784.3 2916.7L789.2 2910.5L794.1 2904.3L798.9 2898L803.8 2891.8L808.5 2885.4L813.3 2879.1L818 2872.7L822.7 2866.4L827.4 2860.1L832.2 2853.8L836.9 2847.5L841.6 2841.2L846.4 2834.9L851.1 2828.6A0.6 0.6 0 0 0 850.1 2827.8L844.9 2833.6L839.6 2839.5L834.4 2845.4L829.1 2851.3L823.9 2857.2L818.6 2863.1L813.4 2869L808.2 2874.9L802.9 2880.9L797.7 2886.8L792.5 2892.8L787.4 2898.9L782.3 2904.9L777.2 2911L772.1 2917L767 2923.1L761.9 2929.1L756.8 2935.2L751.7 2941.2L746.6 2947.3L741.5 2953.3L736.4 2959.4L731.3 2965.4L726.2 2971.4L721.1 2977.5L716 2983.5L710.9 2989.5L705.8 2995.6L700.7 3001.6L695.6 3007.6L690.5 3013.6L685.5 3019.6L680.4 3025.7L675.4 3031.7L670.4 3037.7L665.3 3043.7L660.3 3049.7L655.2 3055.6L650.2 3061.6L645.1 3067.5L640.1 3073.5L635.1 3079.4L630 3085.3L625 3091.2L619.9 3097.1L614.9 3102.9L609.9 3108.8L604.8 3114.6L599.8 3120.4L594.7 3126.2L589.7 3132L584.7 3137.8L579.6 3143.5L574.6 3149.2L569.6 3154.9L564.5 3160.6A9 9 0 0 0 578.1 3172.4ZM1174.8 2641.5L1176.4 2650.4L1179.6 2658.1L1184.5 2664.5L1189.3 2670.9L1194.2 2677.4L1199.1 2683.8L1203.9 2690.2L1208.8 2696.6L1213.7 2703.1L1218.6 2709.5L1223.4 2715.9L1228.3 2722.4L1233.2 2728.8L1238.1 2735.3L1242.9 2741.7L1247.7 2748.3L1252.4 2754.9L1257.1 2761.5L1261.8 2768.1L1266.5 2774.7L1271.2 2781.3L1275.9 2788L1280.6 2794.6L1285.3 2801.2L1290 2807.9L1294.6 2814.5L1299.2 2821.2L1303.9 2827.9L1308.5 2834.6L1313.1 2841.4L1317.7 2848.1L1322.3 2854.8L1327 2861.5L1331.6 2868.2L1336.2 2875L1340.8 2881.7L1345.4 2888.4L1350 2895.2L1354.7 2901.9L1359.3 2908.7L1363.9 2915.5L1368.5 2922.2L1373.1 2929L1377.7 2935.8L1382.3 2942.5L1386.8 2949.4L1391 2956.5L1395.3 2963.5L1399.6 2970.6L1403.8 2977.6L1408.1 2984.7L1412.4 2991.8L1416.6 2998.8L1420.9 3005.9L1425.1 3013L1429.4 3020L1433.7 3027.1L1437.9 3034.2L1442.2 3041.3L1446.5 3048.4L1450.7 3055.5L1455 3062.6L1459.4 3069.6L1463.7 3076.6L1468 3083.7L1472.4 3090.7L1476.7 3097.8L1481 3104.9L1485.4 3111.9L1489.7 3119L1494.1 3126.1L1498.4 3133.1L1502.7 3140.2L1507.1 3147.3L1511.4 3154.4L1515.7 3161.5L1520.1 3168.6L1524.4 3175.7L1528.7 3182.8L1533.1 3189.9L1537.4 3197A51 51 0 0 0 1619.2 3136L1613.6 3129.8L1608 3123.6L1602.4 3117.4L1596.8 3111.2L1591.2 3105L1585.7 3098.9L1580.1 3092.7L1574.5 3086.5L1568.9 3080.3L1563.3 3074.2L1557.7 3068L1552.1 3061.8L1546.5 3055.7L1541 3049.5L1535.4 3043.4L1529.8 3037.2L1524.2 3031.1L1518.6 3025L1513 3018.8L1507.4 3012.8L1501.7 3006.7L1496.1 3000.6L1490.4 2994.6L1484.8 2988.5L1479.1 2982.5L1473.4 2976.4L1467.8 2970.4L1462.1 2964.4L1456.5 2958.3L1450.8 2952.3L1445.1 2946.3L1439.5 2940.3L1433.8 2934.3L1428.2 2928.3L1422.5 2922.2L1417 2916.1L1411.7 2909.9L1406.4 2903.6L1401.1 2897.4L1395.8 2891.1L1390.5 2884.9L1385.1 2878.6L1379.8 2872.4L1374.5 2866.2L1369.2 2860L1363.9 2853.7L1358.6 2847.5L1353.3 2841.3L1348 2835.1L1342.7 2828.9L1337.4 2822.7L1332.1 2816.5L1326.8 2810.3L1321.5 2804.1L1316.2 2797.9L1310.9 2791.7L1305.6 2785.5L1300.4 2779.3L1295.2 2773L1290 2766.8L1284.8 2760.6L1279.5 2754.4L1274.3 2748.2L1269.1 2742L1263.9 2735.8L1258.7 2729.5L1253.6 2723.2L1248.6 2716.9L1243.5 2710.5L1238.5 2704.2L1233.4 2697.9L1228.4 2691.6L1223.3 2685.3L1218.3 2679L1213.2 2672.7L1208.2 2666.4L1203.1 2660.1L1198.1 2653.9L1193 2647.6L1186.3 2642.7L1178 2639A2 2 0 0 0 1174.8 2641.5Z"/>
<path fill="none" stroke="#303030" stroke-width="5" stroke-dasharray="20 28" d="M394 2528.5H1795"/>
<g fill="#ff0000">
<circle cx="1095" cy="2504" r="3"/>
<circle cx="1085.6" cy="2495.1" r="3.3"/>
<circle cx="1076.2" cy="2485.2" r="3.5"/>
<circle cx="1066.8" cy="2474.8" r="3.8"/>
<circle cx="1057.4" cy="2464.3" r="4"/>
<circle cx="1048" cy="2453.7" r="4.2"/>
<circle cx="1038.6" cy="2443.2" r="4.4"/>
<circle cx="1029.2" cy="2432.7" r="4.5"/>
<circle cx="1019.8" cy="2422.2" r="4.7"/>
<circle cx="1010.4" cy="2411.6" r="4.8"/>
<circle cx="1001" cy="2401.1" r="5"/>
<circle cx="991.6" cy="2390.6" r="5.1"/>
<circle cx="982.2" cy="2380" r="5.2"/>
<circle cx="972.8" cy="2369.5" r="5.3"/>
<circle cx="963.4" cy="2358.9" r="5.4"/>
<circle cx="954" cy="2348.4" r="5.5"/>
<circle cx="944.6" cy="2337.8" r="5.6"/>
<circle cx="935.2" cy="2327.2" r="5.6"/>
<circle cx="925.8" cy="2316.7" r="5.7"/>
<circle cx="916.4" cy="2306.1" r="5.8"/>
<circle cx="907" cy="2295.5" r="5.9"/>
<circle cx="897.6" cy="2285" r="6"/>
<circle cx="888.2" cy="2274.4" r="6"/>
<circle cx="878.8" cy="2263.8" r="6"/>
<circle cx="869.4" cy="2253.2" r="6"/>
<circle cx="860" cy="2242.6" r="6.1"/>
<circle cx="850.6" cy="2232" r="6.1"/>
<circle cx="841.2" cy="2221.4" r="6.1"/>
<circle cx="831.8" cy="2210.8" r="6.1"/>
<circle cx="822.4" cy="2200.2" r="6.1"/>
<circle cx="813" cy="2189.6" r="6.1"/>
<circle cx="803.6" cy="2179" r="6.1"/>
<circle cx="794.2" cy="2168.4" r="6.1"/>
<circle cx="784.8" cy="2157.8" r="6.2"/>
<circle cx="775.4" cy="2147.2" r="6.2"/>
<circle cx="766" cy="2136.6" r="6.2"/>
<circle cx="756.6" cy="2126" r="6.2"/>
<circle cx="747.2" cy="2115.4" r="6.2"/>
<circle cx="737.8" cy="2104.8" r="6.2"/>
<circle cx="728.4" cy="2094.1" r="6.2"/>
<circle cx="719" cy="2083.5" r="6.3"/>
<circle cx="709.6" cy="2072.9" r="6.3"/>
<circle cx="700.2" cy="2062.3" r="6.3"/>
<circle cx="690.8" cy="2051.6" r="6.3"/>
<circle cx="681.4" cy="2041" r="6.3"/>
<circle cx="672" cy="2030.4" r="6.3"/>
<circle cx="662.6" cy="2019.8" r="6.3"/>
<circle cx="653.2" cy="2009.1" r="6.3"/>
<circle cx="643.8" cy="1998.5" r="6.4"/>
<circle cx="634.4" cy="1987.9" r="6.4"/>
<circle cx="625" cy="1977.2" r="6.4"/>
<circle cx="615.6" cy="1966.6" r="6.4"/>
<circle cx="606.2" cy="1956" r="6.4"/>
<circle cx="596.8" cy="1945.3" r="6.4"/>
<circle cx="587.4" cy="1934.7" r="6.4"/>
<circle cx="578" cy="1924.1" r="6.5"/>
<circle cx="568.6" cy="1913.4" r="6.5"/>
<circle cx="559.2" cy="1902.8" r="6.5"/>
<circle cx="549.8" cy="1892.2" r="6.5"/>
<circle cx="547" cy="1889" r="6.5"/>
<circle cx="1095" cy="2504" r="3.5"/>
<circle cx="1110.5" cy="2497.1" r="4.5"/>
<circle cx="1126.1" cy="2485.3" r="5.3"/>
<circle cx="1141.6" cy="2469.6" r="5.5"/>
<circle cx="1157.2" cy="2451.5" r="5.5"/>
<circle cx="1172.7" cy="2432.1" r="5.5"/>
<circle cx="1188.2" cy="2412.4" r="5.5"/>
<circle cx="1203.8" cy="2392.6" r="5.5"/>
<circle cx="1219.3" cy="2372.7" r="5.5"/>
<circle cx="1234.9" cy="2352.8" r="5.5"/>
<circle cx="1250.4" cy="2332.8" r="5.5"/>
<circle cx="1265.9" cy="2312.7" r="5.5"/>
<circle cx="1281.5" cy="2292.6" r="5.5"/>
<circle cx="1297" cy="2272.4" r="5.5"/>
<circle cx="1312.6" cy="2252.1" r="5.5"/>
<circle cx="1328.1" cy="2231.7" r="5.5"/>
<circle cx="1343.6" cy="2211.2" r="5.5"/>
<circle cx="1359.2" cy="2190.6" r="5.5"/>
<circle cx="1374.7" cy="2170" r="5.5"/>
<circle cx="1390.3" cy="2149.2" r="5.5"/>
<circle cx="1405.8" cy="2128.4" r="5.5"/>
<circle cx="1421.3" cy="2107.4" r="5.5"/>
<circle cx="1436.9" cy="2086.4" r="5.5"/>
<circle cx="1452.4" cy="2065.2" r="5.5"/>
<circle cx="1468" cy="2044" r="5.5"/>
<circle cx="1483.5" cy="2022.6" r="5.5"/>
<circle cx="1499" cy="2001.1" r="5.5"/>
<circle cx="1514.6" cy="1979.5" r="5.5"/>
<circle cx="1530.1" cy="1957.8" r="5.5"/>
<circle cx="1545.7" cy="1936" r="5.5"/>
<circle cx="1561.2" cy="1914" r="5.5"/>
<circle cx="1576.7" cy="1892" r="5.5"/>
<circle cx="1095" cy="2562.9" r="5.5"/>
<circle cx="1085.6" cy="2567.4" r="5.5"/>
<circle cx="1076.2" cy="2573.7" r="5.5"/>
<circle cx="1066.8" cy="2581.5" r="5.5"/>
<circle cx="1057.4" cy="2590.4" r="5.5"/>
<circle cx="1048" cy="2600.1" r="5.5"/>
<circle cx="1038.6" cy="2610.1" r="5.5"/>
<circle cx="1029.2" cy="2620.3" r="5.5"/>
<circle cx="1019.8" cy="2630.5" r="5.5"/>
<circle cx="1010.4" cy="2640.9" r="5.5"/>
<circle cx="1001" cy="2651.3" r="5.5"/>
<circle cx="991.6" cy="2661.9" r="5.5"/>
<circle cx="982.2" cy="2672.5" r="5.5"/>
<circle cx="972.8" cy="2683.2" r="5.5"/>
<circle cx="963.4" cy="2694" r="5.5"/>
<circle cx="954" cy="2704.9" r="5.5"/>
<circle cx="944.6" cy="2715.8" r="5.5"/>
<circle cx="935.2" cy="2726.8" r="5.5"/>
<circle cx="925.8" cy="2737.9" r="5.6"/>
<circle cx="916.4" cy="2749" r="5.6"/>
<circle cx="907" cy="2760.2" r="5.6"/>
<circle cx="897.6" cy="2771.4" r="5.7"/>
<circle cx="888.2" cy="2782.7" r="5.7"/>
<circle cx="878.8" cy="2794" r="5.7"/>
<circle cx="869.4" cy="2805.3" r="5.8"/>
<circle cx="860" cy="2816.7" r="5.8"/>
<circle cx="850.6" cy="2828.2" r="5.8"/>
<circle cx="841.2" cy="2839.6" r="5.9"/>
<circle cx="831.8" cy="2851.1" r="5.9"/>
<circle cx="822.4" cy="2862.7" r="5.9"/>
<circle cx="813" cy="2874.2" r="6"/>
<circle cx="803.6" cy="2885.7" r="6"/>
<circle cx="794.2" cy="2897.3" r="6"/>
<circle cx="784.8" cy="2908.9" r="6"/>
<circle cx="775.4" cy="2920.5" r="6.1"/>
<circle cx="766" cy="2932.1" r="6.1"/>
<circle cx="756.6" cy="2943.6" r="6.1"/>
<circle cx="747.2" cy="2955.2" r="6.1"/>
<circle cx="737.8" cy="2966.8" r="6.1"/>
<circle cx="728.4" cy="2978.4" r="6.2"/>
<circle cx="719" cy="2989.9" r="6.2"/>
<circle cx="709.6" cy="3001.4" r="6.2"/>
<circle cx="700.2" cy="3012.9" r="6.2"/>
<circle cx="690.8" cy="3024.4" r="6.2"/>
<circle cx="681.4" cy="3035.9" r="6.3"/>
<circle cx="672" cy="3047.3" r="6.3"/>
<circle cx="662.6" cy="3058.6" r="6.3"/>
<circle cx="653.2" cy="3070" r="6.3"/>
<circle cx="643.8" cy="3081.3" r="6.3"/>
<circle cx="634.4" cy="3092.5" r="6.4"/>
<circle cx="625" cy="3103.7" r="6.4"/>
<circle cx="615.6" cy="3114.8" r="6.4"/>
<circle cx="606.2" cy="3125.9" r="6.4"/>
<circle cx="596.8" cy="3136.9" r="6.4"/>
<circle cx="587.4" cy="3147.9" r="6.5"/>
<circle cx="578" cy="3158.8" r="6.5"/>
<circle cx="571.3" cy="3166.5" r="6.5"/>
<circle cx="1095" cy="2563" r="6"/>
<circle cx="1110.5" cy="2571.9" r="6.3"/>
<circle cx="1126.1" cy="2585" r="6.7"/>
<circle cx="1141.6" cy="2601.1" r="7"/>
<circle cx="1157.2" cy="2619" r="7"/>
<circle cx="1172.7" cy="2638.1" r="7"/>
<circle cx="1188.2" cy="2657.9" r="7"/>
<circle cx="1203.8" cy="2677.8" r="7"/>
<circle cx="1219.3" cy="2697.7" r="7"/>
<circle cx="1234.9" cy="2717.7" r="7"/>
<circle cx="1250.4" cy="2737.7" r="7"/>
<circle cx="1265.9" cy="2757.7" r="7"/>
<circle cx="1281.5" cy="2777.8" r="7"/>
<circle cx="1297" cy="2798" r="7"/>
<circle cx="1312.6" cy="2818.1" r="7"/>
<circle cx="1328.1" cy="2838.3" r="7"/>
<ellipse cx="1343.6" cy="2858.6" rx="6.5" ry="9.5"/>
<ellipse cx="1359.2" cy="2878.9" rx="6.5" ry="9.5"/>
<ellipse cx="1374.7" cy="2899.2" rx="6.5" ry="9.5"/>
<ellipse cx="1390.3" cy="2919.6" rx="6.5" ry="9.5"/>
<ellipse cx="1405.8" cy="2940" rx="6.5" ry="9.5"/>
<ellipse cx="1421.3" cy="2960.5" rx="6.5" ry="9.5"/>
<ellipse cx="1436.9" cy="2981" rx="6.5" ry="9.5"/>
<ellipse cx="1452.4" cy="3001.5" rx="6.5" ry="9.5"/>
<ellipse cx="1468" cy="3022" rx="6.5" ry="9.5"/>
<ellipse cx="1483.5" cy="3042.7" rx="6.5" ry="9.5"/>
<ellipse cx="1499" cy="3063.3" rx="6.5" ry="9.5"/>
<ellipse cx="1514.6" cy="3084" rx="6.5" ry="9.5"/>
<ellipse cx="1530.1" cy="3104.7" rx="6.5" ry="9.5"/>
<ellipse cx="1545.7" cy="3125.5" rx="6.5" ry="9.5"/>
<ellipse cx="1561.2" cy="3146.3" rx="6.5" ry="9.5"/>
<ellipse cx="1576.7" cy="3166.5" rx="6.5" ry="9.5"/>
</g>
<g fill="none" stroke="#222" stroke-width="5.5" stroke-opacity="0.92">
<rect x="395" y="1888.5" width="1400" height="1281"/>
<path stroke-width="4.5" stroke-opacity="0.75" d="M395 2016.6h31M1795 2016.6h-31M395 2272.8h31M1795 2272.8h-31M395 2529h31M1795 2529h-31M395 2785.2h31M1795 2785.2h-31M395 3041.4h31M1795 3041.4h-31M1095 3169.5v-31M1095 1888.5v31"/>
</g>
<g fill="#111">
<text transform="scale(1.135 1)" font-size="78"><tspan x="346.3" y="75">C </tspan><tspan x="410.4" y="75">p</tspan><tspan x="450.6" y="86" font-size="62" font-style="italic">z</tspan></text>
<text transform="scale(1.142 1)" font-size="78"><tspan x="768.4" y="75">N </tspan><tspan x="839.7" y="75">p</tspan><tspan x="879.7" y="86" font-size="62" font-style="italic">z</tspan></text>
<text transform="scale(1.023 1)" font-size="78"><tspan x="1355.9" y="75">B </tspan><tspan x="1421.7" y="75">p</tspan><tspan x="1465.5" y="86" font-size="62" font-style="italic">z</tspan></text>
<text transform="scale(1.108 1)" font-size="78"><tspan x="324" y="150">C </tspan><tspan x="390.4" y="150">p</tspan><tspan x="430.7" y="161" font-size="62" font-style="italic">xy</tspan></text>
<text transform="scale(1.122 1)" font-size="78"><tspan x="753" y="150">N </tspan><tspan x="824.5" y="150">p</tspan><tspan x="864.3" y="161" font-size="62" font-style="italic">xy</tspan></text>
<text transform="scale(1.033 1)" font-size="78"><tspan x="1308.5" y="150">B </tspan><tspan x="1374.1" y="150">p</tspan><tspan x="1417.8" y="161" font-size="62" font-style="italic">xy</tspan></text>
<text transform="scale(1.047 1)" font-size="80"><tspan x="255.5" y="235">5</tspan></text>
<text transform="scale(1.027 1)" font-size="80"><tspan x="261.2" y="555.1">0</tspan></text>
<text transform="scale(1.047 1)" font-size="80"><tspan x="201" y="888.7" font-size="100">−</tspan><tspan x="255.5" y="875.2">5</tspan></text>
<text transform="scale(0.963 1)" font-size="80"><tspan x="182.1" y="1208.8" font-size="100">−</tspan><tspan x="241.1" y="1195.4">10</tspan></text>
<text transform="scale(0.957 1)" font-size="80"><tspan x="183.4" y="1529" font-size="100">−</tspan><tspan x="242.6" y="1515.5">15</tspan></text>
<text transform="translate(130 0) rotate(-90) scale(0.893 1)" font-size="82"><tspan x="-1168.4" y="0" font-size="78">E </tspan><tspan x="-1096.9" y="14.7" font-size="100">− </tspan><tspan x="-1016.3" y="0" font-size="78">E</tspan><tspan x="-967.2" y="16" font-size="58" font-style="italic">F </tspan><tspan x="-906.4" y="2">[</tspan><tspan x="-876.5" y="0" font-size="78">e</tspan><tspan x="-838.1" y="0" font-size="78">V</tspan><tspan x="-779.8" y="2">]</tspan></text>
<text transform="scale(1.041 1)" font-size="62" font-weight="bold"><tspan x="22.6" y="1588">(a)</tspan></text>
<text transform="scale(1.050 1)" font-size="78"><tspan x="299.2" y="1590">M</tspan></text>
<text transform="scale(0.999 1)" font-size="78"><tspan x="802.3" y="1590">K</tspan></text>
<text transform="scale(1.046 1)" font-size="78"><tspan x="1690.5" y="1590">Γ</tspan></text>
<text transform="scale(0.995 1)" font-size="78"><tspan x="670.9" y="1750.6">B </tspan><tspan x="740.6" y="1750.6">p</tspan><tspan x="784" y="1761.7" font-size="62" font-style="italic">z</tspan></text>
<text transform="scale(1.113 1)" font-size="78"><tspan x="1000.4" y="1750.6">N </tspan><tspan x="1072.7" y="1750.6">p</tspan><tspan x="1112.3" y="1761.7" font-size="62" font-style="italic">xy</tspan></text>
<text transform="scale(1.116 1)" font-size="78"><tspan x="586.1" y="1825.6">N </tspan><tspan x="658.4" y="1825.6">p</tspan><tspan x="697.9" y="1836.7" font-size="62" font-style="italic">z</tspan></text>
<text transform="scale(1.025 1)" font-size="78"><tspan x="1098.5" y="1825.6">B </tspan><tspan x="1165.9" y="1825.6">p</tspan><tspan x="1209.6" y="1836.7" font-size="62" font-style="italic">xy</tspan></text>
<text transform="scale(0.941 1)" font-size="80"><tspan x="273" y="2038.6">0.4</tspan></text>
<text transform="scale(0.974 1)" font-size="80"><tspan x="263.7" y="2294.8">0.2</tspan></text>
<text transform="scale(0.997 1)" font-size="80"><tspan x="312.7" y="2551">0</tspan></text>
<text transform="scale(0.974 1)" font-size="80"><tspan x="205.3" y="2820.6" font-size="100">−</tspan><tspan x="263.7" y="2807.2">0.2</tspan></text>
<text transform="scale(0.941 1)" font-size="80"><tspan x="213.4" y="3076.8" font-size="100">−</tspan><tspan x="273" y="3063.4">0.4</tspan></text>
<text transform="translate(130 0) rotate(-90) scale(0.893 1)" font-size="82"><tspan x="-3045.3" y="0" font-size="78">E </tspan><tspan x="-2973.8" y="14.7" font-size="100">− </tspan><tspan x="-2893.2" y="0" font-size="78">E</tspan><tspan x="-2844.1" y="16" font-size="58" font-style="italic">F </tspan><tspan x="-2783.3" y="2">[</tspan><tspan x="-2753.3" y="0" font-size="78">e</tspan><tspan x="-2715" y="0" font-size="78">V</tspan><tspan x="-2656.7" y="2">]</tspan></text>
<text transform="scale(1.103 1)" font-size="62" font-weight="bold"><tspan x="21.2" y="3263.5">(b)</tspan></text>
<text transform="scale(1.044 1)" font-size="78"><tspan x="1016.3" y="3265.5">K</tspan></text>
</g>
</svg>
</body></html>
